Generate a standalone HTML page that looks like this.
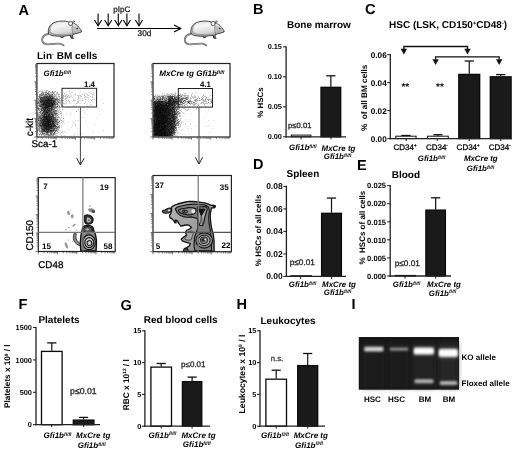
<!DOCTYPE html>
<html><head><meta charset="utf-8"><style>
html,body{margin:0;padding:0;background:#fff;width:520px;height:452px;overflow:hidden}
svg{display:block;filter:grayscale(1) blur(0.35px)}
text{font-family:"Liberation Sans",sans-serif;text-rendering:geometricPrecision}
</style></head><body>
<svg width="520" height="452" viewBox="0 0 520 452">
<text x="18.5" y="15" font-size="14.5" font-weight="bold">A</text>
<text x="253" y="14" font-size="14.5" font-weight="bold">B</text>
<text x="365" y="14" font-size="14.5" font-weight="bold">C</text>
<text x="253" y="169" font-size="14.5" font-weight="bold">D</text>
<text x="357" y="169.5" font-size="14.5" font-weight="bold">E</text>
<text x="18.5" y="309" font-size="14.5" font-weight="bold">F</text>
<text x="120.5" y="310" font-size="14.5" font-weight="bold">G</text>
<text x="236.5" y="309" font-size="14.5" font-weight="bold">H</text>
<text x="351.5" y="309" font-size="14.5" font-weight="bold">I</text>
<defs><linearGradient id="mg" x1="0" y1="0" x2="0.3" y2="1"><stop offset="0" stop-color="#dcdcdc"/><stop offset="0.35" stop-color="#f6f6f6"/><stop offset="0.75" stop-color="#d9d9d9"/><stop offset="1" stop-color="#8c8c8c"/></linearGradient></defs>
<g transform="translate(0,0)" stroke-linejoin="round" stroke-linecap="round"><path d="M48.5 33.8 C45 34.5 42.6 36.5 42.2 39 C42 41.5 43.5 43.6 46 44.2 C50 44.8 55 43.4 59.5 43.6 C61.5 43.8 62.8 44.5 63.6 45.3" fill="none" stroke="#555" stroke-width="1.8"/><path d="M48.5 33.8 C45 34.5 42.6 36.5 42.2 39 C42 41.5 43.5 43.6 46 44.2 C50 44.8 55 43.4 59.5 43.6 C61.5 43.8 62.8 44.5 63.6 45.3" fill="none" stroke="#ddd" stroke-width="0.6"/><path d="M48.4 33.2 C47.8 30 48.6 26.6 51.5 24.1 C54 22.2 57.5 21.3 61.2 21.1 C64.5 21 67 21.3 69.2 22.2 C71.5 21.8 73.5 22.4 74.5 23.6 C76.5 24.6 78.5 26.5 80.3 29.2 C81.2 30.4 81.9 31.2 81.4 31.9 C80.3 32.6 78.8 32.8 77.5 33.2 C76 33.6 74 34 72.6 34.6 L72.6 37.9 L71 37.4 L70.4 35.4 C69 35.6 67.5 35.6 66.3 35.7 L64 36.3 L61.5 37.2 L59.8 36.2 C57 36.2 53.5 36 51.2 35.2 C49.8 34.8 48.8 34.2 48.4 33.2 Z" fill="url(#mg)" stroke="#2a2a2a" stroke-width="0.85"/><path d="M48.8 32.8 C50.5 35 55 36 60 35.8 C64 35.8 67 35.6 70 35.2 C66 34.6 60 34.8 55 33.8 C52 33.2 50.2 31.8 49.5 30 Z" fill="#777" fill-opacity="0.55"/><path d="M48.6 31 C48.5 27.5 50.5 24.5 53.5 23 C51.5 25.5 50.5 28.5 50.5 31.5 Z" fill="#666" fill-opacity="0.5"/><path d="M72.5 25 C75.5 25.6 78.5 27.8 80.5 30.5 C79 31.8 76.5 32.5 74.5 32.8 C73 31 72.2 28 72.5 25 Z" fill="#9a9a9a" fill-opacity="0.5"/><path d="M72.3 25.2 C71.8 28 72 31 73.2 34" fill="none" stroke="#555" stroke-width="0.6"/><circle cx="70.6" cy="23.5" r="2.1" fill="#f7f7f7" stroke="#444" stroke-width="0.8"/><circle cx="73.7" cy="21.6" r="0.9" fill="#bbb" stroke="#555" stroke-width="0.5"/><circle cx="77.2" cy="28.4" r="0.75" fill="#111"/><circle cx="81.3" cy="31.3" r="0.5" fill="#333"/><path d="M70.6 35.3 L71.3 38.2 L73.6 38.4" fill="none" stroke="#333" stroke-width="1"/><path d="M60.3 36.1 L61 37.5 L63 37.5" fill="none" stroke="#444" stroke-width="0.9"/></g>
<g transform="translate(142.6,0)" stroke-linejoin="round" stroke-linecap="round"><path d="M48.5 33.8 C45 34.5 42.6 36.5 42.2 39 C42 41.5 43.5 43.6 46 44.2 C50 44.8 55 43.4 59.5 43.6 C61.5 43.8 62.8 44.5 63.6 45.3" fill="none" stroke="#555" stroke-width="1.8"/><path d="M48.5 33.8 C45 34.5 42.6 36.5 42.2 39 C42 41.5 43.5 43.6 46 44.2 C50 44.8 55 43.4 59.5 43.6 C61.5 43.8 62.8 44.5 63.6 45.3" fill="none" stroke="#ddd" stroke-width="0.6"/><path d="M48.4 33.2 C47.8 30 48.6 26.6 51.5 24.1 C54 22.2 57.5 21.3 61.2 21.1 C64.5 21 67 21.3 69.2 22.2 C71.5 21.8 73.5 22.4 74.5 23.6 C76.5 24.6 78.5 26.5 80.3 29.2 C81.2 30.4 81.9 31.2 81.4 31.9 C80.3 32.6 78.8 32.8 77.5 33.2 C76 33.6 74 34 72.6 34.6 L72.6 37.9 L71 37.4 L70.4 35.4 C69 35.6 67.5 35.6 66.3 35.7 L64 36.3 L61.5 37.2 L59.8 36.2 C57 36.2 53.5 36 51.2 35.2 C49.8 34.8 48.8 34.2 48.4 33.2 Z" fill="url(#mg)" stroke="#2a2a2a" stroke-width="0.85"/><path d="M48.8 32.8 C50.5 35 55 36 60 35.8 C64 35.8 67 35.6 70 35.2 C66 34.6 60 34.8 55 33.8 C52 33.2 50.2 31.8 49.5 30 Z" fill="#777" fill-opacity="0.55"/><path d="M48.6 31 C48.5 27.5 50.5 24.5 53.5 23 C51.5 25.5 50.5 28.5 50.5 31.5 Z" fill="#666" fill-opacity="0.5"/><path d="M72.5 25 C75.5 25.6 78.5 27.8 80.5 30.5 C79 31.8 76.5 32.5 74.5 32.8 C73 31 72.2 28 72.5 25 Z" fill="#9a9a9a" fill-opacity="0.5"/><path d="M72.3 25.2 C71.8 28 72 31 73.2 34" fill="none" stroke="#555" stroke-width="0.6"/><circle cx="70.6" cy="23.5" r="2.1" fill="#f7f7f7" stroke="#444" stroke-width="0.8"/><circle cx="73.7" cy="21.6" r="0.9" fill="#bbb" stroke="#555" stroke-width="0.5"/><circle cx="77.2" cy="28.4" r="0.75" fill="#111"/><circle cx="81.3" cy="31.3" r="0.5" fill="#333"/><path d="M70.6 35.3 L71.3 38.2 L73.6 38.4" fill="none" stroke="#333" stroke-width="1"/><path d="M60.3 36.1 L61 37.5 L63 37.5" fill="none" stroke="#444" stroke-width="0.9"/></g>
<line x1="98.1" y1="13.5" x2="98.1" y2="25.5" stroke="#000" stroke-width="1.1"/>
<path d="M94.5 20 L98.1 25.8 L101.69999999999999 20" fill="none" stroke="#000" stroke-width="1.1"/>
<line x1="108.2" y1="13.5" x2="108.2" y2="25.5" stroke="#000" stroke-width="1.1"/>
<path d="M104.60000000000001 20 L108.2 25.8 L111.8 20" fill="none" stroke="#000" stroke-width="1.1"/>
<line x1="118.3" y1="13.5" x2="118.3" y2="25.5" stroke="#000" stroke-width="1.1"/>
<path d="M114.7 20 L118.3 25.8 L121.89999999999999 20" fill="none" stroke="#000" stroke-width="1.1"/>
<line x1="126.9" y1="13.5" x2="126.9" y2="25.5" stroke="#000" stroke-width="1.1"/>
<path d="M123.30000000000001 20 L126.9 25.8 L130.5 20" fill="none" stroke="#000" stroke-width="1.1"/>
<line x1="139" y1="13.5" x2="139" y2="25.5" stroke="#000" stroke-width="1.1"/>
<path d="M135.4 20 L139 25.8 L142.6 20" fill="none" stroke="#000" stroke-width="1.1"/>
<line x1="97" y1="28.5" x2="180.5" y2="28.5" stroke="#000" stroke-width="1.1"/>
<path d="M174 25 L180.8 28.5 L174 32" fill="none" stroke="#000" stroke-width="1.1"/>
<text x="113.3" y="12.3" font-size="8" fill="#222" stroke="#222" stroke-width="0.28">pIpC</text>
<text x="137.6" y="36" font-size="8.3" fill="#222" stroke="#222" stroke-width="0.28">30d</text>
<text x="37" y="58.8" font-size="10" font-weight="bold">Lin<tspan font-size="5.80" dy="-3.30">-</tspan><tspan dy="3.30"> BM cells</tspan></text>
<defs><clipPath id="ca1"><rect x="38" y="64" width="75.5" height="72.5"/></clipPath><clipPath id="ca2"><rect x="153.5" y="64" width="76" height="72.5"/></clipPath><filter id="fb3" x="-50%" y="-50%" width="200%" height="200%"><feGaussianBlur stdDeviation="3"/></filter></defs>
<g clip-path="url(#ca1)"><g filter="url(#fb3)" fill="#555"><ellipse cx="47.5" cy="102.5" rx="7" ry="6"/><ellipse cx="47.5" cy="113" rx="6" ry="4"/><ellipse cx="47.5" cy="124" rx="7" ry="8.5"/></g></g>
<path d="M49 103h1v1h-1zM48 99h1v1h-1zM48 96h1v1h-1zM41 95h1v1h-1zM44 101h1v1h-1zM43 104h1v1h-1zM49 96h1v1h-1zM46 100h1v1h-1zM49 106h1v1h-1zM49 101h1v1h-1zM47 110h1v1h-1zM46 99h1v1h-1zM62 109h1v1h-1zM47 95h1v1h-1zM50 105h1v1h-1zM45 102h1v1h-1zM51 101h1v1h-1zM52 103h1v1h-1zM41 104h1v1h-1zM54 103h1v1h-1zM41 95h1v1h-1zM45 106h1v1h-1zM41 102h1v1h-1zM52 92h1v1h-1zM51 102h1v1h-1zM48 99h1v1h-1zM47 99h1v1h-1zM51 98h1v1h-1zM46 104h1v1h-1zM46 106h1v1h-1zM53 111h1v1h-1zM55 113h1v1h-1zM53 93h1v1h-1zM41 99h1v1h-1zM47 98h1v1h-1zM51 99h1v1h-1zM59 97h1v1h-1zM48 103h1v1h-1zM51 94h1v1h-1zM40 94h1v1h-1zM41 107h1v1h-1zM46 104h1v1h-1zM48 101h1v1h-1zM55 102h1v1h-1zM45 96h1v1h-1zM51 100h1v1h-1zM39 108h1v1h-1zM47 98h1v1h-1zM45 103h1v1h-1zM43 102h1v1h-1zM52 98h1v1h-1zM48 109h1v1h-1zM58 94h1v1h-1zM42 104h1v1h-1zM49 110h1v1h-1zM57 106h1v1h-1zM47 104h1v1h-1zM48 107h1v1h-1zM51 109h1v1h-1zM40 96h1v1h-1zM52 109h1v1h-1zM57 106h1v1h-1zM51 103h1v1h-1zM44 108h1v1h-1zM43 109h1v1h-1zM49 111h1v1h-1zM55 100h1v1h-1zM43 104h1v1h-1zM59 109h1v1h-1zM50 108h1v1h-1zM53 115h1v1h-1zM38 112h1v1h-1zM45 101h1v1h-1zM49 109h1v1h-1zM38 102h1v1h-1zM56 100h1v1h-1zM46 102h1v1h-1zM47 109h1v1h-1zM49 107h1v1h-1zM45 100h1v1h-1zM55 103h1v1h-1zM52 99h1v1h-1zM45 97h1v1h-1zM50 100h1v1h-1zM48 100h1v1h-1zM57 113h1v1h-1zM49 100h1v1h-1zM47 104h1v1h-1zM40 101h1v1h-1zM47 105h1v1h-1zM48 99h1v1h-1zM51 101h1v1h-1zM58 107h1v1h-1zM43 105h1v1h-1zM49 96h1v1h-1zM43 95h1v1h-1zM49 102h1v1h-1zM43 99h1v1h-1zM47 103h1v1h-1zM43 107h1v1h-1zM47 106h1v1h-1zM48 103h1v1h-1zM55 102h1v1h-1zM51 102h1v1h-1zM44 98h1v1h-1zM47 106h1v1h-1zM55 100h1v1h-1zM50 115h1v1h-1zM48 99h1v1h-1zM55 94h1v1h-1zM49 114h1v1h-1zM51 104h1v1h-1zM54 105h1v1h-1zM46 103h1v1h-1zM45 102h1v1h-1zM53 98h1v1h-1zM44 98h1v1h-1zM49 94h1v1h-1zM61 100h1v1h-1zM42 100h1v1h-1zM40 105h1v1h-1zM56 94h1v1h-1zM48 101h1v1h-1zM42 94h1v1h-1zM57 99h1v1h-1zM50 96h1v1h-1zM52 98h1v1h-1zM47 109h1v1h-1zM42 102h1v1h-1zM39 98h1v1h-1zM50 106h1v1h-1zM49 108h1v1h-1zM42 101h1v1h-1zM54 108h1v1h-1zM46 100h1v1h-1zM47 102h1v1h-1zM50 101h1v1h-1zM49 99h1v1h-1zM46 107h1v1h-1zM55 104h1v1h-1zM53 102h1v1h-1zM48 91h1v1h-1zM39 106h1v1h-1zM42 107h1v1h-1zM59 96h1v1h-1zM51 97h1v1h-1zM46 104h1v1h-1zM44 109h1v1h-1zM43 108h1v1h-1zM51 104h1v1h-1zM40 108h1v1h-1zM55 104h1v1h-1zM51 96h1v1h-1zM42 103h1v1h-1zM46 99h1v1h-1zM42 95h1v1h-1zM51 104h1v1h-1zM54 102h1v1h-1zM55 100h1v1h-1zM54 101h1v1h-1zM37 103h1v1h-1zM49 107h1v1h-1zM45 102h1v1h-1zM41 97h1v1h-1zM40 99h1v1h-1zM52 93h1v1h-1zM46 107h1v1h-1zM44 101h1v1h-1zM45 104h1v1h-1zM47 100h1v1h-1zM48 100h1v1h-1zM47 93h1v1h-1zM42 103h1v1h-1zM53 121h1v1h-1zM47 126h1v1h-1zM55 125h1v1h-1zM43 120h1v1h-1zM42 124h1v1h-1zM52 122h1v1h-1zM45 128h1v1h-1zM42 107h1v1h-1zM48 123h1v1h-1zM47 134h1v1h-1zM48 122h1v1h-1zM43 123h1v1h-1zM56 128h1v1h-1zM47 121h1v1h-1zM51 118h1v1h-1zM42 131h1v1h-1zM50 125h1v1h-1zM39 128h1v1h-1zM47 129h1v1h-1zM45 118h1v1h-1zM47 133h1v1h-1zM54 122h1v1h-1zM53 116h1v1h-1zM48 114h1v1h-1zM52 132h1v1h-1zM39 130h1v1h-1zM57 117h1v1h-1zM53 126h1v1h-1zM48 131h1v1h-1zM47 124h1v1h-1zM49 124h1v1h-1zM47 121h1v1h-1zM46 116h1v1h-1zM52 121h1v1h-1zM59 125h1v1h-1zM45 125h1v1h-1zM57 129h1v1h-1zM55 119h1v1h-1zM55 125h1v1h-1zM51 124h1v1h-1zM53 115h1v1h-1zM51 125h1v1h-1zM44 121h1v1h-1zM46 117h1v1h-1zM48 120h1v1h-1zM41 131h1v1h-1zM61 122h1v1h-1zM51 121h1v1h-1zM46 111h1v1h-1zM47 129h1v1h-1zM42 120h1v1h-1zM50 131h1v1h-1zM44 128h1v1h-1zM50 112h1v1h-1zM40 111h1v1h-1zM43 119h1v1h-1zM47 116h1v1h-1zM43 129h1v1h-1zM42 119h1v1h-1zM54 128h1v1h-1zM50 133h1v1h-1zM37 129h1v1h-1zM45 113h1v1h-1zM51 119h1v1h-1zM44 124h1v1h-1zM47 116h1v1h-1zM47 112h1v1h-1zM40 120h1v1h-1zM44 119h1v1h-1zM53 130h1v1h-1zM46 117h1v1h-1zM43 125h1v1h-1zM55 128h1v1h-1zM54 123h1v1h-1zM55 125h1v1h-1zM52 122h1v1h-1zM40 118h1v1h-1zM49 125h1v1h-1zM38 118h1v1h-1zM43 119h1v1h-1zM50 112h1v1h-1zM50 121h1v1h-1zM54 128h1v1h-1zM49 126h1v1h-1zM48 127h1v1h-1zM48 126h1v1h-1zM48 123h1v1h-1zM43 125h1v1h-1zM57 129h1v1h-1zM52 124h1v1h-1zM44 107h1v1h-1zM49 120h1v1h-1zM52 120h1v1h-1zM44 125h1v1h-1zM53 120h1v1h-1zM38 122h1v1h-1zM50 122h1v1h-1zM48 124h1v1h-1zM43 123h1v1h-1zM43 115h1v1h-1zM48 116h1v1h-1zM46 125h1v1h-1zM47 122h1v1h-1zM56 116h1v1h-1zM45 108h1v1h-1zM46 130h1v1h-1zM56 129h1v1h-1zM45 119h1v1h-1zM44 130h1v1h-1zM54 125h1v1h-1zM48 118h1v1h-1zM48 126h1v1h-1zM43 112h1v1h-1zM52 122h1v1h-1zM48 110h1v1h-1zM56 124h1v1h-1zM48 135h1v1h-1zM43 121h1v1h-1zM45 116h1v1h-1zM45 124h1v1h-1zM54 124h1v1h-1zM61 120h1v1h-1zM48 127h1v1h-1zM44 128h1v1h-1zM46 133h1v1h-1zM44 120h1v1h-1zM46 121h1v1h-1zM42 132h1v1h-1zM43 122h1v1h-1zM39 116h1v1h-1zM44 117h1v1h-1zM51 116h1v1h-1zM44 123h1v1h-1zM44 124h1v1h-1zM45 128h1v1h-1zM44 125h1v1h-1zM42 121h1v1h-1zM42 125h1v1h-1zM41 125h1v1h-1zM41 117h1v1h-1zM52 127h1v1h-1zM50 126h1v1h-1zM40 116h1v1h-1zM49 121h1v1h-1zM50 115h1v1h-1zM44 123h1v1h-1zM40 126h1v1h-1zM48 127h1v1h-1zM42 133h1v1h-1zM45 127h1v1h-1zM41 135h1v1h-1zM53 131h1v1h-1zM43 126h1v1h-1zM54 115h1v1h-1zM56 130h1v1h-1zM42 128h1v1h-1zM51 110h1v1h-1zM47 121h1v1h-1zM52 116h1v1h-1zM41 129h1v1h-1zM53 126h1v1h-1zM46 107h1v1h-1zM43 131h1v1h-1zM49 126h1v1h-1zM52 129h1v1h-1zM47 109h1v1h-1zM51 110h1v1h-1zM47 126h1v1h-1zM44 119h1v1h-1zM44 128h1v1h-1zM37 128h1v1h-1zM48 113h1v1h-1zM48 123h1v1h-1zM50 130h1v1h-1zM48 128h1v1h-1zM47 131h1v1h-1zM51 133h1v1h-1zM43 123h1v1h-1zM38 120h1v1h-1zM41 126h1v1h-1zM42 121h1v1h-1zM43 122h1v1h-1zM50 128h1v1h-1zM40 124h1v1h-1zM48 129h1v1h-1zM45 127h1v1h-1zM50 131h1v1h-1zM38 114h1v1h-1zM50 128h1v1h-1zM49 127h1v1h-1zM46 126h1v1h-1zM52 130h1v1h-1zM50 123h1v1h-1zM44 135h1v1h-1zM50 125h1v1h-1zM52 116h1v1h-1zM54 126h1v1h-1zM48 125h1v1h-1zM41 128h1v1h-1zM54 117h1v1h-1zM44 120h1v1h-1zM56 129h1v1h-1zM37 132h1v1h-1zM46 128h1v1h-1zM54 125h1v1h-1zM46 112h1v1h-1zM41 122h1v1h-1zM46 129h1v1h-1zM52 124h1v1h-1zM45 125h1v1h-1zM43 133h1v1h-1zM40 134h1v1h-1zM48 131h1v1h-1zM43 116h1v1h-1zM50 128h1v1h-1zM43 126h1v1h-1zM48 115h1v1h-1zM54 128h1v1h-1zM47 121h1v1h-1zM44 130h1v1h-1zM46 130h1v1h-1zM44 112h1v1h-1zM46 118h1v1h-1zM50 117h1v1h-1zM38 117h1v1h-1zM50 117h1v1h-1z" fill="#000" fill-opacity="0.21"/>
<path d="M52 102h1v1h-1zM51 107h1v1h-1zM46 110h1v1h-1zM45 100h1v1h-1zM47 102h1v1h-1zM52 98h1v1h-1zM42 107h1v1h-1zM43 98h1v1h-1zM39 105h1v1h-1zM47 98h1v1h-1zM51 107h1v1h-1zM52 105h1v1h-1zM42 100h1v1h-1zM43 105h1v1h-1zM45 99h1v1h-1zM56 107h1v1h-1zM58 101h1v1h-1zM44 102h1v1h-1zM43 100h1v1h-1zM48 104h1v1h-1zM58 96h1v1h-1zM46 119h1v1h-1zM50 103h1v1h-1zM44 110h1v1h-1zM46 108h1v1h-1zM50 97h1v1h-1zM52 102h1v1h-1zM52 104h1v1h-1zM43 103h1v1h-1zM44 108h1v1h-1zM46 108h1v1h-1zM47 107h1v1h-1zM54 94h1v1h-1zM51 103h1v1h-1zM38 107h1v1h-1zM53 104h1v1h-1zM38 98h1v1h-1zM56 103h1v1h-1zM52 103h1v1h-1zM44 106h1v1h-1zM46 92h1v1h-1zM51 98h1v1h-1zM46 100h1v1h-1zM52 100h1v1h-1zM43 99h1v1h-1zM45 100h1v1h-1zM51 103h1v1h-1zM53 108h1v1h-1zM51 109h1v1h-1zM51 102h1v1h-1zM49 100h1v1h-1zM55 107h1v1h-1zM54 100h1v1h-1zM48 99h1v1h-1zM47 93h1v1h-1zM48 105h1v1h-1zM49 98h1v1h-1zM46 104h1v1h-1zM58 102h1v1h-1zM48 104h1v1h-1zM46 101h1v1h-1zM37 107h1v1h-1zM48 97h1v1h-1zM42 90h1v1h-1zM48 106h1v1h-1zM45 98h1v1h-1zM43 93h1v1h-1zM40 106h1v1h-1zM41 102h1v1h-1zM53 101h1v1h-1zM54 106h1v1h-1zM47 100h1v1h-1zM41 109h1v1h-1zM44 107h1v1h-1zM53 105h1v1h-1zM46 106h1v1h-1zM48 105h1v1h-1zM38 108h1v1h-1zM47 93h1v1h-1zM53 107h1v1h-1zM50 98h1v1h-1zM51 110h1v1h-1zM49 93h1v1h-1zM44 111h1v1h-1zM49 103h1v1h-1zM54 98h1v1h-1zM48 98h1v1h-1zM39 112h1v1h-1zM47 98h1v1h-1zM55 99h1v1h-1zM50 104h1v1h-1zM53 102h1v1h-1zM42 103h1v1h-1zM46 105h1v1h-1zM60 107h1v1h-1zM42 107h1v1h-1zM49 104h1v1h-1zM51 102h1v1h-1zM47 107h1v1h-1zM58 111h1v1h-1zM49 96h1v1h-1zM52 91h1v1h-1zM58 99h1v1h-1zM43 105h1v1h-1zM57 106h1v1h-1zM45 100h1v1h-1zM43 111h1v1h-1zM48 110h1v1h-1zM50 100h1v1h-1zM46 102h1v1h-1zM49 102h1v1h-1zM43 105h1v1h-1zM46 111h1v1h-1zM54 108h1v1h-1zM44 109h1v1h-1zM46 105h1v1h-1zM44 103h1v1h-1zM46 96h1v1h-1zM57 105h1v1h-1zM41 105h1v1h-1zM51 96h1v1h-1zM52 104h1v1h-1zM47 109h1v1h-1zM40 98h1v1h-1zM52 109h1v1h-1zM49 105h1v1h-1zM40 101h1v1h-1zM50 100h1v1h-1zM54 104h1v1h-1zM53 103h1v1h-1zM45 95h1v1h-1zM43 105h1v1h-1zM40 102h1v1h-1zM39 97h1v1h-1zM58 110h1v1h-1zM43 104h1v1h-1zM52 116h1v1h-1zM52 103h1v1h-1zM46 107h1v1h-1zM45 99h1v1h-1zM42 101h1v1h-1zM56 97h1v1h-1zM54 103h1v1h-1zM41 104h1v1h-1zM63 115h1v1h-1zM51 101h1v1h-1zM44 108h1v1h-1zM57 106h1v1h-1zM55 106h1v1h-1zM55 101h1v1h-1zM46 120h1v1h-1zM46 108h1v1h-1zM52 92h1v1h-1zM40 102h1v1h-1zM47 102h1v1h-1zM53 102h1v1h-1zM45 110h1v1h-1zM43 96h1v1h-1zM61 97h1v1h-1zM51 103h1v1h-1zM41 100h1v1h-1zM54 110h1v1h-1zM46 99h1v1h-1zM40 97h1v1h-1zM45 100h1v1h-1zM44 101h1v1h-1zM54 92h1v1h-1zM43 97h1v1h-1zM49 100h1v1h-1zM57 100h1v1h-1zM56 99h1v1h-1zM55 100h1v1h-1zM42 104h1v1h-1zM39 117h1v1h-1zM45 120h1v1h-1zM45 123h1v1h-1zM48 124h1v1h-1zM42 131h1v1h-1zM53 129h1v1h-1zM49 116h1v1h-1zM49 113h1v1h-1zM39 109h1v1h-1zM44 118h1v1h-1zM45 130h1v1h-1zM43 118h1v1h-1zM46 130h1v1h-1zM38 125h1v1h-1zM49 118h1v1h-1zM40 131h1v1h-1zM49 122h1v1h-1zM43 134h1v1h-1zM39 125h1v1h-1zM53 102h1v1h-1zM48 130h1v1h-1zM51 119h1v1h-1zM45 129h1v1h-1zM53 123h1v1h-1zM37 115h1v1h-1zM45 117h1v1h-1zM47 124h1v1h-1zM56 126h1v1h-1zM52 122h1v1h-1zM51 128h1v1h-1zM48 133h1v1h-1zM55 125h1v1h-1zM55 125h1v1h-1zM43 125h1v1h-1zM46 127h1v1h-1zM47 123h1v1h-1zM57 127h1v1h-1zM61 120h1v1h-1zM48 126h1v1h-1zM44 121h1v1h-1zM44 129h1v1h-1zM41 118h1v1h-1zM45 121h1v1h-1zM45 121h1v1h-1zM42 115h1v1h-1zM49 113h1v1h-1zM42 118h1v1h-1zM43 117h1v1h-1zM45 112h1v1h-1zM58 122h1v1h-1zM38 129h1v1h-1zM46 128h1v1h-1zM48 125h1v1h-1zM39 122h1v1h-1zM47 127h1v1h-1zM51 128h1v1h-1zM46 117h1v1h-1zM54 133h1v1h-1zM59 121h1v1h-1zM49 125h1v1h-1zM46 120h1v1h-1zM52 131h1v1h-1zM43 125h1v1h-1zM47 120h1v1h-1zM51 126h1v1h-1zM44 131h1v1h-1zM44 127h1v1h-1zM49 129h1v1h-1zM49 124h1v1h-1zM37 119h1v1h-1zM42 125h1v1h-1zM48 119h1v1h-1zM41 122h1v1h-1zM52 115h1v1h-1zM47 126h1v1h-1zM45 122h1v1h-1zM47 132h1v1h-1zM42 133h1v1h-1zM57 133h1v1h-1zM47 126h1v1h-1zM48 123h1v1h-1zM51 135h1v1h-1zM54 112h1v1h-1zM48 122h1v1h-1zM51 132h1v1h-1zM45 126h1v1h-1zM45 120h1v1h-1zM39 114h1v1h-1zM53 112h1v1h-1zM58 132h1v1h-1zM43 119h1v1h-1zM51 115h1v1h-1zM50 126h1v1h-1zM55 121h1v1h-1zM52 127h1v1h-1zM47 122h1v1h-1zM45 128h1v1h-1zM43 128h1v1h-1zM52 113h1v1h-1zM47 127h1v1h-1zM46 132h1v1h-1zM40 121h1v1h-1zM50 123h1v1h-1zM63 118h1v1h-1zM53 121h1v1h-1zM51 127h1v1h-1zM46 112h1v1h-1zM50 117h1v1h-1zM52 130h1v1h-1zM57 126h1v1h-1zM55 131h1v1h-1zM51 121h1v1h-1zM47 112h1v1h-1zM51 118h1v1h-1zM45 117h1v1h-1zM47 134h1v1h-1zM45 125h1v1h-1zM46 116h1v1h-1zM48 127h1v1h-1zM53 135h1v1h-1zM41 125h1v1h-1zM39 110h1v1h-1zM40 119h1v1h-1zM56 121h1v1h-1zM48 119h1v1h-1zM52 116h1v1h-1zM48 125h1v1h-1zM44 124h1v1h-1zM52 131h1v1h-1zM41 128h1v1h-1zM40 117h1v1h-1zM51 128h1v1h-1zM55 126h1v1h-1zM46 133h1v1h-1zM46 115h1v1h-1zM47 127h1v1h-1zM53 124h1v1h-1zM44 120h1v1h-1zM53 125h1v1h-1zM59 122h1v1h-1zM48 120h1v1h-1zM52 114h1v1h-1zM51 114h1v1h-1zM44 111h1v1h-1zM51 115h1v1h-1zM39 125h1v1h-1zM56 120h1v1h-1zM56 130h1v1h-1zM44 124h1v1h-1zM54 117h1v1h-1zM54 134h1v1h-1zM44 124h1v1h-1zM44 125h1v1h-1zM44 116h1v1h-1zM48 116h1v1h-1zM42 130h1v1h-1zM54 114h1v1h-1zM45 110h1v1h-1zM55 116h1v1h-1zM53 117h1v1h-1zM42 129h1v1h-1zM49 122h1v1h-1zM49 124h1v1h-1zM48 114h1v1h-1zM53 117h1v1h-1zM49 108h1v1h-1zM53 118h1v1h-1zM56 123h1v1h-1zM46 125h1v1h-1zM48 116h1v1h-1zM50 117h1v1h-1zM49 117h1v1h-1zM49 122h1v1h-1zM49 118h1v1h-1zM49 125h1v1h-1zM51 131h1v1h-1zM49 112h1v1h-1zM46 116h1v1h-1zM48 120h1v1h-1zM50 125h1v1h-1zM50 123h1v1h-1zM43 128h1v1h-1zM41 134h1v1h-1zM59 127h1v1h-1zM45 118h1v1h-1zM52 118h1v1h-1zM45 122h1v1h-1zM57 128h1v1h-1zM58 119h1v1h-1zM40 117h1v1h-1zM42 117h1v1h-1zM57 117h1v1h-1zM54 128h1v1h-1zM52 123h1v1h-1zM52 117h1v1h-1zM51 130h1v1h-1zM51 120h1v1h-1zM41 122h1v1h-1zM41 115h1v1h-1zM43 130h1v1h-1zM39 135h1v1h-1zM56 121h1v1h-1zM49 118h1v1h-1zM53 115h1v1h-1zM53 133h1v1h-1zM50 111h1v1h-1zM48 121h1v1h-1zM46 126h1v1h-1zM47 120h1v1h-1zM53 114h1v1h-1zM54 125h1v1h-1zM49 113h1v1h-1zM41 114h1v1h-1zM61 117h1v1h-1zM53 114h1v1h-1zM48 122h1v1h-1zM47 132h1v1h-1zM52 121h1v1h-1zM57 124h1v1h-1zM47 124h1v1h-1zM53 129h1v1h-1zM49 117h1v1h-1zM44 123h1v1h-1zM43 134h1v1h-1zM46 112h1v1h-1zM51 133h1v1h-1z" fill="#000" fill-opacity="0.21"/>
<path d="M49 110h1v1h-1zM43 114h1v1h-1zM55 108h1v1h-1zM59 100h1v1h-1zM42 92h1v1h-1zM45 112h1v1h-1zM41 114h1v1h-1zM52 106h1v1h-1zM41 100h1v1h-1zM46 101h1v1h-1zM54 111h1v1h-1zM48 111h1v1h-1zM41 101h1v1h-1zM46 109h1v1h-1zM46 101h1v1h-1zM41 113h1v1h-1zM49 100h1v1h-1zM41 94h1v1h-1zM48 99h1v1h-1zM51 106h1v1h-1zM42 93h1v1h-1zM46 102h1v1h-1zM41 110h1v1h-1zM41 95h1v1h-1zM49 108h1v1h-1zM46 107h1v1h-1zM42 91h1v1h-1zM45 108h1v1h-1zM53 106h1v1h-1zM47 107h1v1h-1zM55 99h1v1h-1zM44 109h1v1h-1zM48 103h1v1h-1zM40 103h1v1h-1zM52 98h1v1h-1zM43 97h1v1h-1zM45 114h1v1h-1zM47 108h1v1h-1zM47 103h1v1h-1zM45 109h1v1h-1zM41 92h1v1h-1zM49 106h1v1h-1zM44 102h1v1h-1zM49 100h1v1h-1zM46 105h1v1h-1zM49 101h1v1h-1zM48 91h1v1h-1zM54 111h1v1h-1zM49 106h1v1h-1zM51 105h1v1h-1zM52 103h1v1h-1zM39 94h1v1h-1zM53 97h1v1h-1zM54 98h1v1h-1zM49 104h1v1h-1zM37 106h1v1h-1zM51 101h1v1h-1zM46 101h1v1h-1zM50 99h1v1h-1zM40 96h1v1h-1zM44 96h1v1h-1zM45 111h1v1h-1zM54 101h1v1h-1zM45 103h1v1h-1zM57 103h1v1h-1zM52 100h1v1h-1zM45 111h1v1h-1zM38 105h1v1h-1zM57 99h1v1h-1zM57 106h1v1h-1zM47 108h1v1h-1zM44 100h1v1h-1zM50 103h1v1h-1zM45 108h1v1h-1zM53 107h1v1h-1zM52 97h1v1h-1zM55 99h1v1h-1zM52 104h1v1h-1zM46 101h1v1h-1zM46 102h1v1h-1zM39 96h1v1h-1zM55 98h1v1h-1zM48 111h1v1h-1zM55 105h1v1h-1zM43 104h1v1h-1zM52 105h1v1h-1zM51 107h1v1h-1zM47 96h1v1h-1zM40 95h1v1h-1zM48 92h1v1h-1zM52 100h1v1h-1zM52 98h1v1h-1zM53 102h1v1h-1zM45 100h1v1h-1zM41 109h1v1h-1zM60 107h1v1h-1zM52 104h1v1h-1zM40 102h1v1h-1zM50 105h1v1h-1zM46 103h1v1h-1zM50 98h1v1h-1zM44 103h1v1h-1zM50 107h1v1h-1zM45 99h1v1h-1zM46 95h1v1h-1zM52 100h1v1h-1zM47 109h1v1h-1zM53 104h1v1h-1zM46 100h1v1h-1zM38 115h1v1h-1zM57 100h1v1h-1zM43 94h1v1h-1zM38 99h1v1h-1zM61 105h1v1h-1zM49 101h1v1h-1zM44 104h1v1h-1zM45 103h1v1h-1zM52 104h1v1h-1zM41 94h1v1h-1zM51 99h1v1h-1zM44 99h1v1h-1zM47 113h1v1h-1zM47 102h1v1h-1zM51 113h1v1h-1zM52 105h1v1h-1zM46 105h1v1h-1zM59 98h1v1h-1zM50 106h1v1h-1zM54 113h1v1h-1zM45 96h1v1h-1zM54 99h1v1h-1zM44 110h1v1h-1zM37 113h1v1h-1zM55 107h1v1h-1zM44 98h1v1h-1zM37 108h1v1h-1zM45 106h1v1h-1zM41 94h1v1h-1zM38 96h1v1h-1zM38 98h1v1h-1zM43 102h1v1h-1zM42 100h1v1h-1zM47 106h1v1h-1zM55 101h1v1h-1zM55 99h1v1h-1zM45 107h1v1h-1zM48 106h1v1h-1zM54 103h1v1h-1zM43 97h1v1h-1zM55 110h1v1h-1zM63 103h1v1h-1zM45 111h1v1h-1zM50 100h1v1h-1zM62 105h1v1h-1zM45 106h1v1h-1zM59 101h1v1h-1zM53 116h1v1h-1zM45 110h1v1h-1zM49 99h1v1h-1zM50 101h1v1h-1zM43 100h1v1h-1zM51 102h1v1h-1zM42 103h1v1h-1zM44 100h1v1h-1zM37 103h1v1h-1zM45 104h1v1h-1zM55 108h1v1h-1zM58 108h1v1h-1zM51 100h1v1h-1zM51 100h1v1h-1zM55 98h1v1h-1zM47 93h1v1h-1zM47 98h1v1h-1zM45 126h1v1h-1zM40 123h1v1h-1zM48 124h1v1h-1zM55 125h1v1h-1zM44 117h1v1h-1zM48 126h1v1h-1zM56 135h1v1h-1zM60 111h1v1h-1zM53 122h1v1h-1zM45 122h1v1h-1zM43 123h1v1h-1zM45 125h1v1h-1zM42 123h1v1h-1zM52 124h1v1h-1zM45 117h1v1h-1zM54 129h1v1h-1zM53 119h1v1h-1zM42 114h1v1h-1zM41 122h1v1h-1zM56 121h1v1h-1zM51 128h1v1h-1zM57 135h1v1h-1zM57 128h1v1h-1zM46 115h1v1h-1zM43 120h1v1h-1zM40 119h1v1h-1zM45 131h1v1h-1zM43 117h1v1h-1zM46 120h1v1h-1zM41 132h1v1h-1zM38 120h1v1h-1zM50 119h1v1h-1zM44 122h1v1h-1zM53 125h1v1h-1zM50 124h1v1h-1zM53 124h1v1h-1zM50 124h1v1h-1zM55 115h1v1h-1zM46 116h1v1h-1zM52 120h1v1h-1zM41 132h1v1h-1zM43 120h1v1h-1zM51 129h1v1h-1zM44 124h1v1h-1zM55 117h1v1h-1zM50 116h1v1h-1zM53 127h1v1h-1zM55 126h1v1h-1zM46 125h1v1h-1zM37 125h1v1h-1zM44 114h1v1h-1zM59 127h1v1h-1zM47 119h1v1h-1zM48 123h1v1h-1zM48 130h1v1h-1zM47 129h1v1h-1zM50 135h1v1h-1zM52 123h1v1h-1zM50 130h1v1h-1zM55 127h1v1h-1zM51 114h1v1h-1zM39 118h1v1h-1zM48 128h1v1h-1zM48 126h1v1h-1zM38 129h1v1h-1zM50 131h1v1h-1zM40 111h1v1h-1zM48 127h1v1h-1zM40 113h1v1h-1zM53 118h1v1h-1zM49 121h1v1h-1zM47 121h1v1h-1zM46 111h1v1h-1zM47 117h1v1h-1zM51 130h1v1h-1zM49 128h1v1h-1zM43 123h1v1h-1zM45 124h1v1h-1zM46 121h1v1h-1zM47 111h1v1h-1zM49 130h1v1h-1zM43 129h1v1h-1zM45 120h1v1h-1zM44 130h1v1h-1zM51 127h1v1h-1zM42 112h1v1h-1zM38 133h1v1h-1zM42 120h1v1h-1zM44 132h1v1h-1zM50 123h1v1h-1zM48 126h1v1h-1zM49 123h1v1h-1zM53 125h1v1h-1zM42 119h1v1h-1zM43 124h1v1h-1zM44 119h1v1h-1zM50 126h1v1h-1zM63 118h1v1h-1zM43 131h1v1h-1zM56 135h1v1h-1zM48 117h1v1h-1zM43 119h1v1h-1zM45 109h1v1h-1zM50 126h1v1h-1zM45 129h1v1h-1zM40 125h1v1h-1zM41 108h1v1h-1zM47 113h1v1h-1zM43 130h1v1h-1zM43 108h1v1h-1zM44 133h1v1h-1zM40 115h1v1h-1zM53 117h1v1h-1zM53 126h1v1h-1zM42 121h1v1h-1zM44 123h1v1h-1zM48 118h1v1h-1zM46 121h1v1h-1zM49 114h1v1h-1zM42 124h1v1h-1zM45 132h1v1h-1zM57 124h1v1h-1zM49 131h1v1h-1zM51 134h1v1h-1zM57 119h1v1h-1zM46 123h1v1h-1zM41 113h1v1h-1zM46 118h1v1h-1zM53 119h1v1h-1zM53 123h1v1h-1zM40 123h1v1h-1zM46 116h1v1h-1zM38 119h1v1h-1zM55 122h1v1h-1zM44 101h1v1h-1zM52 115h1v1h-1zM45 129h1v1h-1zM59 117h1v1h-1zM49 124h1v1h-1zM41 119h1v1h-1zM49 131h1v1h-1zM51 121h1v1h-1zM56 129h1v1h-1zM53 134h1v1h-1zM50 122h1v1h-1zM51 120h1v1h-1zM48 125h1v1h-1zM45 125h1v1h-1zM41 118h1v1h-1zM52 126h1v1h-1zM42 110h1v1h-1zM56 112h1v1h-1zM49 126h1v1h-1zM54 126h1v1h-1zM38 130h1v1h-1zM55 129h1v1h-1zM52 131h1v1h-1zM49 130h1v1h-1zM47 119h1v1h-1zM44 110h1v1h-1zM52 120h1v1h-1zM51 112h1v1h-1zM43 124h1v1h-1zM45 118h1v1h-1zM51 126h1v1h-1zM39 119h1v1h-1zM53 121h1v1h-1zM44 130h1v1h-1zM46 104h1v1h-1zM43 112h1v1h-1zM43 127h1v1h-1zM48 122h1v1h-1zM48 118h1v1h-1zM55 119h1v1h-1zM51 130h1v1h-1zM40 118h1v1h-1zM43 111h1v1h-1zM46 121h1v1h-1zM55 127h1v1h-1zM42 119h1v1h-1zM50 124h1v1h-1zM62 121h1v1h-1zM42 117h1v1h-1zM48 130h1v1h-1zM51 131h1v1h-1zM45 123h1v1h-1zM42 125h1v1h-1zM46 125h1v1h-1zM46 123h1v1h-1zM38 119h1v1h-1zM52 126h1v1h-1zM51 105h1v1h-1zM55 117h1v1h-1zM50 129h1v1h-1zM45 128h1v1h-1zM39 122h1v1h-1zM51 125h1v1h-1zM47 119h1v1h-1zM44 120h1v1h-1zM53 121h1v1h-1zM47 116h1v1h-1zM54 125h1v1h-1zM54 134h1v1h-1zM49 116h1v1h-1zM44 127h1v1h-1zM39 125h1v1h-1zM42 128h1v1h-1zM53 124h1v1h-1zM53 133h1v1h-1zM49 129h1v1h-1zM42 121h1v1h-1zM39 124h1v1h-1zM44 124h1v1h-1zM52 115h1v1h-1zM44 119h1v1h-1zM55 125h1v1h-1zM43 122h1v1h-1zM46 119h1v1h-1zM49 120h1v1h-1zM43 122h1v1h-1zM58 125h1v1h-1zM49 124h1v1h-1zM54 132h1v1h-1zM42 124h1v1h-1zM49 135h1v1h-1z" fill="#000" fill-opacity="0.21"/>
<path d="M40 98h1v1h-1zM47 109h1v1h-1zM53 116h1v1h-1zM51 102h1v1h-1zM47 103h1v1h-1zM52 105h1v1h-1zM49 106h1v1h-1zM49 94h1v1h-1zM52 97h1v1h-1zM53 96h1v1h-1zM50 96h1v1h-1zM44 99h1v1h-1zM51 102h1v1h-1zM42 107h1v1h-1zM50 118h1v1h-1zM48 103h1v1h-1zM44 113h1v1h-1zM51 109h1v1h-1zM39 103h1v1h-1zM42 104h1v1h-1zM46 112h1v1h-1zM48 104h1v1h-1zM43 106h1v1h-1zM48 100h1v1h-1zM46 110h1v1h-1zM43 107h1v1h-1zM44 99h1v1h-1zM46 102h1v1h-1zM48 100h1v1h-1zM45 103h1v1h-1zM44 113h1v1h-1zM43 104h1v1h-1zM50 96h1v1h-1zM45 93h1v1h-1zM50 108h1v1h-1zM47 101h1v1h-1zM55 108h1v1h-1zM53 92h1v1h-1zM46 105h1v1h-1zM58 100h1v1h-1zM53 100h1v1h-1zM46 108h1v1h-1zM51 101h1v1h-1zM45 97h1v1h-1zM49 101h1v1h-1zM48 106h1v1h-1zM49 102h1v1h-1zM47 106h1v1h-1zM48 99h1v1h-1zM49 104h1v1h-1zM42 113h1v1h-1zM40 101h1v1h-1zM48 101h1v1h-1zM41 98h1v1h-1zM43 102h1v1h-1zM50 95h1v1h-1zM46 96h1v1h-1zM40 106h1v1h-1zM49 95h1v1h-1zM48 93h1v1h-1zM43 98h1v1h-1zM53 101h1v1h-1zM43 98h1v1h-1zM45 106h1v1h-1zM48 98h1v1h-1zM43 110h1v1h-1zM52 103h1v1h-1zM44 106h1v1h-1zM56 111h1v1h-1zM45 109h1v1h-1zM49 91h1v1h-1zM45 103h1v1h-1zM54 107h1v1h-1zM48 104h1v1h-1zM43 101h1v1h-1zM44 95h1v1h-1zM57 101h1v1h-1zM49 96h1v1h-1zM42 102h1v1h-1zM46 101h1v1h-1zM49 104h1v1h-1zM54 100h1v1h-1zM54 101h1v1h-1zM48 105h1v1h-1zM50 102h1v1h-1zM43 104h1v1h-1zM42 97h1v1h-1zM52 100h1v1h-1zM54 102h1v1h-1zM44 98h1v1h-1zM37 108h1v1h-1zM47 107h1v1h-1zM45 92h1v1h-1zM41 91h1v1h-1zM43 99h1v1h-1zM53 101h1v1h-1zM47 107h1v1h-1zM40 95h1v1h-1zM46 106h1v1h-1zM50 95h1v1h-1zM51 109h1v1h-1zM52 105h1v1h-1zM44 97h1v1h-1zM56 99h1v1h-1zM52 106h1v1h-1zM44 102h1v1h-1zM50 105h1v1h-1zM44 97h1v1h-1zM48 99h1v1h-1zM50 102h1v1h-1zM44 99h1v1h-1zM43 107h1v1h-1zM56 108h1v1h-1zM37 103h1v1h-1zM47 98h1v1h-1zM48 108h1v1h-1zM51 105h1v1h-1zM50 98h1v1h-1zM49 106h1v1h-1zM49 106h1v1h-1zM50 99h1v1h-1zM43 92h1v1h-1zM61 105h1v1h-1zM40 100h1v1h-1zM52 107h1v1h-1zM57 103h1v1h-1zM50 108h1v1h-1zM47 90h1v1h-1zM48 103h1v1h-1zM52 107h1v1h-1zM48 97h1v1h-1zM51 107h1v1h-1zM54 95h1v1h-1zM43 102h1v1h-1zM50 99h1v1h-1zM55 107h1v1h-1zM43 96h1v1h-1zM42 99h1v1h-1zM48 103h1v1h-1zM49 100h1v1h-1zM50 102h1v1h-1zM42 101h1v1h-1zM46 102h1v1h-1zM42 98h1v1h-1zM41 101h1v1h-1zM52 98h1v1h-1zM45 93h1v1h-1zM44 105h1v1h-1zM49 105h1v1h-1zM40 98h1v1h-1zM49 105h1v1h-1zM54 97h1v1h-1zM43 99h1v1h-1zM53 97h1v1h-1zM48 92h1v1h-1zM44 106h1v1h-1zM52 97h1v1h-1zM40 104h1v1h-1zM57 115h1v1h-1zM45 94h1v1h-1zM57 104h1v1h-1zM52 103h1v1h-1zM52 107h1v1h-1zM57 98h1v1h-1zM49 97h1v1h-1zM54 106h1v1h-1zM44 110h1v1h-1zM43 100h1v1h-1zM50 111h1v1h-1zM41 93h1v1h-1zM45 103h1v1h-1zM55 91h1v1h-1zM42 106h1v1h-1zM46 113h1v1h-1zM47 124h1v1h-1zM49 123h1v1h-1zM47 123h1v1h-1zM54 125h1v1h-1zM53 113h1v1h-1zM47 123h1v1h-1zM45 122h1v1h-1zM51 116h1v1h-1zM45 120h1v1h-1zM48 126h1v1h-1zM41 120h1v1h-1zM44 127h1v1h-1zM44 114h1v1h-1zM48 123h1v1h-1zM44 119h1v1h-1zM57 127h1v1h-1zM52 125h1v1h-1zM44 127h1v1h-1zM45 116h1v1h-1zM52 121h1v1h-1zM46 131h1v1h-1zM50 128h1v1h-1zM48 128h1v1h-1zM43 123h1v1h-1zM47 119h1v1h-1zM53 133h1v1h-1zM45 121h1v1h-1zM41 135h1v1h-1zM42 117h1v1h-1zM38 118h1v1h-1zM56 113h1v1h-1zM41 119h1v1h-1zM55 120h1v1h-1zM44 117h1v1h-1zM50 122h1v1h-1zM44 128h1v1h-1zM53 115h1v1h-1zM49 117h1v1h-1zM59 125h1v1h-1zM47 112h1v1h-1zM39 125h1v1h-1zM46 127h1v1h-1zM49 122h1v1h-1zM47 115h1v1h-1zM47 126h1v1h-1zM45 122h1v1h-1zM57 124h1v1h-1zM44 121h1v1h-1zM47 128h1v1h-1zM43 114h1v1h-1zM46 116h1v1h-1zM51 130h1v1h-1zM40 120h1v1h-1zM50 120h1v1h-1zM50 131h1v1h-1zM49 125h1v1h-1zM49 127h1v1h-1zM53 127h1v1h-1zM49 115h1v1h-1zM47 132h1v1h-1zM53 124h1v1h-1zM50 124h1v1h-1zM48 130h1v1h-1zM52 125h1v1h-1zM45 122h1v1h-1zM53 119h1v1h-1zM51 128h1v1h-1zM53 120h1v1h-1zM47 124h1v1h-1zM53 129h1v1h-1zM49 126h1v1h-1zM57 126h1v1h-1zM45 124h1v1h-1zM50 119h1v1h-1zM54 122h1v1h-1zM49 119h1v1h-1zM57 120h1v1h-1zM48 121h1v1h-1zM53 125h1v1h-1zM51 114h1v1h-1zM56 118h1v1h-1zM50 120h1v1h-1zM55 125h1v1h-1zM46 118h1v1h-1zM43 128h1v1h-1zM49 122h1v1h-1zM37 114h1v1h-1zM46 111h1v1h-1zM45 120h1v1h-1zM41 120h1v1h-1zM55 118h1v1h-1zM43 125h1v1h-1zM40 123h1v1h-1zM38 119h1v1h-1zM51 125h1v1h-1zM49 113h1v1h-1zM54 113h1v1h-1zM47 127h1v1h-1zM42 122h1v1h-1zM41 121h1v1h-1zM49 121h1v1h-1zM45 123h1v1h-1zM39 134h1v1h-1zM50 114h1v1h-1zM45 122h1v1h-1zM50 133h1v1h-1zM47 106h1v1h-1zM44 128h1v1h-1zM49 124h1v1h-1zM41 118h1v1h-1zM40 104h1v1h-1zM42 132h1v1h-1zM53 127h1v1h-1zM43 122h1v1h-1zM51 123h1v1h-1zM43 116h1v1h-1zM37 131h1v1h-1zM39 134h1v1h-1zM58 122h1v1h-1zM47 122h1v1h-1zM47 120h1v1h-1zM45 110h1v1h-1zM49 120h1v1h-1zM43 127h1v1h-1zM42 129h1v1h-1zM47 118h1v1h-1zM49 125h1v1h-1zM41 126h1v1h-1zM45 121h1v1h-1zM39 120h1v1h-1zM50 118h1v1h-1zM46 132h1v1h-1zM53 124h1v1h-1zM48 123h1v1h-1zM56 110h1v1h-1zM39 120h1v1h-1zM53 115h1v1h-1zM46 116h1v1h-1zM44 107h1v1h-1zM51 133h1v1h-1zM57 124h1v1h-1zM39 124h1v1h-1zM52 116h1v1h-1zM46 130h1v1h-1zM43 115h1v1h-1zM46 117h1v1h-1zM52 116h1v1h-1zM45 131h1v1h-1zM59 117h1v1h-1zM49 122h1v1h-1zM50 127h1v1h-1zM52 117h1v1h-1zM52 124h1v1h-1zM42 120h1v1h-1zM42 110h1v1h-1zM43 110h1v1h-1zM51 130h1v1h-1zM48 121h1v1h-1zM52 130h1v1h-1zM42 115h1v1h-1zM52 126h1v1h-1zM53 111h1v1h-1zM47 132h1v1h-1zM51 128h1v1h-1zM47 113h1v1h-1zM53 104h1v1h-1zM44 126h1v1h-1zM53 117h1v1h-1zM58 129h1v1h-1zM55 125h1v1h-1zM47 120h1v1h-1zM51 122h1v1h-1zM48 120h1v1h-1zM60 113h1v1h-1zM42 116h1v1h-1zM51 134h1v1h-1zM45 121h1v1h-1zM55 111h1v1h-1zM44 130h1v1h-1zM57 131h1v1h-1zM54 125h1v1h-1zM49 124h1v1h-1zM47 113h1v1h-1zM52 128h1v1h-1zM53 130h1v1h-1zM43 116h1v1h-1zM44 134h1v1h-1zM48 123h1v1h-1zM45 119h1v1h-1zM55 125h1v1h-1zM48 116h1v1h-1zM48 132h1v1h-1zM46 127h1v1h-1zM56 130h1v1h-1zM44 116h1v1h-1zM50 119h1v1h-1zM44 131h1v1h-1zM48 132h1v1h-1zM48 128h1v1h-1zM53 126h1v1h-1zM53 127h1v1h-1zM44 121h1v1h-1zM55 131h1v1h-1zM56 126h1v1h-1zM55 126h1v1h-1zM39 112h1v1h-1zM49 114h1v1h-1zM50 128h1v1h-1zM44 123h1v1h-1zM57 122h1v1h-1zM39 116h1v1h-1zM44 128h1v1h-1zM42 124h1v1h-1zM48 129h1v1h-1zM54 132h1v1h-1zM50 119h1v1h-1zM50 116h1v1h-1zM49 126h1v1h-1zM45 121h1v1h-1zM53 129h1v1h-1zM47 120h1v1h-1zM43 124h1v1h-1zM53 119h1v1h-1zM43 125h1v1h-1z" fill="#000" fill-opacity="0.21"/>
<path d="M52 100h1v1h-1zM45 92h1v1h-1zM37 94h1v1h-1zM51 103h1v1h-1zM48 97h1v1h-1zM42 98h1v1h-1zM45 102h1v1h-1zM52 102h1v1h-1zM51 103h1v1h-1zM47 113h1v1h-1zM43 98h1v1h-1zM50 94h1v1h-1zM43 94h1v1h-1zM48 97h1v1h-1zM49 101h1v1h-1zM47 97h1v1h-1zM47 97h1v1h-1zM55 105h1v1h-1zM48 102h1v1h-1zM58 101h1v1h-1zM50 94h1v1h-1zM46 100h1v1h-1zM49 99h1v1h-1zM47 100h1v1h-1zM47 112h1v1h-1zM51 96h1v1h-1zM49 100h1v1h-1zM50 98h1v1h-1zM52 95h1v1h-1zM44 103h1v1h-1zM43 93h1v1h-1zM45 101h1v1h-1zM40 104h1v1h-1zM49 101h1v1h-1zM52 109h1v1h-1zM48 103h1v1h-1zM40 101h1v1h-1zM43 103h1v1h-1zM46 97h1v1h-1zM39 91h1v1h-1zM52 111h1v1h-1zM53 117h1v1h-1zM48 107h1v1h-1zM48 107h1v1h-1zM58 96h1v1h-1zM46 112h1v1h-1zM51 109h1v1h-1zM43 104h1v1h-1zM40 107h1v1h-1zM40 97h1v1h-1zM53 98h1v1h-1zM44 105h1v1h-1zM53 100h1v1h-1zM44 111h1v1h-1zM52 101h1v1h-1zM58 99h1v1h-1zM53 109h1v1h-1zM39 97h1v1h-1zM58 102h1v1h-1zM52 105h1v1h-1zM50 98h1v1h-1zM42 100h1v1h-1zM40 98h1v1h-1zM44 98h1v1h-1zM54 109h1v1h-1zM51 103h1v1h-1zM42 108h1v1h-1zM44 109h1v1h-1zM49 108h1v1h-1zM53 102h1v1h-1zM44 100h1v1h-1zM42 104h1v1h-1zM49 98h1v1h-1zM43 108h1v1h-1zM39 108h1v1h-1zM42 105h1v1h-1zM44 95h1v1h-1zM42 108h1v1h-1zM47 106h1v1h-1zM52 105h1v1h-1zM42 99h1v1h-1zM39 115h1v1h-1zM56 107h1v1h-1zM56 98h1v1h-1zM55 102h1v1h-1zM60 103h1v1h-1zM41 104h1v1h-1zM40 98h1v1h-1zM48 105h1v1h-1zM46 106h1v1h-1zM52 104h1v1h-1zM43 110h1v1h-1zM43 93h1v1h-1zM51 110h1v1h-1zM42 106h1v1h-1zM51 96h1v1h-1zM52 98h1v1h-1zM38 103h1v1h-1zM44 90h1v1h-1zM51 102h1v1h-1zM41 103h1v1h-1zM49 101h1v1h-1zM45 105h1v1h-1zM48 106h1v1h-1zM46 111h1v1h-1zM45 101h1v1h-1zM59 99h1v1h-1zM50 105h1v1h-1zM42 113h1v1h-1zM47 105h1v1h-1zM47 96h1v1h-1zM52 92h1v1h-1zM40 101h1v1h-1zM53 101h1v1h-1zM51 93h1v1h-1zM40 101h1v1h-1zM48 94h1v1h-1zM56 113h1v1h-1zM40 105h1v1h-1zM47 100h1v1h-1zM54 114h1v1h-1zM41 105h1v1h-1zM39 106h1v1h-1zM52 95h1v1h-1zM56 99h1v1h-1zM41 93h1v1h-1zM47 107h1v1h-1zM50 108h1v1h-1zM57 103h1v1h-1zM39 106h1v1h-1zM54 103h1v1h-1zM60 98h1v1h-1zM46 102h1v1h-1zM37 107h1v1h-1zM48 111h1v1h-1zM43 101h1v1h-1zM42 101h1v1h-1zM46 99h1v1h-1zM53 106h1v1h-1zM51 107h1v1h-1zM44 109h1v1h-1zM41 103h1v1h-1zM48 122h1v1h-1zM43 108h1v1h-1zM45 108h1v1h-1zM53 105h1v1h-1zM46 94h1v1h-1zM51 97h1v1h-1zM46 102h1v1h-1zM55 113h1v1h-1zM41 95h1v1h-1zM41 97h1v1h-1zM46 106h1v1h-1zM44 102h1v1h-1zM49 95h1v1h-1zM44 107h1v1h-1zM41 99h1v1h-1zM43 102h1v1h-1zM45 104h1v1h-1zM44 96h1v1h-1zM45 107h1v1h-1zM51 99h1v1h-1zM49 103h1v1h-1zM61 112h1v1h-1zM52 98h1v1h-1zM44 96h1v1h-1zM45 105h1v1h-1zM44 101h1v1h-1zM43 107h1v1h-1zM40 91h1v1h-1zM46 103h1v1h-1zM46 97h1v1h-1zM50 102h1v1h-1zM44 131h1v1h-1zM48 115h1v1h-1zM51 109h1v1h-1zM50 124h1v1h-1zM46 118h1v1h-1zM40 125h1v1h-1zM43 120h1v1h-1zM54 132h1v1h-1zM47 118h1v1h-1zM50 119h1v1h-1zM43 119h1v1h-1zM50 118h1v1h-1zM52 128h1v1h-1zM50 124h1v1h-1zM47 125h1v1h-1zM49 130h1v1h-1zM51 118h1v1h-1zM44 125h1v1h-1zM47 125h1v1h-1zM46 127h1v1h-1zM46 128h1v1h-1zM46 126h1v1h-1zM55 122h1v1h-1zM48 122h1v1h-1zM56 117h1v1h-1zM48 112h1v1h-1zM44 129h1v1h-1zM40 125h1v1h-1zM56 115h1v1h-1zM43 124h1v1h-1zM50 130h1v1h-1zM52 116h1v1h-1zM44 120h1v1h-1zM47 124h1v1h-1zM48 131h1v1h-1zM49 116h1v1h-1zM40 123h1v1h-1zM38 118h1v1h-1zM50 113h1v1h-1zM50 127h1v1h-1zM44 127h1v1h-1zM46 121h1v1h-1zM46 132h1v1h-1zM48 129h1v1h-1zM53 122h1v1h-1zM38 115h1v1h-1zM42 122h1v1h-1zM47 122h1v1h-1zM47 119h1v1h-1zM41 128h1v1h-1zM52 118h1v1h-1zM46 125h1v1h-1zM52 111h1v1h-1zM47 120h1v1h-1zM61 125h1v1h-1zM46 123h1v1h-1zM44 131h1v1h-1zM50 117h1v1h-1zM53 125h1v1h-1zM52 134h1v1h-1zM42 120h1v1h-1zM63 133h1v1h-1zM53 123h1v1h-1zM47 118h1v1h-1zM48 130h1v1h-1zM46 132h1v1h-1zM51 128h1v1h-1zM46 123h1v1h-1zM51 128h1v1h-1zM45 123h1v1h-1zM47 122h1v1h-1zM43 117h1v1h-1zM55 125h1v1h-1zM49 106h1v1h-1zM44 118h1v1h-1zM41 125h1v1h-1zM45 119h1v1h-1zM41 125h1v1h-1zM62 131h1v1h-1zM51 118h1v1h-1zM41 126h1v1h-1zM49 122h1v1h-1zM40 115h1v1h-1zM60 119h1v1h-1zM43 113h1v1h-1zM50 124h1v1h-1zM53 123h1v1h-1zM52 121h1v1h-1zM51 113h1v1h-1zM38 120h1v1h-1zM46 131h1v1h-1zM44 123h1v1h-1zM50 128h1v1h-1zM40 122h1v1h-1zM49 117h1v1h-1zM43 119h1v1h-1zM52 121h1v1h-1zM54 126h1v1h-1zM47 122h1v1h-1zM40 117h1v1h-1zM42 123h1v1h-1zM41 120h1v1h-1zM54 112h1v1h-1zM56 120h1v1h-1zM37 112h1v1h-1zM56 128h1v1h-1zM51 125h1v1h-1zM59 120h1v1h-1zM38 117h1v1h-1zM47 116h1v1h-1zM41 112h1v1h-1zM48 123h1v1h-1zM48 119h1v1h-1zM52 128h1v1h-1zM51 126h1v1h-1zM45 117h1v1h-1zM53 119h1v1h-1zM38 126h1v1h-1zM44 125h1v1h-1zM47 117h1v1h-1zM55 117h1v1h-1zM48 128h1v1h-1zM53 127h1v1h-1zM50 121h1v1h-1zM51 127h1v1h-1zM48 125h1v1h-1zM42 124h1v1h-1zM44 129h1v1h-1zM47 131h1v1h-1zM49 118h1v1h-1zM48 115h1v1h-1zM45 120h1v1h-1zM59 128h1v1h-1zM50 106h1v1h-1zM47 125h1v1h-1zM49 116h1v1h-1zM47 116h1v1h-1zM41 130h1v1h-1zM47 119h1v1h-1zM53 128h1v1h-1zM45 128h1v1h-1zM51 114h1v1h-1zM53 110h1v1h-1zM44 114h1v1h-1zM44 125h1v1h-1zM38 109h1v1h-1zM46 124h1v1h-1zM41 129h1v1h-1zM55 127h1v1h-1zM59 112h1v1h-1zM46 116h1v1h-1zM54 118h1v1h-1zM46 119h1v1h-1zM42 115h1v1h-1zM48 125h1v1h-1zM44 115h1v1h-1zM46 114h1v1h-1zM51 125h1v1h-1zM54 132h1v1h-1zM49 113h1v1h-1zM41 129h1v1h-1zM42 131h1v1h-1zM48 134h1v1h-1zM43 130h1v1h-1zM50 130h1v1h-1zM52 119h1v1h-1zM40 118h1v1h-1zM50 121h1v1h-1zM43 122h1v1h-1zM49 135h1v1h-1zM42 133h1v1h-1zM55 118h1v1h-1zM47 126h1v1h-1zM47 119h1v1h-1zM46 119h1v1h-1zM45 120h1v1h-1zM47 118h1v1h-1zM48 131h1v1h-1zM48 130h1v1h-1zM54 120h1v1h-1zM49 117h1v1h-1zM44 113h1v1h-1zM40 117h1v1h-1zM51 117h1v1h-1zM50 126h1v1h-1zM46 115h1v1h-1zM56 127h1v1h-1zM48 114h1v1h-1zM45 128h1v1h-1zM48 125h1v1h-1zM53 115h1v1h-1zM47 128h1v1h-1zM43 120h1v1h-1zM53 131h1v1h-1zM47 120h1v1h-1zM44 103h1v1h-1zM48 128h1v1h-1zM53 123h1v1h-1zM51 129h1v1h-1zM40 116h1v1h-1zM47 131h1v1h-1zM51 120h1v1h-1zM50 113h1v1h-1zM44 127h1v1h-1zM56 128h1v1h-1zM51 120h1v1h-1zM56 119h1v1h-1zM41 128h1v1h-1zM47 117h1v1h-1zM42 123h1v1h-1zM51 116h1v1h-1zM47 121h1v1h-1zM50 115h1v1h-1zM47 123h1v1h-1zM45 119h1v1h-1zM39 123h1v1h-1zM53 120h1v1h-1zM51 131h1v1h-1zM44 131h1v1h-1zM48 114h1v1h-1zM50 128h1v1h-1zM49 125h1v1h-1zM43 119h1v1h-1zM48 121h1v1h-1zM54 127h1v1h-1z" fill="#000" fill-opacity="0.21"/>
<path d="M50 101h1v1h-1zM51 107h1v1h-1zM47 108h1v1h-1zM45 99h1v1h-1zM48 103h1v1h-1zM53 104h1v1h-1zM49 103h1v1h-1zM46 95h1v1h-1zM44 99h1v1h-1zM48 96h1v1h-1zM39 104h1v1h-1zM42 105h1v1h-1zM45 105h1v1h-1zM41 95h1v1h-1zM41 106h1v1h-1zM52 103h1v1h-1zM47 100h1v1h-1zM50 104h1v1h-1zM45 111h1v1h-1zM59 105h1v1h-1zM44 101h1v1h-1zM52 102h1v1h-1zM50 105h1v1h-1zM49 100h1v1h-1zM49 105h1v1h-1zM38 105h1v1h-1zM44 104h1v1h-1zM43 98h1v1h-1zM48 111h1v1h-1zM48 98h1v1h-1zM45 95h1v1h-1zM46 98h1v1h-1zM51 100h1v1h-1zM51 104h1v1h-1zM46 96h1v1h-1zM54 103h1v1h-1zM41 94h1v1h-1zM46 104h1v1h-1zM38 96h1v1h-1zM51 106h1v1h-1zM44 111h1v1h-1zM44 107h1v1h-1zM41 110h1v1h-1zM52 107h1v1h-1zM48 102h1v1h-1zM46 111h1v1h-1zM44 97h1v1h-1zM41 109h1v1h-1zM59 96h1v1h-1zM44 102h1v1h-1zM51 105h1v1h-1zM44 103h1v1h-1zM42 101h1v1h-1zM43 103h1v1h-1zM53 93h1v1h-1zM51 106h1v1h-1zM46 93h1v1h-1zM45 105h1v1h-1zM47 99h1v1h-1zM46 99h1v1h-1zM46 96h1v1h-1zM45 104h1v1h-1zM38 101h1v1h-1zM40 101h1v1h-1zM47 105h1v1h-1zM42 106h1v1h-1zM53 102h1v1h-1zM44 104h1v1h-1zM44 103h1v1h-1zM43 100h1v1h-1zM41 109h1v1h-1zM53 93h1v1h-1zM44 101h1v1h-1zM43 111h1v1h-1zM47 99h1v1h-1zM39 96h1v1h-1zM41 101h1v1h-1zM50 104h1v1h-1zM44 104h1v1h-1zM49 105h1v1h-1zM46 95h1v1h-1zM48 104h1v1h-1zM45 106h1v1h-1zM55 104h1v1h-1zM40 94h1v1h-1zM49 105h1v1h-1zM51 104h1v1h-1zM57 113h1v1h-1zM45 100h1v1h-1zM48 104h1v1h-1zM47 105h1v1h-1zM49 99h1v1h-1zM51 105h1v1h-1zM41 99h1v1h-1zM52 96h1v1h-1zM46 102h1v1h-1zM41 103h1v1h-1zM47 101h1v1h-1zM48 105h1v1h-1zM55 106h1v1h-1zM53 100h1v1h-1zM50 97h1v1h-1zM54 98h1v1h-1zM46 103h1v1h-1zM43 103h1v1h-1zM48 98h1v1h-1zM52 104h1v1h-1zM51 108h1v1h-1zM48 93h1v1h-1zM42 98h1v1h-1zM50 106h1v1h-1zM40 102h1v1h-1zM45 99h1v1h-1zM48 106h1v1h-1zM56 106h1v1h-1zM41 97h1v1h-1zM41 98h1v1h-1zM50 94h1v1h-1zM38 109h1v1h-1zM47 98h1v1h-1zM46 98h1v1h-1zM50 106h1v1h-1zM48 105h1v1h-1zM52 100h1v1h-1zM54 100h1v1h-1zM47 97h1v1h-1zM48 117h1v1h-1zM53 103h1v1h-1zM49 102h1v1h-1zM45 103h1v1h-1zM60 111h1v1h-1zM51 103h1v1h-1zM45 95h1v1h-1zM41 105h1v1h-1zM62 102h1v1h-1zM46 107h1v1h-1zM51 110h1v1h-1zM41 100h1v1h-1zM51 100h1v1h-1zM48 103h1v1h-1zM49 97h1v1h-1zM45 101h1v1h-1zM47 106h1v1h-1zM49 102h1v1h-1zM49 99h1v1h-1zM47 99h1v1h-1zM43 105h1v1h-1zM44 107h1v1h-1zM47 102h1v1h-1zM55 114h1v1h-1zM46 90h1v1h-1zM41 98h1v1h-1zM54 98h1v1h-1zM47 103h1v1h-1zM42 106h1v1h-1zM47 100h1v1h-1zM59 105h1v1h-1zM47 96h1v1h-1zM39 95h1v1h-1zM48 102h1v1h-1zM51 96h1v1h-1zM59 99h1v1h-1zM45 98h1v1h-1zM45 94h1v1h-1zM37 102h1v1h-1zM56 107h1v1h-1zM47 105h1v1h-1zM43 92h1v1h-1zM50 97h1v1h-1zM54 102h1v1h-1zM56 104h1v1h-1zM55 98h1v1h-1zM51 102h1v1h-1zM51 117h1v1h-1zM43 121h1v1h-1zM37 124h1v1h-1zM46 119h1v1h-1zM43 125h1v1h-1zM43 123h1v1h-1zM42 125h1v1h-1zM44 121h1v1h-1zM48 120h1v1h-1zM48 127h1v1h-1zM44 126h1v1h-1zM53 129h1v1h-1zM53 123h1v1h-1zM43 108h1v1h-1zM46 134h1v1h-1zM40 133h1v1h-1zM47 122h1v1h-1zM37 122h1v1h-1zM49 120h1v1h-1zM39 130h1v1h-1zM47 105h1v1h-1zM47 126h1v1h-1zM51 119h1v1h-1zM48 112h1v1h-1zM43 119h1v1h-1zM50 123h1v1h-1zM53 121h1v1h-1zM38 127h1v1h-1zM46 116h1v1h-1zM48 117h1v1h-1zM38 116h1v1h-1zM42 129h1v1h-1zM45 130h1v1h-1zM43 116h1v1h-1zM40 125h1v1h-1zM55 117h1v1h-1zM44 118h1v1h-1zM46 125h1v1h-1zM52 128h1v1h-1zM49 119h1v1h-1zM54 122h1v1h-1zM42 113h1v1h-1zM47 126h1v1h-1zM46 125h1v1h-1zM44 125h1v1h-1zM49 130h1v1h-1zM53 126h1v1h-1zM48 118h1v1h-1zM50 118h1v1h-1zM46 127h1v1h-1zM39 127h1v1h-1zM50 123h1v1h-1zM50 128h1v1h-1zM52 125h1v1h-1zM57 119h1v1h-1zM50 127h1v1h-1zM50 134h1v1h-1zM44 130h1v1h-1zM46 126h1v1h-1zM49 119h1v1h-1zM42 120h1v1h-1zM41 127h1v1h-1zM47 121h1v1h-1zM45 124h1v1h-1zM44 126h1v1h-1zM54 120h1v1h-1zM49 134h1v1h-1zM58 127h1v1h-1zM47 118h1v1h-1zM48 129h1v1h-1zM38 108h1v1h-1zM39 105h1v1h-1zM50 117h1v1h-1zM51 106h1v1h-1zM49 122h1v1h-1zM56 113h1v1h-1zM46 117h1v1h-1zM41 111h1v1h-1zM44 130h1v1h-1zM50 121h1v1h-1zM46 121h1v1h-1zM53 111h1v1h-1zM43 131h1v1h-1zM51 125h1v1h-1zM47 121h1v1h-1zM51 118h1v1h-1zM47 116h1v1h-1zM47 128h1v1h-1zM54 124h1v1h-1zM52 124h1v1h-1zM55 121h1v1h-1zM46 115h1v1h-1zM51 126h1v1h-1zM40 126h1v1h-1zM57 127h1v1h-1zM48 120h1v1h-1zM44 116h1v1h-1zM54 125h1v1h-1zM47 123h1v1h-1zM53 112h1v1h-1zM51 112h1v1h-1zM41 117h1v1h-1zM53 130h1v1h-1zM51 133h1v1h-1zM42 134h1v1h-1zM45 117h1v1h-1zM52 126h1v1h-1zM48 120h1v1h-1zM47 119h1v1h-1zM44 130h1v1h-1zM50 130h1v1h-1zM49 128h1v1h-1zM51 132h1v1h-1zM44 130h1v1h-1zM46 127h1v1h-1zM44 118h1v1h-1zM51 125h1v1h-1zM43 128h1v1h-1zM43 114h1v1h-1zM48 115h1v1h-1zM50 112h1v1h-1zM48 116h1v1h-1zM43 125h1v1h-1zM48 122h1v1h-1zM37 116h1v1h-1zM52 124h1v1h-1zM50 120h1v1h-1zM44 118h1v1h-1zM50 124h1v1h-1zM40 120h1v1h-1zM41 109h1v1h-1zM42 117h1v1h-1zM45 127h1v1h-1zM56 127h1v1h-1zM46 125h1v1h-1zM47 128h1v1h-1zM41 131h1v1h-1zM42 123h1v1h-1zM51 126h1v1h-1zM55 117h1v1h-1zM45 121h1v1h-1zM45 113h1v1h-1zM49 111h1v1h-1zM44 129h1v1h-1zM43 124h1v1h-1zM42 125h1v1h-1zM51 123h1v1h-1zM46 129h1v1h-1zM46 124h1v1h-1zM39 127h1v1h-1zM50 124h1v1h-1zM52 123h1v1h-1zM51 124h1v1h-1zM41 134h1v1h-1zM47 114h1v1h-1zM56 122h1v1h-1zM48 125h1v1h-1zM46 122h1v1h-1zM57 122h1v1h-1zM56 114h1v1h-1zM52 121h1v1h-1zM57 130h1v1h-1zM46 118h1v1h-1zM47 112h1v1h-1zM39 117h1v1h-1zM49 120h1v1h-1zM49 122h1v1h-1zM57 120h1v1h-1zM43 126h1v1h-1zM54 132h1v1h-1zM48 121h1v1h-1zM51 126h1v1h-1zM43 118h1v1h-1zM43 131h1v1h-1zM55 123h1v1h-1zM47 125h1v1h-1zM45 122h1v1h-1zM48 119h1v1h-1zM43 132h1v1h-1zM47 130h1v1h-1zM46 121h1v1h-1zM52 114h1v1h-1zM51 111h1v1h-1zM46 114h1v1h-1zM48 122h1v1h-1zM56 123h1v1h-1zM53 126h1v1h-1zM42 130h1v1h-1zM54 118h1v1h-1zM42 124h1v1h-1zM56 131h1v1h-1zM51 117h1v1h-1zM49 126h1v1h-1zM51 121h1v1h-1zM47 126h1v1h-1zM51 123h1v1h-1zM49 121h1v1h-1zM40 117h1v1h-1zM52 125h1v1h-1zM50 133h1v1h-1zM41 125h1v1h-1zM51 127h1v1h-1zM49 128h1v1h-1zM53 122h1v1h-1zM57 130h1v1h-1zM47 117h1v1h-1zM48 125h1v1h-1zM55 125h1v1h-1zM47 120h1v1h-1zM44 118h1v1h-1zM47 132h1v1h-1zM40 133h1v1h-1zM51 123h1v1h-1zM49 128h1v1h-1zM42 124h1v1h-1zM46 124h1v1h-1zM50 118h1v1h-1zM48 119h1v1h-1zM39 124h1v1h-1zM54 120h1v1h-1zM56 123h1v1h-1zM40 121h1v1h-1zM46 119h1v1h-1zM51 121h1v1h-1zM44 115h1v1h-1z" fill="#000" fill-opacity="0.21"/>
<path d="M45 102h1v1h-1zM48 105h1v1h-1zM45 107h1v1h-1zM38 101h1v1h-1zM45 94h1v1h-1zM47 102h1v1h-1zM52 97h1v1h-1zM39 112h1v1h-1zM47 100h1v1h-1zM40 106h1v1h-1zM57 104h1v1h-1zM51 95h1v1h-1zM46 103h1v1h-1zM41 102h1v1h-1zM52 104h1v1h-1zM46 111h1v1h-1zM48 99h1v1h-1zM48 101h1v1h-1zM54 106h1v1h-1zM42 97h1v1h-1zM46 112h1v1h-1zM46 104h1v1h-1zM45 108h1v1h-1zM39 101h1v1h-1zM43 94h1v1h-1zM42 101h1v1h-1zM43 99h1v1h-1zM50 100h1v1h-1zM49 102h1v1h-1zM46 91h1v1h-1zM47 98h1v1h-1zM42 94h1v1h-1zM47 98h1v1h-1zM48 108h1v1h-1zM52 104h1v1h-1zM51 104h1v1h-1zM50 95h1v1h-1zM47 107h1v1h-1zM49 110h1v1h-1zM53 101h1v1h-1zM52 99h1v1h-1zM50 95h1v1h-1zM41 106h1v1h-1zM59 107h1v1h-1zM55 104h1v1h-1zM48 105h1v1h-1zM50 109h1v1h-1zM48 108h1v1h-1zM40 101h1v1h-1zM57 102h1v1h-1zM39 94h1v1h-1zM51 106h1v1h-1zM52 99h1v1h-1zM39 104h1v1h-1zM53 95h1v1h-1zM52 95h1v1h-1zM44 104h1v1h-1zM44 104h1v1h-1zM46 96h1v1h-1zM52 108h1v1h-1zM63 95h1v1h-1zM46 103h1v1h-1zM39 100h1v1h-1zM45 98h1v1h-1zM50 95h1v1h-1zM50 95h1v1h-1zM50 106h1v1h-1zM45 104h1v1h-1zM48 108h1v1h-1zM43 113h1v1h-1zM50 100h1v1h-1zM51 109h1v1h-1zM45 105h1v1h-1zM52 104h1v1h-1zM38 102h1v1h-1zM53 105h1v1h-1zM38 92h1v1h-1zM57 92h1v1h-1zM46 103h1v1h-1zM48 110h1v1h-1zM48 102h1v1h-1zM45 91h1v1h-1zM47 103h1v1h-1zM40 94h1v1h-1zM46 92h1v1h-1zM44 94h1v1h-1zM43 101h1v1h-1zM46 94h1v1h-1zM53 103h1v1h-1zM45 96h1v1h-1zM40 100h1v1h-1zM45 107h1v1h-1zM44 110h1v1h-1zM42 109h1v1h-1zM49 99h1v1h-1zM46 98h1v1h-1zM57 100h1v1h-1zM46 100h1v1h-1zM52 104h1v1h-1zM40 105h1v1h-1zM43 107h1v1h-1zM39 103h1v1h-1zM48 110h1v1h-1zM41 98h1v1h-1zM47 105h1v1h-1zM52 101h1v1h-1zM45 105h1v1h-1zM49 106h1v1h-1zM52 104h1v1h-1zM51 105h1v1h-1zM38 110h1v1h-1zM51 100h1v1h-1zM52 102h1v1h-1zM41 108h1v1h-1zM51 103h1v1h-1zM50 97h1v1h-1zM46 112h1v1h-1zM45 91h1v1h-1zM52 103h1v1h-1zM49 98h1v1h-1zM49 98h1v1h-1zM50 103h1v1h-1zM54 113h1v1h-1zM52 95h1v1h-1zM52 91h1v1h-1zM44 102h1v1h-1zM46 102h1v1h-1zM45 101h1v1h-1zM45 100h1v1h-1zM48 98h1v1h-1zM52 102h1v1h-1zM46 96h1v1h-1zM46 97h1v1h-1zM42 100h1v1h-1zM37 102h1v1h-1zM47 112h1v1h-1zM47 96h1v1h-1zM51 100h1v1h-1zM44 104h1v1h-1zM59 107h1v1h-1zM37 98h1v1h-1zM42 108h1v1h-1zM52 98h1v1h-1zM43 97h1v1h-1zM59 102h1v1h-1zM53 100h1v1h-1zM39 96h1v1h-1zM56 97h1v1h-1zM48 105h1v1h-1zM45 114h1v1h-1zM42 104h1v1h-1zM40 99h1v1h-1zM42 101h1v1h-1zM51 108h1v1h-1zM49 103h1v1h-1zM51 98h1v1h-1zM46 104h1v1h-1zM47 101h1v1h-1zM41 107h1v1h-1zM48 93h1v1h-1zM56 93h1v1h-1zM44 104h1v1h-1zM39 121h1v1h-1zM53 105h1v1h-1zM47 97h1v1h-1zM48 106h1v1h-1zM41 106h1v1h-1zM46 104h1v1h-1zM47 110h1v1h-1zM43 105h1v1h-1zM48 100h1v1h-1zM51 106h1v1h-1zM50 96h1v1h-1zM41 126h1v1h-1zM54 121h1v1h-1zM54 119h1v1h-1zM52 122h1v1h-1zM50 126h1v1h-1zM48 123h1v1h-1zM49 113h1v1h-1zM48 130h1v1h-1zM48 120h1v1h-1zM58 128h1v1h-1zM47 132h1v1h-1zM45 128h1v1h-1zM46 130h1v1h-1zM48 122h1v1h-1zM52 114h1v1h-1zM44 114h1v1h-1zM42 126h1v1h-1zM49 126h1v1h-1zM37 130h1v1h-1zM45 124h1v1h-1zM44 115h1v1h-1zM61 135h1v1h-1zM52 126h1v1h-1zM51 106h1v1h-1zM51 119h1v1h-1zM56 113h1v1h-1zM46 132h1v1h-1zM45 127h1v1h-1zM54 117h1v1h-1zM40 118h1v1h-1zM55 110h1v1h-1zM46 115h1v1h-1zM44 125h1v1h-1zM50 121h1v1h-1zM53 121h1v1h-1zM55 133h1v1h-1zM55 111h1v1h-1zM46 119h1v1h-1zM43 104h1v1h-1zM45 134h1v1h-1zM41 124h1v1h-1zM59 114h1v1h-1zM54 120h1v1h-1zM49 127h1v1h-1zM53 125h1v1h-1zM46 119h1v1h-1zM51 121h1v1h-1zM48 119h1v1h-1zM59 121h1v1h-1zM50 131h1v1h-1zM49 119h1v1h-1zM45 131h1v1h-1zM49 118h1v1h-1zM43 133h1v1h-1zM52 114h1v1h-1zM57 118h1v1h-1zM48 122h1v1h-1zM52 114h1v1h-1zM48 126h1v1h-1zM47 116h1v1h-1zM57 110h1v1h-1zM47 129h1v1h-1zM42 131h1v1h-1zM47 129h1v1h-1zM43 130h1v1h-1zM46 121h1v1h-1zM45 135h1v1h-1zM54 122h1v1h-1zM52 116h1v1h-1zM48 120h1v1h-1zM51 118h1v1h-1zM44 112h1v1h-1zM54 130h1v1h-1zM40 118h1v1h-1zM55 120h1v1h-1zM48 124h1v1h-1zM53 125h1v1h-1zM46 127h1v1h-1zM41 119h1v1h-1zM50 132h1v1h-1zM43 134h1v1h-1zM57 124h1v1h-1zM50 128h1v1h-1zM38 110h1v1h-1zM49 118h1v1h-1zM46 123h1v1h-1zM54 131h1v1h-1zM47 120h1v1h-1zM43 134h1v1h-1zM41 126h1v1h-1zM55 127h1v1h-1zM39 134h1v1h-1zM54 131h1v1h-1zM51 116h1v1h-1zM46 128h1v1h-1zM45 128h1v1h-1zM48 125h1v1h-1zM42 110h1v1h-1zM43 125h1v1h-1zM47 130h1v1h-1zM49 120h1v1h-1zM50 121h1v1h-1zM47 127h1v1h-1zM47 124h1v1h-1zM47 127h1v1h-1zM56 124h1v1h-1zM39 120h1v1h-1zM42 119h1v1h-1zM54 120h1v1h-1zM41 122h1v1h-1zM45 113h1v1h-1zM46 125h1v1h-1zM46 122h1v1h-1zM49 116h1v1h-1zM48 114h1v1h-1zM39 131h1v1h-1zM42 109h1v1h-1zM54 128h1v1h-1zM55 119h1v1h-1zM46 126h1v1h-1zM47 116h1v1h-1zM46 124h1v1h-1zM40 112h1v1h-1zM41 122h1v1h-1zM60 120h1v1h-1zM50 111h1v1h-1zM48 123h1v1h-1zM39 129h1v1h-1zM39 120h1v1h-1zM53 109h1v1h-1zM46 117h1v1h-1zM40 128h1v1h-1zM41 118h1v1h-1zM44 127h1v1h-1zM39 117h1v1h-1zM43 121h1v1h-1zM50 134h1v1h-1zM49 127h1v1h-1zM49 125h1v1h-1zM48 117h1v1h-1zM54 128h1v1h-1zM45 123h1v1h-1zM42 123h1v1h-1zM50 121h1v1h-1zM44 130h1v1h-1zM46 114h1v1h-1zM42 126h1v1h-1zM53 115h1v1h-1zM49 129h1v1h-1zM52 114h1v1h-1zM45 109h1v1h-1zM39 131h1v1h-1zM49 122h1v1h-1zM46 127h1v1h-1zM61 132h1v1h-1zM45 124h1v1h-1zM53 130h1v1h-1zM41 110h1v1h-1zM41 130h1v1h-1zM42 133h1v1h-1zM60 118h1v1h-1zM46 125h1v1h-1zM53 128h1v1h-1zM41 126h1v1h-1zM41 128h1v1h-1zM56 130h1v1h-1zM50 128h1v1h-1zM49 127h1v1h-1zM48 121h1v1h-1zM49 118h1v1h-1zM48 125h1v1h-1zM40 132h1v1h-1zM44 116h1v1h-1zM49 128h1v1h-1zM47 128h1v1h-1zM52 106h1v1h-1zM42 113h1v1h-1zM53 126h1v1h-1zM54 124h1v1h-1zM51 116h1v1h-1zM50 110h1v1h-1zM55 131h1v1h-1zM47 116h1v1h-1zM39 130h1v1h-1zM44 116h1v1h-1zM55 114h1v1h-1zM46 111h1v1h-1zM42 104h1v1h-1zM50 130h1v1h-1zM42 108h1v1h-1zM53 127h1v1h-1zM47 133h1v1h-1zM51 121h1v1h-1zM48 126h1v1h-1zM55 133h1v1h-1zM53 118h1v1h-1zM52 121h1v1h-1zM54 117h1v1h-1zM54 129h1v1h-1zM43 119h1v1h-1zM39 120h1v1h-1zM51 127h1v1h-1zM54 124h1v1h-1zM47 133h1v1h-1zM55 130h1v1h-1zM44 124h1v1h-1zM50 124h1v1h-1zM48 116h1v1h-1zM46 127h1v1h-1zM47 127h1v1h-1zM54 127h1v1h-1zM47 131h1v1h-1zM48 123h1v1h-1zM47 125h1v1h-1zM44 117h1v1h-1zM50 134h1v1h-1zM41 128h1v1h-1zM49 127h1v1h-1zM41 115h1v1h-1zM49 114h1v1h-1zM45 127h1v1h-1zM52 122h1v1h-1zM41 127h1v1h-1zM54 126h1v1h-1zM53 131h1v1h-1z" fill="#000" fill-opacity="0.21"/>
<path d="M51 98h1v1h-1zM46 105h1v1h-1zM49 100h1v1h-1zM48 106h1v1h-1zM51 107h1v1h-1zM41 109h1v1h-1zM38 103h1v1h-1zM47 113h1v1h-1zM50 106h1v1h-1zM49 106h1v1h-1zM47 102h1v1h-1zM56 104h1v1h-1zM50 95h1v1h-1zM56 99h1v1h-1zM44 103h1v1h-1zM44 102h1v1h-1zM47 109h1v1h-1zM42 100h1v1h-1zM53 99h1v1h-1zM50 102h1v1h-1zM44 108h1v1h-1zM47 110h1v1h-1zM50 100h1v1h-1zM57 94h1v1h-1zM51 103h1v1h-1zM48 100h1v1h-1zM52 101h1v1h-1zM49 96h1v1h-1zM43 103h1v1h-1zM55 101h1v1h-1zM40 97h1v1h-1zM42 97h1v1h-1zM50 95h1v1h-1zM43 106h1v1h-1zM42 101h1v1h-1zM41 97h1v1h-1zM53 104h1v1h-1zM54 104h1v1h-1zM49 103h1v1h-1zM50 104h1v1h-1zM48 107h1v1h-1zM56 104h1v1h-1zM44 96h1v1h-1zM53 102h1v1h-1zM57 103h1v1h-1zM50 100h1v1h-1zM53 110h1v1h-1zM54 98h1v1h-1zM42 93h1v1h-1zM40 99h1v1h-1zM56 111h1v1h-1zM49 104h1v1h-1zM47 99h1v1h-1zM53 100h1v1h-1zM45 107h1v1h-1zM48 111h1v1h-1zM52 103h1v1h-1zM54 94h1v1h-1zM40 101h1v1h-1zM51 104h1v1h-1zM58 104h1v1h-1zM51 104h1v1h-1zM44 104h1v1h-1zM53 107h1v1h-1zM45 99h1v1h-1zM41 100h1v1h-1zM53 101h1v1h-1zM49 102h1v1h-1zM41 101h1v1h-1zM44 101h1v1h-1zM49 110h1v1h-1zM54 104h1v1h-1zM49 98h1v1h-1zM49 105h1v1h-1zM45 112h1v1h-1zM47 103h1v1h-1zM55 102h1v1h-1zM40 106h1v1h-1zM47 105h1v1h-1zM48 108h1v1h-1zM41 103h1v1h-1zM51 104h1v1h-1zM45 100h1v1h-1zM42 105h1v1h-1zM49 109h1v1h-1zM46 102h1v1h-1zM52 104h1v1h-1zM41 102h1v1h-1zM40 106h1v1h-1zM43 111h1v1h-1zM48 94h1v1h-1zM51 109h1v1h-1zM52 98h1v1h-1zM52 91h1v1h-1zM54 101h1v1h-1zM46 103h1v1h-1zM41 97h1v1h-1zM49 107h1v1h-1zM51 106h1v1h-1zM45 112h1v1h-1zM41 106h1v1h-1zM53 92h1v1h-1zM47 104h1v1h-1zM44 97h1v1h-1zM50 104h1v1h-1zM46 97h1v1h-1zM55 110h1v1h-1zM47 107h1v1h-1zM48 97h1v1h-1zM49 94h1v1h-1zM39 100h1v1h-1zM49 97h1v1h-1zM54 119h1v1h-1zM58 114h1v1h-1zM41 108h1v1h-1zM46 106h1v1h-1zM51 100h1v1h-1zM45 100h1v1h-1zM51 105h1v1h-1zM47 110h1v1h-1zM59 100h1v1h-1zM47 101h1v1h-1zM51 104h1v1h-1zM45 99h1v1h-1zM47 106h1v1h-1zM53 97h1v1h-1zM50 97h1v1h-1zM56 99h1v1h-1zM49 99h1v1h-1zM52 106h1v1h-1zM45 108h1v1h-1zM52 94h1v1h-1zM40 102h1v1h-1zM47 105h1v1h-1zM54 96h1v1h-1zM48 104h1v1h-1zM51 99h1v1h-1zM40 102h1v1h-1zM44 101h1v1h-1zM52 100h1v1h-1zM52 112h1v1h-1zM48 95h1v1h-1zM51 102h1v1h-1zM50 100h1v1h-1zM51 103h1v1h-1zM57 109h1v1h-1zM42 99h1v1h-1zM44 111h1v1h-1zM47 105h1v1h-1zM53 101h1v1h-1zM45 104h1v1h-1zM47 93h1v1h-1zM46 97h1v1h-1zM46 92h1v1h-1zM49 109h1v1h-1zM41 102h1v1h-1zM50 100h1v1h-1zM55 100h1v1h-1zM39 105h1v1h-1zM49 101h1v1h-1zM49 98h1v1h-1zM48 107h1v1h-1zM40 98h1v1h-1zM55 102h1v1h-1zM49 102h1v1h-1zM40 110h1v1h-1zM50 100h1v1h-1zM42 98h1v1h-1zM47 98h1v1h-1zM51 102h1v1h-1zM43 97h1v1h-1zM47 100h1v1h-1zM45 97h1v1h-1zM50 125h1v1h-1zM46 135h1v1h-1zM47 121h1v1h-1zM45 128h1v1h-1zM50 123h1v1h-1zM39 110h1v1h-1zM44 116h1v1h-1zM45 119h1v1h-1zM45 122h1v1h-1zM47 122h1v1h-1zM49 124h1v1h-1zM44 112h1v1h-1zM53 111h1v1h-1zM51 120h1v1h-1zM57 127h1v1h-1zM50 119h1v1h-1zM45 126h1v1h-1zM38 121h1v1h-1zM49 125h1v1h-1zM51 130h1v1h-1zM44 129h1v1h-1zM45 116h1v1h-1zM43 109h1v1h-1zM45 125h1v1h-1zM44 119h1v1h-1zM55 115h1v1h-1zM55 121h1v1h-1zM48 111h1v1h-1zM45 119h1v1h-1zM46 127h1v1h-1zM52 116h1v1h-1zM43 115h1v1h-1zM46 118h1v1h-1zM47 131h1v1h-1zM40 127h1v1h-1zM58 127h1v1h-1zM43 127h1v1h-1zM48 122h1v1h-1zM56 133h1v1h-1zM56 113h1v1h-1zM40 111h1v1h-1zM58 112h1v1h-1zM46 127h1v1h-1zM60 133h1v1h-1zM46 128h1v1h-1zM54 118h1v1h-1zM53 123h1v1h-1zM46 116h1v1h-1zM39 105h1v1h-1zM40 131h1v1h-1zM52 121h1v1h-1zM46 128h1v1h-1zM57 113h1v1h-1zM57 104h1v1h-1zM46 119h1v1h-1zM50 116h1v1h-1zM39 129h1v1h-1zM40 121h1v1h-1zM51 116h1v1h-1zM43 123h1v1h-1zM39 117h1v1h-1zM50 132h1v1h-1zM45 111h1v1h-1zM47 112h1v1h-1zM50 127h1v1h-1zM45 114h1v1h-1zM46 123h1v1h-1zM47 120h1v1h-1zM49 120h1v1h-1zM54 119h1v1h-1zM43 130h1v1h-1zM46 126h1v1h-1zM52 120h1v1h-1zM51 120h1v1h-1zM41 120h1v1h-1zM47 124h1v1h-1zM38 124h1v1h-1zM49 119h1v1h-1zM42 125h1v1h-1zM43 126h1v1h-1zM37 129h1v1h-1zM45 116h1v1h-1zM38 128h1v1h-1zM48 124h1v1h-1zM50 125h1v1h-1zM47 122h1v1h-1zM44 123h1v1h-1zM44 123h1v1h-1zM45 117h1v1h-1zM51 116h1v1h-1zM58 126h1v1h-1zM45 126h1v1h-1zM55 119h1v1h-1zM43 119h1v1h-1zM46 127h1v1h-1zM44 118h1v1h-1zM57 119h1v1h-1zM43 122h1v1h-1zM52 123h1v1h-1zM48 118h1v1h-1zM42 129h1v1h-1zM42 122h1v1h-1zM54 119h1v1h-1zM47 132h1v1h-1zM43 118h1v1h-1zM49 132h1v1h-1zM50 123h1v1h-1zM43 115h1v1h-1zM54 128h1v1h-1zM43 129h1v1h-1zM38 123h1v1h-1zM46 114h1v1h-1zM54 124h1v1h-1zM49 117h1v1h-1zM45 119h1v1h-1zM38 128h1v1h-1zM46 118h1v1h-1zM51 118h1v1h-1zM44 116h1v1h-1zM47 129h1v1h-1zM43 126h1v1h-1zM40 113h1v1h-1zM40 126h1v1h-1zM49 130h1v1h-1zM55 128h1v1h-1zM44 122h1v1h-1zM45 134h1v1h-1zM52 122h1v1h-1zM45 118h1v1h-1zM49 127h1v1h-1zM43 118h1v1h-1zM46 134h1v1h-1zM59 123h1v1h-1zM54 113h1v1h-1zM47 122h1v1h-1zM49 128h1v1h-1zM54 117h1v1h-1zM48 110h1v1h-1zM44 131h1v1h-1zM47 115h1v1h-1zM50 128h1v1h-1zM42 126h1v1h-1zM44 116h1v1h-1zM39 121h1v1h-1zM45 107h1v1h-1zM46 122h1v1h-1zM39 124h1v1h-1zM46 122h1v1h-1zM56 121h1v1h-1zM59 106h1v1h-1zM45 127h1v1h-1zM53 121h1v1h-1zM44 116h1v1h-1zM38 116h1v1h-1zM58 124h1v1h-1zM55 114h1v1h-1zM55 113h1v1h-1zM46 128h1v1h-1zM45 123h1v1h-1zM51 120h1v1h-1zM50 127h1v1h-1zM39 126h1v1h-1zM42 112h1v1h-1zM41 116h1v1h-1zM49 128h1v1h-1zM45 129h1v1h-1zM54 125h1v1h-1zM47 117h1v1h-1zM48 123h1v1h-1zM49 120h1v1h-1zM44 110h1v1h-1zM43 129h1v1h-1zM51 126h1v1h-1zM45 117h1v1h-1zM48 132h1v1h-1zM40 133h1v1h-1zM46 119h1v1h-1zM40 116h1v1h-1zM39 123h1v1h-1zM46 125h1v1h-1zM55 134h1v1h-1zM51 123h1v1h-1zM54 122h1v1h-1zM51 114h1v1h-1zM52 119h1v1h-1zM44 122h1v1h-1zM49 122h1v1h-1zM49 114h1v1h-1zM50 122h1v1h-1zM52 108h1v1h-1zM47 110h1v1h-1zM41 121h1v1h-1zM43 121h1v1h-1zM48 126h1v1h-1zM53 125h1v1h-1zM50 121h1v1h-1zM44 125h1v1h-1zM52 121h1v1h-1zM53 121h1v1h-1zM49 117h1v1h-1zM49 120h1v1h-1zM57 123h1v1h-1zM52 120h1v1h-1zM50 119h1v1h-1zM46 119h1v1h-1zM52 135h1v1h-1zM47 112h1v1h-1zM51 130h1v1h-1zM49 119h1v1h-1zM56 121h1v1h-1zM48 114h1v1h-1zM61 113h1v1h-1zM45 126h1v1h-1zM44 118h1v1h-1zM48 131h1v1h-1zM45 122h1v1h-1zM49 119h1v1h-1zM42 109h1v1h-1zM46 130h1v1h-1zM56 126h1v1h-1zM53 133h1v1h-1zM46 123h1v1h-1zM42 128h1v1h-1zM55 111h1v1h-1zM51 112h1v1h-1z" fill="#000" fill-opacity="0.21"/>
<path d="M50 99h1v1h-1zM43 93h1v1h-1zM49 110h1v1h-1zM48 102h1v1h-1zM52 104h1v1h-1zM46 104h1v1h-1zM49 96h1v1h-1zM45 107h1v1h-1zM50 102h1v1h-1zM44 96h1v1h-1zM44 100h1v1h-1zM39 100h1v1h-1zM45 109h1v1h-1zM47 102h1v1h-1zM42 97h1v1h-1zM49 99h1v1h-1zM48 101h1v1h-1zM63 95h1v1h-1zM48 101h1v1h-1zM44 107h1v1h-1zM47 109h1v1h-1zM44 97h1v1h-1zM49 106h1v1h-1zM44 105h1v1h-1zM45 102h1v1h-1zM40 106h1v1h-1zM47 106h1v1h-1zM44 113h1v1h-1zM51 103h1v1h-1zM48 96h1v1h-1zM47 103h1v1h-1zM46 100h1v1h-1zM56 101h1v1h-1zM44 103h1v1h-1zM51 113h1v1h-1zM50 92h1v1h-1zM44 108h1v1h-1zM51 96h1v1h-1zM43 112h1v1h-1zM42 105h1v1h-1zM47 105h1v1h-1zM45 102h1v1h-1zM44 97h1v1h-1zM46 104h1v1h-1zM48 98h1v1h-1zM43 100h1v1h-1zM50 105h1v1h-1zM49 109h1v1h-1zM41 93h1v1h-1zM43 101h1v1h-1zM60 100h1v1h-1zM41 101h1v1h-1zM54 93h1v1h-1zM55 99h1v1h-1zM48 98h1v1h-1zM38 102h1v1h-1zM42 104h1v1h-1zM39 101h1v1h-1zM45 108h1v1h-1zM50 98h1v1h-1zM46 108h1v1h-1zM48 109h1v1h-1zM53 106h1v1h-1zM46 97h1v1h-1zM39 108h1v1h-1zM56 102h1v1h-1zM46 98h1v1h-1zM44 100h1v1h-1zM49 104h1v1h-1zM42 95h1v1h-1zM41 105h1v1h-1zM48 102h1v1h-1zM39 99h1v1h-1zM57 106h1v1h-1zM46 102h1v1h-1zM56 99h1v1h-1zM47 100h1v1h-1zM47 107h1v1h-1zM51 99h1v1h-1zM40 99h1v1h-1zM55 103h1v1h-1zM52 94h1v1h-1zM51 107h1v1h-1zM42 97h1v1h-1zM47 105h1v1h-1zM45 101h1v1h-1zM54 105h1v1h-1zM47 107h1v1h-1zM45 109h1v1h-1zM43 104h1v1h-1zM52 105h1v1h-1zM52 97h1v1h-1zM41 97h1v1h-1zM53 104h1v1h-1zM53 100h1v1h-1zM47 102h1v1h-1zM46 110h1v1h-1zM42 95h1v1h-1zM53 98h1v1h-1zM45 101h1v1h-1zM42 97h1v1h-1zM39 105h1v1h-1zM40 98h1v1h-1zM46 106h1v1h-1zM38 108h1v1h-1zM56 110h1v1h-1zM46 101h1v1h-1zM44 103h1v1h-1zM52 96h1v1h-1zM50 103h1v1h-1zM59 106h1v1h-1zM59 102h1v1h-1zM43 111h1v1h-1zM48 99h1v1h-1zM39 99h1v1h-1zM45 103h1v1h-1zM58 102h1v1h-1zM50 95h1v1h-1zM42 103h1v1h-1zM47 93h1v1h-1zM51 103h1v1h-1zM44 109h1v1h-1zM46 108h1v1h-1zM49 105h1v1h-1zM46 101h1v1h-1zM55 104h1v1h-1zM49 104h1v1h-1zM41 99h1v1h-1zM47 112h1v1h-1zM41 105h1v1h-1zM45 102h1v1h-1zM52 94h1v1h-1zM49 104h1v1h-1zM42 95h1v1h-1zM40 102h1v1h-1zM47 95h1v1h-1zM50 102h1v1h-1zM48 100h1v1h-1zM41 104h1v1h-1zM51 95h1v1h-1zM52 106h1v1h-1zM44 100h1v1h-1zM44 100h1v1h-1zM50 111h1v1h-1zM54 110h1v1h-1zM48 101h1v1h-1zM49 100h1v1h-1zM48 98h1v1h-1zM42 108h1v1h-1zM56 114h1v1h-1zM48 106h1v1h-1zM50 98h1v1h-1zM45 97h1v1h-1zM51 100h1v1h-1zM38 102h1v1h-1zM54 99h1v1h-1zM45 92h1v1h-1zM49 117h1v1h-1zM42 105h1v1h-1zM50 100h1v1h-1zM46 98h1v1h-1zM51 104h1v1h-1zM42 104h1v1h-1zM55 91h1v1h-1zM54 109h1v1h-1zM46 97h1v1h-1zM47 94h1v1h-1zM47 110h1v1h-1zM38 106h1v1h-1zM46 100h1v1h-1zM54 101h1v1h-1zM49 105h1v1h-1zM44 117h1v1h-1zM38 120h1v1h-1zM48 124h1v1h-1zM43 117h1v1h-1zM50 122h1v1h-1zM45 130h1v1h-1zM57 124h1v1h-1zM61 127h1v1h-1zM51 119h1v1h-1zM48 130h1v1h-1zM48 124h1v1h-1zM55 132h1v1h-1zM55 120h1v1h-1zM41 131h1v1h-1zM47 134h1v1h-1zM45 113h1v1h-1zM50 124h1v1h-1zM46 129h1v1h-1zM41 120h1v1h-1zM47 131h1v1h-1zM47 119h1v1h-1zM56 128h1v1h-1zM48 115h1v1h-1zM55 113h1v1h-1zM59 126h1v1h-1zM48 134h1v1h-1zM41 123h1v1h-1zM47 121h1v1h-1zM45 129h1v1h-1zM47 120h1v1h-1zM53 123h1v1h-1zM41 114h1v1h-1zM46 126h1v1h-1zM45 120h1v1h-1zM49 122h1v1h-1zM39 131h1v1h-1zM43 119h1v1h-1zM38 113h1v1h-1zM43 119h1v1h-1zM48 120h1v1h-1zM54 129h1v1h-1zM42 127h1v1h-1zM42 123h1v1h-1zM50 135h1v1h-1zM52 115h1v1h-1zM53 122h1v1h-1zM42 124h1v1h-1zM39 126h1v1h-1zM47 135h1v1h-1zM47 120h1v1h-1zM53 124h1v1h-1zM46 132h1v1h-1zM49 117h1v1h-1zM43 121h1v1h-1zM44 125h1v1h-1zM46 118h1v1h-1zM53 134h1v1h-1zM48 115h1v1h-1zM42 122h1v1h-1zM48 121h1v1h-1zM44 125h1v1h-1zM46 119h1v1h-1zM45 127h1v1h-1zM45 116h1v1h-1zM42 129h1v1h-1zM49 117h1v1h-1zM40 124h1v1h-1zM44 114h1v1h-1zM45 120h1v1h-1zM46 123h1v1h-1zM52 125h1v1h-1zM45 123h1v1h-1zM46 128h1v1h-1zM44 116h1v1h-1zM49 129h1v1h-1zM42 120h1v1h-1zM56 119h1v1h-1zM49 118h1v1h-1zM44 130h1v1h-1zM57 119h1v1h-1zM41 121h1v1h-1zM50 127h1v1h-1zM44 113h1v1h-1zM52 126h1v1h-1zM46 118h1v1h-1zM49 135h1v1h-1zM51 127h1v1h-1zM47 127h1v1h-1zM53 124h1v1h-1zM61 115h1v1h-1zM45 128h1v1h-1zM50 120h1v1h-1zM54 132h1v1h-1zM45 130h1v1h-1zM44 125h1v1h-1zM57 121h1v1h-1zM50 120h1v1h-1zM48 130h1v1h-1zM47 119h1v1h-1zM50 119h1v1h-1zM51 124h1v1h-1zM48 116h1v1h-1zM46 107h1v1h-1zM51 131h1v1h-1zM46 117h1v1h-1zM48 122h1v1h-1zM46 122h1v1h-1zM48 129h1v1h-1zM53 118h1v1h-1zM50 121h1v1h-1zM48 128h1v1h-1zM53 109h1v1h-1zM44 129h1v1h-1zM47 129h1v1h-1zM49 129h1v1h-1zM39 134h1v1h-1zM50 125h1v1h-1zM43 129h1v1h-1zM50 124h1v1h-1zM43 130h1v1h-1zM48 123h1v1h-1zM58 116h1v1h-1zM46 112h1v1h-1zM49 121h1v1h-1zM42 119h1v1h-1zM45 117h1v1h-1zM42 119h1v1h-1zM38 114h1v1h-1zM44 133h1v1h-1zM51 118h1v1h-1zM55 120h1v1h-1zM48 128h1v1h-1zM48 116h1v1h-1zM54 128h1v1h-1zM50 125h1v1h-1zM53 116h1v1h-1zM45 127h1v1h-1zM50 127h1v1h-1zM48 130h1v1h-1zM41 119h1v1h-1zM45 105h1v1h-1zM54 124h1v1h-1zM49 116h1v1h-1zM46 117h1v1h-1zM47 130h1v1h-1zM45 129h1v1h-1zM49 111h1v1h-1zM40 130h1v1h-1zM50 112h1v1h-1zM47 131h1v1h-1zM49 121h1v1h-1zM53 124h1v1h-1zM45 116h1v1h-1zM40 120h1v1h-1zM40 125h1v1h-1zM46 117h1v1h-1zM51 130h1v1h-1zM40 109h1v1h-1zM56 126h1v1h-1zM48 129h1v1h-1zM46 123h1v1h-1zM42 127h1v1h-1zM43 109h1v1h-1zM47 107h1v1h-1zM47 124h1v1h-1zM41 130h1v1h-1zM54 119h1v1h-1zM47 110h1v1h-1zM44 120h1v1h-1zM39 116h1v1h-1zM51 119h1v1h-1zM45 119h1v1h-1zM45 112h1v1h-1zM45 133h1v1h-1zM42 126h1v1h-1zM52 118h1v1h-1zM55 121h1v1h-1zM51 125h1v1h-1zM54 132h1v1h-1zM39 118h1v1h-1zM45 127h1v1h-1zM40 124h1v1h-1zM54 112h1v1h-1zM52 119h1v1h-1zM47 118h1v1h-1zM48 121h1v1h-1zM49 117h1v1h-1zM53 121h1v1h-1zM44 121h1v1h-1zM58 126h1v1h-1zM44 128h1v1h-1zM55 118h1v1h-1zM51 134h1v1h-1zM46 132h1v1h-1zM50 113h1v1h-1zM38 123h1v1h-1zM48 123h1v1h-1zM52 123h1v1h-1zM49 131h1v1h-1zM44 126h1v1h-1zM52 114h1v1h-1zM50 128h1v1h-1zM42 122h1v1h-1zM50 122h1v1h-1zM52 118h1v1h-1zM56 119h1v1h-1zM52 120h1v1h-1zM53 135h1v1h-1zM56 119h1v1h-1zM45 118h1v1h-1zM45 124h1v1h-1zM46 115h1v1h-1zM48 126h1v1h-1zM43 119h1v1h-1zM49 120h1v1h-1zM44 121h1v1h-1zM46 122h1v1h-1zM52 109h1v1h-1zM49 121h1v1h-1zM46 118h1v1h-1zM40 120h1v1h-1zM49 121h1v1h-1zM49 119h1v1h-1zM49 118h1v1h-1zM53 130h1v1h-1zM54 111h1v1h-1z" fill="#000" fill-opacity="0.21"/>
<path d="M49 108h1v1h-1zM46 107h1v1h-1zM59 106h1v1h-1zM41 101h1v1h-1zM49 95h1v1h-1zM48 105h1v1h-1zM54 103h1v1h-1zM52 113h1v1h-1zM52 94h1v1h-1zM52 103h1v1h-1zM48 100h1v1h-1zM51 107h1v1h-1zM49 110h1v1h-1zM47 102h1v1h-1zM43 105h1v1h-1zM51 103h1v1h-1zM38 109h1v1h-1zM52 107h1v1h-1zM39 97h1v1h-1zM47 104h1v1h-1zM41 99h1v1h-1zM45 94h1v1h-1zM40 100h1v1h-1zM39 102h1v1h-1zM43 103h1v1h-1zM48 102h1v1h-1zM38 108h1v1h-1zM40 99h1v1h-1zM57 109h1v1h-1zM49 116h1v1h-1zM38 103h1v1h-1zM45 106h1v1h-1zM49 99h1v1h-1zM52 96h1v1h-1zM45 107h1v1h-1zM52 100h1v1h-1zM50 100h1v1h-1zM43 99h1v1h-1zM52 104h1v1h-1zM52 97h1v1h-1zM48 103h1v1h-1zM57 92h1v1h-1zM53 98h1v1h-1zM48 97h1v1h-1zM56 102h1v1h-1zM47 101h1v1h-1zM62 109h1v1h-1zM48 106h1v1h-1zM54 104h1v1h-1zM47 100h1v1h-1zM43 103h1v1h-1zM51 108h1v1h-1zM50 102h1v1h-1zM52 97h1v1h-1zM47 107h1v1h-1zM41 96h1v1h-1zM42 108h1v1h-1zM43 101h1v1h-1zM59 103h1v1h-1zM57 103h1v1h-1zM46 100h1v1h-1zM50 100h1v1h-1zM48 94h1v1h-1zM49 103h1v1h-1zM52 109h1v1h-1zM49 100h1v1h-1zM51 98h1v1h-1zM43 96h1v1h-1zM48 112h1v1h-1zM53 103h1v1h-1zM51 105h1v1h-1zM40 106h1v1h-1zM48 102h1v1h-1zM42 92h1v1h-1zM46 102h1v1h-1zM41 101h1v1h-1zM44 114h1v1h-1zM45 98h1v1h-1zM44 110h1v1h-1zM50 105h1v1h-1zM47 96h1v1h-1zM54 102h1v1h-1zM51 104h1v1h-1zM49 103h1v1h-1zM46 94h1v1h-1zM59 102h1v1h-1zM38 99h1v1h-1zM52 97h1v1h-1zM58 95h1v1h-1zM39 102h1v1h-1zM50 96h1v1h-1zM48 98h1v1h-1zM48 103h1v1h-1zM51 99h1v1h-1zM46 105h1v1h-1zM45 102h1v1h-1zM51 103h1v1h-1zM61 97h1v1h-1zM44 105h1v1h-1zM46 97h1v1h-1zM43 107h1v1h-1zM49 101h1v1h-1zM48 108h1v1h-1zM55 112h1v1h-1zM46 96h1v1h-1zM43 106h1v1h-1zM43 99h1v1h-1zM52 108h1v1h-1zM49 103h1v1h-1zM46 102h1v1h-1zM38 100h1v1h-1zM45 104h1v1h-1zM47 100h1v1h-1zM43 106h1v1h-1zM43 116h1v1h-1zM49 104h1v1h-1zM41 100h1v1h-1zM50 110h1v1h-1zM57 107h1v1h-1zM37 94h1v1h-1zM58 105h1v1h-1zM54 100h1v1h-1zM57 106h1v1h-1zM42 97h1v1h-1zM51 102h1v1h-1zM54 108h1v1h-1zM46 101h1v1h-1zM43 109h1v1h-1zM52 110h1v1h-1zM57 101h1v1h-1zM51 100h1v1h-1zM48 99h1v1h-1zM55 95h1v1h-1zM39 95h1v1h-1zM44 105h1v1h-1zM49 103h1v1h-1zM57 101h1v1h-1zM41 104h1v1h-1zM51 94h1v1h-1zM50 92h1v1h-1zM48 100h1v1h-1zM40 98h1v1h-1zM43 106h1v1h-1zM54 96h1v1h-1zM47 93h1v1h-1zM48 118h1v1h-1zM41 97h1v1h-1zM55 99h1v1h-1zM52 105h1v1h-1zM45 108h1v1h-1zM49 91h1v1h-1zM47 111h1v1h-1zM47 104h1v1h-1zM44 104h1v1h-1zM50 108h1v1h-1zM53 107h1v1h-1zM50 116h1v1h-1zM45 104h1v1h-1zM46 101h1v1h-1zM47 106h1v1h-1zM42 107h1v1h-1zM54 91h1v1h-1zM50 109h1v1h-1zM47 112h1v1h-1zM55 96h1v1h-1zM51 105h1v1h-1zM52 97h1v1h-1zM44 92h1v1h-1zM51 92h1v1h-1zM59 94h1v1h-1zM62 100h1v1h-1zM45 110h1v1h-1zM48 135h1v1h-1zM58 121h1v1h-1zM49 126h1v1h-1zM47 117h1v1h-1zM46 128h1v1h-1zM58 126h1v1h-1zM44 119h1v1h-1zM54 121h1v1h-1zM41 122h1v1h-1zM50 130h1v1h-1zM44 131h1v1h-1zM47 133h1v1h-1zM46 116h1v1h-1zM49 114h1v1h-1zM45 121h1v1h-1zM47 121h1v1h-1zM49 125h1v1h-1zM55 130h1v1h-1zM45 131h1v1h-1zM46 115h1v1h-1zM49 115h1v1h-1zM49 126h1v1h-1zM55 123h1v1h-1zM44 116h1v1h-1zM44 116h1v1h-1zM41 123h1v1h-1zM43 125h1v1h-1zM52 130h1v1h-1zM58 117h1v1h-1zM46 116h1v1h-1zM48 120h1v1h-1zM49 117h1v1h-1zM45 116h1v1h-1zM53 134h1v1h-1zM42 134h1v1h-1zM54 130h1v1h-1zM44 123h1v1h-1zM49 131h1v1h-1zM52 126h1v1h-1zM47 118h1v1h-1zM39 124h1v1h-1zM47 131h1v1h-1zM50 132h1v1h-1zM49 125h1v1h-1zM37 121h1v1h-1zM52 128h1v1h-1zM48 115h1v1h-1zM41 122h1v1h-1zM46 127h1v1h-1zM48 121h1v1h-1zM43 127h1v1h-1zM52 135h1v1h-1zM52 122h1v1h-1zM57 131h1v1h-1zM48 129h1v1h-1zM46 130h1v1h-1zM43 131h1v1h-1zM54 123h1v1h-1zM51 117h1v1h-1zM57 121h1v1h-1zM48 122h1v1h-1zM52 126h1v1h-1zM51 124h1v1h-1zM46 114h1v1h-1zM44 124h1v1h-1zM43 117h1v1h-1zM39 128h1v1h-1zM52 126h1v1h-1zM44 122h1v1h-1zM44 127h1v1h-1zM49 118h1v1h-1zM38 119h1v1h-1zM51 131h1v1h-1zM51 124h1v1h-1zM43 112h1v1h-1zM42 128h1v1h-1zM50 120h1v1h-1zM46 118h1v1h-1zM48 129h1v1h-1zM46 117h1v1h-1zM50 135h1v1h-1zM46 113h1v1h-1zM48 116h1v1h-1zM45 129h1v1h-1zM53 113h1v1h-1zM46 129h1v1h-1zM47 120h1v1h-1zM46 121h1v1h-1zM43 135h1v1h-1zM53 121h1v1h-1zM41 126h1v1h-1zM45 119h1v1h-1zM48 118h1v1h-1zM40 98h1v1h-1zM54 119h1v1h-1zM46 117h1v1h-1zM56 120h1v1h-1zM47 121h1v1h-1zM38 118h1v1h-1zM39 127h1v1h-1zM53 128h1v1h-1zM40 123h1v1h-1zM46 124h1v1h-1zM42 127h1v1h-1zM46 122h1v1h-1zM49 115h1v1h-1zM48 124h1v1h-1zM46 122h1v1h-1zM58 121h1v1h-1zM46 131h1v1h-1zM49 120h1v1h-1zM55 131h1v1h-1zM55 126h1v1h-1zM44 126h1v1h-1zM49 125h1v1h-1zM45 117h1v1h-1zM48 120h1v1h-1zM51 129h1v1h-1zM44 117h1v1h-1zM52 127h1v1h-1zM46 125h1v1h-1zM52 131h1v1h-1zM40 122h1v1h-1zM40 112h1v1h-1zM51 118h1v1h-1zM37 118h1v1h-1zM47 129h1v1h-1zM53 114h1v1h-1zM44 107h1v1h-1zM53 129h1v1h-1zM42 132h1v1h-1zM51 128h1v1h-1zM55 126h1v1h-1zM44 130h1v1h-1zM51 126h1v1h-1zM42 116h1v1h-1zM48 131h1v1h-1zM46 126h1v1h-1zM51 130h1v1h-1zM52 126h1v1h-1zM52 123h1v1h-1zM50 131h1v1h-1zM44 126h1v1h-1zM60 113h1v1h-1zM47 125h1v1h-1zM48 123h1v1h-1zM58 122h1v1h-1zM48 134h1v1h-1zM40 125h1v1h-1zM47 108h1v1h-1zM48 132h1v1h-1zM47 132h1v1h-1zM45 124h1v1h-1zM40 124h1v1h-1zM50 126h1v1h-1zM59 126h1v1h-1zM45 126h1v1h-1zM44 133h1v1h-1zM52 112h1v1h-1zM53 121h1v1h-1zM44 124h1v1h-1zM50 124h1v1h-1zM48 103h1v1h-1zM51 124h1v1h-1zM42 121h1v1h-1zM44 106h1v1h-1zM59 121h1v1h-1zM52 115h1v1h-1zM53 130h1v1h-1zM42 122h1v1h-1zM45 126h1v1h-1zM46 127h1v1h-1zM57 131h1v1h-1zM37 131h1v1h-1zM47 132h1v1h-1zM43 123h1v1h-1zM51 130h1v1h-1zM38 126h1v1h-1zM52 132h1v1h-1zM52 117h1v1h-1zM44 130h1v1h-1zM57 121h1v1h-1zM49 124h1v1h-1zM45 121h1v1h-1zM43 125h1v1h-1zM57 122h1v1h-1zM53 113h1v1h-1zM47 129h1v1h-1zM50 115h1v1h-1zM49 127h1v1h-1zM44 115h1v1h-1zM44 126h1v1h-1zM57 115h1v1h-1zM54 124h1v1h-1zM51 129h1v1h-1zM48 122h1v1h-1zM43 121h1v1h-1zM48 119h1v1h-1zM45 131h1v1h-1zM45 126h1v1h-1zM50 121h1v1h-1zM44 125h1v1h-1zM38 120h1v1h-1zM44 121h1v1h-1zM43 125h1v1h-1zM41 125h1v1h-1zM43 126h1v1h-1zM47 119h1v1h-1zM51 131h1v1h-1zM51 126h1v1h-1zM43 130h1v1h-1zM41 118h1v1h-1zM57 123h1v1h-1zM42 127h1v1h-1zM48 127h1v1h-1zM42 120h1v1h-1zM42 130h1v1h-1zM53 119h1v1h-1zM45 117h1v1h-1zM38 123h1v1h-1zM54 123h1v1h-1zM49 125h1v1h-1zM44 128h1v1h-1zM49 119h1v1h-1zM58 126h1v1h-1zM52 114h1v1h-1z" fill="#000" fill-opacity="0.21"/>
<path d="M52 128h1v1h-1zM67 96h1v1h-1zM56 128h1v1h-1zM92 94h1v1h-1zM54 107h1v1h-1zM97 108h1v1h-1zM90 96h1v1h-1zM52 112h1v1h-1zM72 92h1v1h-1zM73 135h1v1h-1zM64 123h1v1h-1zM62 132h1v1h-1zM58 94h1v1h-1zM52 133h1v1h-1zM84 112h1v1h-1zM54 130h1v1h-1zM54 104h1v1h-1zM70 114h1v1h-1zM72 122h1v1h-1zM59 108h1v1h-1zM75 124h1v1h-1zM75 133h1v1h-1zM65 132h1v1h-1zM58 130h1v1h-1zM58 99h1v1h-1zM73 123h1v1h-1zM60 101h1v1h-1zM56 122h1v1h-1zM96 98h1v1h-1zM56 98h1v1h-1zM64 131h1v1h-1zM53 123h1v1h-1zM77 99h1v1h-1zM96 118h1v1h-1zM55 135h1v1h-1zM63 98h1v1h-1zM63 97h1v1h-1zM70 113h1v1h-1zM57 115h1v1h-1zM78 98h1v1h-1zM64 135h1v1h-1zM76 111h1v1h-1zM94 124h1v1h-1zM72 125h1v1h-1zM53 126h1v1h-1zM54 133h1v1h-1zM59 107h1v1h-1z" fill="#000" fill-opacity="0.16"/>
<path d="M68 129h1v1h-1zM74 101h1v1h-1zM55 124h1v1h-1zM58 93h1v1h-1zM65 103h1v1h-1zM53 101h1v1h-1zM56 96h1v1h-1zM52 105h1v1h-1zM57 132h1v1h-1zM53 98h1v1h-1zM65 95h1v1h-1zM71 127h1v1h-1zM65 98h1v1h-1zM62 123h1v1h-1zM65 101h1v1h-1zM63 122h1v1h-1zM55 130h1v1h-1zM82 117h1v1h-1zM57 98h1v1h-1zM57 104h1v1h-1zM61 115h1v1h-1zM70 103h1v1h-1zM57 125h1v1h-1zM100 114h1v1h-1zM60 102h1v1h-1zM56 95h1v1h-1zM64 103h1v1h-1zM78 96h1v1h-1zM63 120h1v1h-1zM55 130h1v1h-1zM76 111h1v1h-1zM54 133h1v1h-1zM74 106h1v1h-1zM78 120h1v1h-1zM57 97h1v1h-1zM67 107h1v1h-1zM74 100h1v1h-1zM88 95h1v1h-1zM74 116h1v1h-1zM75 120h1v1h-1zM55 112h1v1h-1zM87 106h1v1h-1zM63 109h1v1h-1zM103 103h1v1h-1zM67 122h1v1h-1zM78 120h1v1h-1z" fill="#000" fill-opacity="0.16"/>
<path d="M78 101h1v1h-1zM81 133h1v1h-1zM64 93h1v1h-1zM60 130h1v1h-1zM80 95h1v1h-1zM69 101h1v1h-1zM73 105h1v1h-1zM57 93h1v1h-1zM63 121h1v1h-1zM60 104h1v1h-1zM53 99h1v1h-1zM74 134h1v1h-1zM66 113h1v1h-1zM80 128h1v1h-1zM68 95h1v1h-1zM55 125h1v1h-1zM57 111h1v1h-1zM57 129h1v1h-1zM103 130h1v1h-1zM74 123h1v1h-1zM81 96h1v1h-1zM83 110h1v1h-1zM57 106h1v1h-1zM75 125h1v1h-1zM58 114h1v1h-1zM98 131h1v1h-1zM77 134h1v1h-1zM52 94h1v1h-1zM84 103h1v1h-1zM80 118h1v1h-1zM85 114h1v1h-1zM85 121h1v1h-1zM56 106h1v1h-1zM77 102h1v1h-1zM58 130h1v1h-1zM78 109h1v1h-1zM85 102h1v1h-1zM56 110h1v1h-1zM56 92h1v1h-1zM54 129h1v1h-1zM62 102h1v1h-1zM77 128h1v1h-1zM93 132h1v1h-1zM68 100h1v1h-1zM87 109h1v1h-1zM58 123h1v1h-1z" fill="#000" fill-opacity="0.16"/>
<path d="M79 98h1v1h-1zM69 102h1v1h-1zM63 97h1v1h-1zM79 93h1v1h-1zM88 92h1v1h-1zM74 103h1v1h-1zM77 97h1v1h-1zM74 94h1v1h-1zM66 94h1v1h-1zM82 98h1v1h-1zM63 96h1v1h-1zM72 97h1v1h-1zM86 93h1v1h-1zM66 100h1v1h-1zM66 98h1v1h-1zM75 95h1v1h-1zM69 101h1v1h-1zM75 100h1v1h-1zM78 96h1v1h-1zM82 100h1v1h-1zM80 100h1v1h-1zM87 94h1v1h-1zM66 98h1v1h-1zM67 96h1v1h-1zM84 95h1v1h-1zM68 97h1v1h-1zM69 103h1v1h-1zM85 99h1v1h-1zM78 98h1v1h-1zM87 95h1v1h-1zM92 96h1v1h-1zM91 104h1v1h-1zM66 98h1v1h-1zM82 99h1v1h-1zM88 101h1v1h-1zM83 100h1v1h-1zM79 100h1v1h-1zM92 101h1v1h-1zM92 97h1v1h-1zM81 100h1v1h-1zM92 100h1v1h-1zM84 98h1v1h-1zM71 92h1v1h-1zM90 104h1v1h-1zM81 96h1v1h-1zM86 97h1v1h-1zM88 97h1v1h-1zM67 97h1v1h-1zM75 100h1v1h-1zM91 100h1v1h-1zM92 105h1v1h-1zM69 96h1v1h-1zM80 100h1v1h-1zM93 102h1v1h-1zM80 96h1v1h-1zM94 99h1v1h-1zM78 96h1v1h-1zM80 103h1v1h-1zM77 95h1v1h-1zM93 94h1v1h-1zM82 100h1v1h-1zM76 103h1v1h-1zM63 100h1v1h-1zM78 100h1v1h-1z" fill="#000" fill-opacity="0.13"/>
<path d="M90 93h1v1h-1zM84 103h1v1h-1zM65 99h1v1h-1zM81 95h1v1h-1zM64 99h1v1h-1zM68 99h1v1h-1zM65 96h1v1h-1zM85 96h1v1h-1zM82 100h1v1h-1zM78 101h1v1h-1zM66 102h1v1h-1zM94 99h1v1h-1zM66 97h1v1h-1zM75 93h1v1h-1zM89 94h1v1h-1zM67 98h1v1h-1zM86 104h1v1h-1zM81 95h1v1h-1zM84 103h1v1h-1zM66 98h1v1h-1zM69 90h1v1h-1zM77 101h1v1h-1zM73 100h1v1h-1zM89 105h1v1h-1zM73 96h1v1h-1zM63 100h1v1h-1zM88 98h1v1h-1zM84 96h1v1h-1zM68 95h1v1h-1zM69 97h1v1h-1zM64 93h1v1h-1zM93 99h1v1h-1zM77 95h1v1h-1zM73 100h1v1h-1zM92 95h1v1h-1zM80 98h1v1h-1zM77 103h1v1h-1zM63 96h1v1h-1zM92 99h1v1h-1zM75 94h1v1h-1zM79 95h1v1h-1zM65 104h1v1h-1zM85 99h1v1h-1zM87 97h1v1h-1zM89 97h1v1h-1zM91 93h1v1h-1zM92 99h1v1h-1zM71 95h1v1h-1zM92 97h1v1h-1zM65 98h1v1h-1zM78 97h1v1h-1zM71 101h1v1h-1zM90 99h1v1h-1zM84 95h1v1h-1zM86 98h1v1h-1zM69 93h1v1h-1zM90 91h1v1h-1zM85 93h1v1h-1zM66 97h1v1h-1zM93 92h1v1h-1zM66 95h1v1h-1zM67 94h1v1h-1zM70 96h1v1h-1z" fill="#000" fill-opacity="0.13"/>
<path d="M72 90h1v1h-1zM70 94h1v1h-1zM66 100h1v1h-1zM88 95h1v1h-1zM73 95h1v1h-1zM87 96h1v1h-1zM85 97h1v1h-1zM65 95h1v1h-1zM65 99h1v1h-1zM90 102h1v1h-1zM69 99h1v1h-1zM63 98h1v1h-1zM69 91h1v1h-1zM73 98h1v1h-1zM90 102h1v1h-1zM64 94h1v1h-1zM92 99h1v1h-1zM85 99h1v1h-1zM78 95h1v1h-1zM87 103h1v1h-1zM76 103h1v1h-1zM83 91h1v1h-1zM81 91h1v1h-1zM73 98h1v1h-1zM65 96h1v1h-1zM75 98h1v1h-1zM64 94h1v1h-1zM78 102h1v1h-1zM73 99h1v1h-1zM82 93h1v1h-1zM66 103h1v1h-1zM64 94h1v1h-1zM87 94h1v1h-1zM82 94h1v1h-1zM89 92h1v1h-1zM77 101h1v1h-1zM84 93h1v1h-1zM63 92h1v1h-1zM91 100h1v1h-1zM73 95h1v1h-1zM71 96h1v1h-1zM84 95h1v1h-1zM78 99h1v1h-1zM94 97h1v1h-1zM84 94h1v1h-1zM73 100h1v1h-1zM94 95h1v1h-1zM76 105h1v1h-1zM63 100h1v1h-1zM93 93h1v1h-1zM68 96h1v1h-1zM90 96h1v1h-1zM87 100h1v1h-1zM68 91h1v1h-1zM74 99h1v1h-1zM92 96h1v1h-1zM80 91h1v1h-1zM79 97h1v1h-1zM84 97h1v1h-1zM64 96h1v1h-1zM85 101h1v1h-1zM69 97h1v1h-1zM85 96h1v1h-1z" fill="#000" fill-opacity="0.13"/>
<rect x="36.9" y="63.5" width="77.1" height="73.5" fill="none" stroke="#222" stroke-width="1.2"/>
<path d="M36.9 137.5v2.2M42.7 137.5v1.3M46.1 137.5v1.3M48.5 137.5v1.3M50.4 137.5v1.3M51.9 137.5v1.3M53.2 137.5v1.3M54.3 137.5v1.3M55.3 137.5v1.3M56.2 137.5v2.2M62.0 137.5v1.3M65.4 137.5v1.3M67.8 137.5v1.3M69.6 137.5v1.3M71.2 137.5v1.3M72.5 137.5v1.3M73.6 137.5v1.3M74.6 137.5v1.3M75.4 137.5v2.2M81.3 137.5v1.3M84.6 137.5v1.3M87.1 137.5v1.3M88.9 137.5v1.3M90.4 137.5v1.3M91.7 137.5v1.3M92.9 137.5v1.3M93.8 137.5v1.3M94.7 137.5v2.2M100.5 137.5v1.3M103.9 137.5v1.3M106.3 137.5v1.3M108.2 137.5v1.3M109.7 137.5v1.3M111.0 137.5v1.3M112.1 137.5v1.3M113.1 137.5v1.3M36.4 137.0h-2.2M36.4 131.5h-1.3M36.4 128.2h-1.3M36.4 125.9h-1.3M36.4 124.2h-1.3M36.4 122.7h-1.3M36.4 121.5h-1.3M36.4 120.4h-1.3M36.4 119.5h-1.3M36.4 118.6h-2.2M36.4 113.1h-1.3M36.4 109.9h-1.3M36.4 107.6h-1.3M36.4 105.8h-1.3M36.4 104.3h-1.3M36.4 103.1h-1.3M36.4 102.0h-1.3M36.4 101.1h-1.3M36.4 100.2h-2.2M36.4 94.7h-1.3M36.4 91.5h-1.3M36.4 89.2h-1.3M36.4 87.4h-1.3M36.4 86.0h-1.3M36.4 84.7h-1.3M36.4 83.7h-1.3M36.4 82.7h-1.3M36.4 81.9h-2.2M36.4 76.3h-1.3M36.4 73.1h-1.3M36.4 70.8h-1.3M36.4 69.0h-1.3M36.4 67.6h-1.3M36.4 66.3h-1.3M36.4 65.3h-1.3M36.4 64.3h-1.3" stroke="#444" stroke-width="0.7" fill="none"/>
<rect x="62" y="88.3" width="34.6" height="18.7" fill="none" stroke="#222" stroke-width="1"/>
<text x="95" y="86.8" font-size="7.9" font-weight="bold" text-anchor="end">1.4</text>
<text x="43.5" y="76.2" font-size="7.9" font-weight="bold" font-style="italic">Gfi1b<tspan font-size="0.62em" dy="-0.45em">fl/fl</tspan></text>
<g clip-path="url(#ca2)"><g filter="url(#fb3)" fill="#2a2a2a"><rect x="150" y="101" width="23" height="42" rx="8"/><ellipse cx="178" cy="101" rx="7" ry="2.5" fill-opacity="0.6"/></g></g>
<path d="M156 127h1v1h-1zM171 120h1v1h-1zM160 108h1v1h-1zM164 135h1v1h-1zM172 131h1v1h-1zM170 127h1v1h-1zM162 97h1v1h-1zM165 104h1v1h-1zM161 113h1v1h-1zM163 114h1v1h-1zM154 97h1v1h-1zM162 116h1v1h-1zM162 121h1v1h-1zM155 117h1v1h-1zM162 98h1v1h-1zM173 115h1v1h-1zM160 112h1v1h-1zM172 102h1v1h-1zM174 113h1v1h-1zM165 119h1v1h-1zM169 120h1v1h-1zM161 130h1v1h-1zM159 110h1v1h-1zM162 120h1v1h-1zM160 103h1v1h-1zM173 120h1v1h-1zM170 114h1v1h-1zM160 123h1v1h-1zM160 100h1v1h-1zM161 119h1v1h-1zM163 118h1v1h-1zM159 122h1v1h-1zM158 121h1v1h-1zM154 133h1v1h-1zM170 134h1v1h-1zM156 112h1v1h-1zM162 111h1v1h-1zM168 102h1v1h-1zM169 123h1v1h-1zM171 113h1v1h-1zM174 114h1v1h-1zM165 135h1v1h-1zM166 110h1v1h-1zM172 97h1v1h-1zM169 119h1v1h-1zM168 121h1v1h-1zM153 104h1v1h-1zM157 101h1v1h-1zM165 126h1v1h-1zM160 126h1v1h-1zM161 110h1v1h-1zM173 118h1v1h-1zM174 105h1v1h-1zM162 115h1v1h-1zM161 111h1v1h-1zM172 118h1v1h-1zM154 97h1v1h-1zM155 125h1v1h-1zM172 96h1v1h-1zM163 109h1v1h-1zM158 110h1v1h-1zM174 127h1v1h-1zM172 112h1v1h-1zM154 103h1v1h-1zM155 122h1v1h-1zM158 120h1v1h-1zM160 113h1v1h-1zM163 102h1v1h-1zM168 132h1v1h-1zM172 113h1v1h-1zM170 112h1v1h-1zM164 105h1v1h-1zM160 117h1v1h-1zM164 99h1v1h-1zM169 97h1v1h-1zM165 122h1v1h-1zM158 111h1v1h-1zM174 126h1v1h-1zM171 113h1v1h-1zM174 96h1v1h-1zM157 130h1v1h-1zM159 101h1v1h-1zM163 101h1v1h-1zM163 134h1v1h-1zM171 99h1v1h-1zM168 130h1v1h-1zM165 119h1v1h-1zM174 122h1v1h-1zM155 130h1v1h-1zM165 109h1v1h-1zM165 104h1v1h-1zM166 103h1v1h-1zM166 105h1v1h-1zM165 135h1v1h-1zM170 123h1v1h-1zM157 130h1v1h-1zM165 117h1v1h-1zM156 111h1v1h-1zM174 120h1v1h-1zM155 104h1v1h-1zM167 120h1v1h-1zM161 135h1v1h-1zM156 131h1v1h-1zM168 114h1v1h-1zM162 126h1v1h-1zM154 98h1v1h-1zM166 95h1v1h-1zM174 121h1v1h-1zM162 121h1v1h-1zM170 128h1v1h-1zM160 129h1v1h-1zM171 101h1v1h-1zM157 125h1v1h-1zM167 119h1v1h-1zM156 108h1v1h-1zM159 116h1v1h-1zM165 125h1v1h-1zM161 130h1v1h-1zM159 134h1v1h-1zM158 108h1v1h-1zM153 116h1v1h-1zM163 106h1v1h-1zM157 101h1v1h-1zM166 101h1v1h-1zM163 105h1v1h-1zM169 103h1v1h-1zM156 110h1v1h-1zM157 99h1v1h-1zM170 99h1v1h-1zM165 122h1v1h-1zM167 111h1v1h-1zM155 102h1v1h-1zM174 97h1v1h-1zM167 112h1v1h-1zM170 102h1v1h-1zM166 117h1v1h-1zM169 133h1v1h-1zM159 102h1v1h-1zM154 125h1v1h-1zM171 115h1v1h-1zM158 125h1v1h-1zM158 128h1v1h-1zM170 132h1v1h-1zM158 96h1v1h-1zM163 131h1v1h-1zM166 120h1v1h-1zM168 111h1v1h-1zM164 104h1v1h-1zM159 104h1v1h-1zM167 125h1v1h-1zM155 115h1v1h-1zM171 105h1v1h-1zM164 97h1v1h-1zM158 107h1v1h-1zM159 102h1v1h-1zM166 111h1v1h-1zM159 121h1v1h-1zM157 128h1v1h-1zM160 135h1v1h-1zM156 119h1v1h-1zM154 110h1v1h-1zM160 111h1v1h-1zM164 120h1v1h-1zM157 133h1v1h-1zM168 111h1v1h-1zM155 116h1v1h-1zM167 126h1v1h-1zM160 100h1v1h-1zM173 101h1v1h-1zM166 125h1v1h-1zM165 121h1v1h-1zM164 116h1v1h-1zM171 121h1v1h-1zM167 106h1v1h-1zM174 103h1v1h-1zM156 129h1v1h-1zM159 125h1v1h-1zM173 104h1v1h-1zM169 98h1v1h-1zM162 122h1v1h-1zM170 112h1v1h-1zM169 119h1v1h-1zM169 118h1v1h-1zM169 101h1v1h-1zM154 119h1v1h-1zM156 111h1v1h-1zM169 121h1v1h-1zM157 125h1v1h-1zM164 99h1v1h-1zM153 119h1v1h-1zM161 118h1v1h-1zM156 134h1v1h-1zM161 132h1v1h-1zM159 127h1v1h-1zM165 116h1v1h-1zM156 115h1v1h-1zM157 105h1v1h-1zM166 119h1v1h-1zM155 95h1v1h-1zM153 97h1v1h-1zM158 103h1v1h-1zM160 115h1v1h-1zM154 101h1v1h-1zM174 124h1v1h-1zM166 119h1v1h-1zM165 129h1v1h-1zM156 106h1v1h-1zM164 106h1v1h-1zM157 129h1v1h-1zM171 110h1v1h-1zM174 97h1v1h-1zM171 94h1v1h-1zM167 120h1v1h-1zM165 119h1v1h-1zM160 126h1v1h-1zM173 101h1v1h-1zM166 101h1v1h-1zM173 116h1v1h-1zM158 131h1v1h-1zM174 101h1v1h-1zM165 104h1v1h-1zM157 111h1v1h-1zM169 113h1v1h-1zM172 125h1v1h-1zM169 102h1v1h-1zM166 108h1v1h-1zM159 127h1v1h-1zM169 107h1v1h-1zM161 127h1v1h-1zM163 101h1v1h-1zM172 103h1v1h-1zM170 122h1v1h-1zM170 127h1v1h-1zM173 107h1v1h-1zM172 127h1v1h-1zM154 127h1v1h-1zM160 130h1v1h-1zM163 96h1v1h-1zM158 122h1v1h-1zM163 119h1v1h-1zM158 102h1v1h-1zM159 134h1v1h-1zM173 133h1v1h-1zM161 110h1v1h-1zM171 113h1v1h-1zM165 102h1v1h-1zM156 124h1v1h-1zM171 117h1v1h-1zM169 103h1v1h-1zM161 108h1v1h-1zM164 114h1v1h-1zM162 116h1v1h-1zM167 110h1v1h-1zM154 107h1v1h-1zM174 125h1v1h-1zM161 99h1v1h-1zM156 134h1v1h-1zM161 102h1v1h-1zM162 110h1v1h-1zM167 102h1v1h-1zM173 127h1v1h-1zM160 105h1v1h-1zM159 120h1v1h-1zM169 122h1v1h-1zM164 95h1v1h-1zM155 127h1v1h-1zM159 135h1v1h-1zM173 122h1v1h-1zM162 133h1v1h-1zM155 104h1v1h-1zM172 135h1v1h-1zM168 116h1v1h-1zM164 133h1v1h-1zM154 127h1v1h-1zM170 95h1v1h-1zM172 122h1v1h-1zM168 118h1v1h-1zM175 116h1v1h-1zM172 109h1v1h-1zM174 105h1v1h-1zM172 128h1v1h-1zM172 120h1v1h-1zM173 117h1v1h-1zM176 125h1v1h-1zM176 127h1v1h-1zM169 111h1v1h-1zM170 106h1v1h-1zM174 127h1v1h-1zM174 133h1v1h-1zM173 125h1v1h-1zM171 122h1v1h-1zM174 110h1v1h-1zM172 101h1v1h-1zM176 108h1v1h-1zM177 112h1v1h-1zM177 117h1v1h-1zM174 119h1v1h-1zM173 106h1v1h-1zM172 108h1v1h-1zM171 122h1v1h-1zM172 127h1v1h-1zM176 120h1v1h-1zM179 109h1v1h-1zM172 117h1v1h-1zM178 113h1v1h-1zM172 105h1v1h-1zM177 123h1v1h-1zM173 124h1v1h-1zM175 122h1v1h-1zM173 129h1v1h-1zM173 123h1v1h-1zM170 109h1v1h-1zM179 121h1v1h-1zM173 104h1v1h-1zM172 125h1v1h-1zM177 122h1v1h-1zM175 116h1v1h-1zM177 114h1v1h-1zM171 127h1v1h-1zM172 122h1v1h-1zM178 103h1v1h-1zM172 111h1v1h-1zM172 116h1v1h-1zM173 118h1v1h-1zM171 124h1v1h-1zM174 116h1v1h-1zM172 123h1v1h-1zM176 102h1v1h-1zM176 115h1v1h-1zM178 125h1v1h-1zM174 125h1v1h-1zM173 109h1v1h-1zM172 117h1v1h-1zM171 128h1v1h-1zM176 103h1v1h-1zM175 125h1v1h-1zM177 114h1v1h-1zM180 125h1v1h-1zM173 122h1v1h-1zM172 108h1v1h-1zM176 116h1v1h-1zM172 121h1v1h-1zM176 115h1v1h-1zM178 102h1v1h-1zM173 128h1v1h-1zM175 104h1v1h-1zM172 120h1v1h-1zM169 113h1v1h-1zM172 114h1v1h-1zM175 104h1v1h-1zM174 126h1v1h-1zM181 96h1v1h-1zM171 101h1v1h-1zM172 103h1v1h-1zM176 106h1v1h-1zM171 118h1v1h-1zM176 104h1v1h-1zM165 108h1v1h-1zM163 104h1v1h-1zM165 128h1v1h-1zM162 135h1v1h-1zM157 118h1v1h-1zM168 101h1v1h-1zM161 107h1v1h-1zM169 134h1v1h-1zM156 120h1v1h-1zM154 134h1v1h-1zM165 127h1v1h-1zM158 105h1v1h-1zM160 109h1v1h-1zM158 127h1v1h-1zM165 116h1v1h-1zM157 118h1v1h-1zM156 113h1v1h-1zM162 123h1v1h-1zM157 133h1v1h-1zM154 127h1v1h-1zM162 109h1v1h-1zM167 128h1v1h-1zM165 127h1v1h-1zM160 122h1v1h-1zM166 118h1v1h-1zM166 119h1v1h-1zM160 110h1v1h-1zM155 134h1v1h-1zM154 119h1v1h-1zM161 122h1v1h-1zM159 131h1v1h-1zM160 118h1v1h-1zM168 103h1v1h-1zM162 129h1v1h-1zM162 121h1v1h-1zM159 130h1v1h-1zM156 108h1v1h-1zM165 135h1v1h-1zM165 131h1v1h-1zM171 109h1v1h-1zM164 111h1v1h-1zM161 104h1v1h-1zM160 104h1v1h-1zM154 132h1v1h-1zM164 118h1v1h-1zM157 108h1v1h-1zM158 127h1v1h-1zM154 130h1v1h-1zM158 130h1v1h-1zM164 132h1v1h-1zM161 115h1v1h-1zM169 115h1v1h-1zM161 117h1v1h-1zM160 115h1v1h-1zM158 125h1v1h-1zM157 123h1v1h-1zM165 129h1v1h-1zM163 131h1v1h-1zM165 109h1v1h-1zM174 111h1v1h-1zM159 110h1v1h-1zM161 115h1v1h-1zM171 135h1v1h-1zM157 112h1v1h-1zM168 127h1v1h-1zM172 117h1v1h-1zM156 113h1v1h-1zM159 119h1v1h-1zM166 109h1v1h-1zM163 128h1v1h-1zM165 110h1v1h-1zM164 127h1v1h-1zM153 102h1v1h-1zM174 116h1v1h-1zM167 106h1v1h-1zM156 102h1v1h-1zM166 99h1v1h-1zM158 111h1v1h-1zM164 118h1v1h-1zM162 126h1v1h-1zM156 130h1v1h-1zM160 123h1v1h-1zM156 103h1v1h-1zM169 108h1v1h-1zM158 127h1v1h-1zM160 129h1v1h-1zM159 103h1v1h-1zM154 131h1v1h-1zM167 118h1v1h-1zM157 127h1v1h-1zM171 125h1v1h-1zM158 104h1v1h-1zM157 115h1v1h-1z" fill="#000" fill-opacity="0.22"/>
<path d="M156 126h1v1h-1zM162 99h1v1h-1zM165 104h1v1h-1zM163 111h1v1h-1zM168 109h1v1h-1zM168 109h1v1h-1zM170 118h1v1h-1zM160 103h1v1h-1zM164 121h1v1h-1zM167 128h1v1h-1zM171 120h1v1h-1zM168 122h1v1h-1zM172 117h1v1h-1zM164 123h1v1h-1zM159 112h1v1h-1zM160 104h1v1h-1zM174 102h1v1h-1zM171 110h1v1h-1zM171 120h1v1h-1zM160 127h1v1h-1zM170 124h1v1h-1zM166 119h1v1h-1zM153 116h1v1h-1zM170 124h1v1h-1zM171 103h1v1h-1zM156 125h1v1h-1zM163 127h1v1h-1zM166 129h1v1h-1zM164 131h1v1h-1zM156 102h1v1h-1zM170 133h1v1h-1zM156 101h1v1h-1zM174 107h1v1h-1zM167 108h1v1h-1zM164 122h1v1h-1zM165 133h1v1h-1zM161 112h1v1h-1zM163 109h1v1h-1zM162 108h1v1h-1zM159 111h1v1h-1zM158 125h1v1h-1zM159 102h1v1h-1zM161 115h1v1h-1zM168 108h1v1h-1zM154 104h1v1h-1zM165 116h1v1h-1zM156 119h1v1h-1zM160 122h1v1h-1zM166 109h1v1h-1zM164 127h1v1h-1zM171 122h1v1h-1zM155 113h1v1h-1zM164 110h1v1h-1zM155 101h1v1h-1zM155 130h1v1h-1zM161 121h1v1h-1zM157 95h1v1h-1zM165 134h1v1h-1zM161 123h1v1h-1zM173 119h1v1h-1zM159 110h1v1h-1zM156 109h1v1h-1zM166 94h1v1h-1zM154 96h1v1h-1zM173 126h1v1h-1zM159 102h1v1h-1zM159 104h1v1h-1zM154 113h1v1h-1zM156 119h1v1h-1zM160 112h1v1h-1zM163 103h1v1h-1zM160 109h1v1h-1zM158 135h1v1h-1zM171 132h1v1h-1zM160 115h1v1h-1zM157 95h1v1h-1zM155 133h1v1h-1zM168 106h1v1h-1zM168 105h1v1h-1zM163 134h1v1h-1zM166 115h1v1h-1zM170 128h1v1h-1zM160 112h1v1h-1zM155 114h1v1h-1zM155 130h1v1h-1zM159 122h1v1h-1zM171 126h1v1h-1zM172 98h1v1h-1zM161 129h1v1h-1zM160 131h1v1h-1zM154 112h1v1h-1zM170 103h1v1h-1zM166 103h1v1h-1zM169 106h1v1h-1zM170 104h1v1h-1zM170 119h1v1h-1zM167 118h1v1h-1zM155 127h1v1h-1zM161 116h1v1h-1zM169 110h1v1h-1zM153 123h1v1h-1zM154 102h1v1h-1zM158 118h1v1h-1zM157 129h1v1h-1zM172 115h1v1h-1zM157 101h1v1h-1zM160 105h1v1h-1zM173 130h1v1h-1zM159 114h1v1h-1zM157 135h1v1h-1zM172 121h1v1h-1zM160 124h1v1h-1zM170 123h1v1h-1zM161 117h1v1h-1zM157 117h1v1h-1zM174 102h1v1h-1zM159 134h1v1h-1zM153 131h1v1h-1zM159 110h1v1h-1zM168 129h1v1h-1zM161 133h1v1h-1zM168 122h1v1h-1zM173 116h1v1h-1zM157 117h1v1h-1zM156 103h1v1h-1zM155 108h1v1h-1zM157 123h1v1h-1zM166 107h1v1h-1zM169 129h1v1h-1zM161 117h1v1h-1zM170 101h1v1h-1zM167 134h1v1h-1zM159 110h1v1h-1zM155 130h1v1h-1zM174 111h1v1h-1zM172 102h1v1h-1zM162 119h1v1h-1zM168 101h1v1h-1zM157 123h1v1h-1zM167 133h1v1h-1zM168 104h1v1h-1zM166 131h1v1h-1zM165 131h1v1h-1zM157 118h1v1h-1zM157 134h1v1h-1zM170 122h1v1h-1zM157 126h1v1h-1zM162 116h1v1h-1zM164 113h1v1h-1zM161 123h1v1h-1zM156 123h1v1h-1zM172 101h1v1h-1zM163 102h1v1h-1zM163 130h1v1h-1zM171 106h1v1h-1zM174 118h1v1h-1zM153 131h1v1h-1zM155 114h1v1h-1zM170 120h1v1h-1zM159 126h1v1h-1zM155 110h1v1h-1zM167 112h1v1h-1zM166 120h1v1h-1zM167 103h1v1h-1zM155 127h1v1h-1zM155 125h1v1h-1zM168 131h1v1h-1zM172 113h1v1h-1zM162 130h1v1h-1zM168 123h1v1h-1zM164 116h1v1h-1zM166 110h1v1h-1zM155 106h1v1h-1zM172 135h1v1h-1zM154 127h1v1h-1zM170 102h1v1h-1zM168 115h1v1h-1zM157 132h1v1h-1zM163 127h1v1h-1zM156 118h1v1h-1zM172 126h1v1h-1zM158 128h1v1h-1zM173 114h1v1h-1zM155 121h1v1h-1zM172 129h1v1h-1zM159 116h1v1h-1zM169 135h1v1h-1zM156 110h1v1h-1zM161 135h1v1h-1zM156 131h1v1h-1zM159 123h1v1h-1zM164 121h1v1h-1zM154 104h1v1h-1zM158 119h1v1h-1zM153 126h1v1h-1zM169 129h1v1h-1zM164 133h1v1h-1zM169 121h1v1h-1zM155 123h1v1h-1zM155 103h1v1h-1zM153 133h1v1h-1zM165 96h1v1h-1zM172 128h1v1h-1zM160 114h1v1h-1zM153 121h1v1h-1zM158 133h1v1h-1zM159 99h1v1h-1zM166 98h1v1h-1zM170 129h1v1h-1zM155 104h1v1h-1zM161 96h1v1h-1zM155 112h1v1h-1zM166 94h1v1h-1zM160 118h1v1h-1zM163 115h1v1h-1zM159 127h1v1h-1zM163 133h1v1h-1zM156 130h1v1h-1zM171 133h1v1h-1zM161 106h1v1h-1zM160 97h1v1h-1zM168 96h1v1h-1zM165 126h1v1h-1zM168 102h1v1h-1zM174 97h1v1h-1zM159 127h1v1h-1zM156 107h1v1h-1zM173 125h1v1h-1zM169 131h1v1h-1zM154 99h1v1h-1zM168 103h1v1h-1zM160 115h1v1h-1zM171 119h1v1h-1zM174 109h1v1h-1zM162 104h1v1h-1zM170 125h1v1h-1zM161 127h1v1h-1zM170 101h1v1h-1zM159 111h1v1h-1zM170 99h1v1h-1zM164 129h1v1h-1zM164 95h1v1h-1zM171 127h1v1h-1zM161 134h1v1h-1zM167 103h1v1h-1zM164 112h1v1h-1zM173 115h1v1h-1zM173 102h1v1h-1zM155 107h1v1h-1zM170 126h1v1h-1zM156 116h1v1h-1zM174 112h1v1h-1zM160 127h1v1h-1zM157 114h1v1h-1zM166 134h1v1h-1zM170 119h1v1h-1zM159 124h1v1h-1zM158 126h1v1h-1zM171 110h1v1h-1zM171 100h1v1h-1zM155 101h1v1h-1zM158 101h1v1h-1zM168 104h1v1h-1zM155 126h1v1h-1zM155 116h1v1h-1zM160 132h1v1h-1zM161 126h1v1h-1zM167 95h1v1h-1zM159 135h1v1h-1zM158 122h1v1h-1zM162 95h1v1h-1zM160 129h1v1h-1zM170 128h1v1h-1zM166 127h1v1h-1zM170 103h1v1h-1zM164 125h1v1h-1zM177 120h1v1h-1zM173 117h1v1h-1zM174 102h1v1h-1zM181 109h1v1h-1zM174 104h1v1h-1zM170 125h1v1h-1zM177 118h1v1h-1zM174 129h1v1h-1zM175 120h1v1h-1zM174 105h1v1h-1zM172 126h1v1h-1zM175 120h1v1h-1zM169 105h1v1h-1zM175 125h1v1h-1zM172 117h1v1h-1zM172 128h1v1h-1zM171 115h1v1h-1zM171 132h1v1h-1zM172 124h1v1h-1zM177 97h1v1h-1zM174 102h1v1h-1zM171 103h1v1h-1zM174 119h1v1h-1zM170 105h1v1h-1zM176 116h1v1h-1zM176 102h1v1h-1zM168 112h1v1h-1zM182 104h1v1h-1zM172 132h1v1h-1zM176 124h1v1h-1zM176 113h1v1h-1zM177 117h1v1h-1zM177 118h1v1h-1zM174 124h1v1h-1zM174 121h1v1h-1zM177 101h1v1h-1zM174 105h1v1h-1zM175 125h1v1h-1zM172 101h1v1h-1zM170 117h1v1h-1zM175 113h1v1h-1zM174 124h1v1h-1zM170 111h1v1h-1zM180 105h1v1h-1zM173 126h1v1h-1zM175 124h1v1h-1zM181 109h1v1h-1zM172 101h1v1h-1zM175 125h1v1h-1zM174 111h1v1h-1zM168 114h1v1h-1zM170 130h1v1h-1zM175 105h1v1h-1zM174 120h1v1h-1zM171 132h1v1h-1zM174 113h1v1h-1zM175 121h1v1h-1zM177 117h1v1h-1zM174 126h1v1h-1zM171 122h1v1h-1zM173 128h1v1h-1zM172 106h1v1h-1zM173 107h1v1h-1zM169 111h1v1h-1zM175 118h1v1h-1zM175 124h1v1h-1zM172 126h1v1h-1zM176 107h1v1h-1zM171 126h1v1h-1zM171 126h1v1h-1zM175 111h1v1h-1zM176 110h1v1h-1zM176 109h1v1h-1zM175 121h1v1h-1zM176 103h1v1h-1zM173 118h1v1h-1zM172 101h1v1h-1zM171 123h1v1h-1zM173 121h1v1h-1zM175 117h1v1h-1zM173 125h1v1h-1zM163 131h1v1h-1zM165 123h1v1h-1zM161 104h1v1h-1zM162 106h1v1h-1zM164 110h1v1h-1zM155 126h1v1h-1zM156 116h1v1h-1zM157 127h1v1h-1zM165 105h1v1h-1zM154 135h1v1h-1zM169 106h1v1h-1zM157 115h1v1h-1zM155 123h1v1h-1zM156 121h1v1h-1zM162 124h1v1h-1zM162 101h1v1h-1zM159 105h1v1h-1zM158 124h1v1h-1zM158 100h1v1h-1zM158 135h1v1h-1zM157 106h1v1h-1zM158 110h1v1h-1zM161 129h1v1h-1zM163 112h1v1h-1zM165 108h1v1h-1zM160 109h1v1h-1zM169 114h1v1h-1zM153 106h1v1h-1zM164 118h1v1h-1zM167 115h1v1h-1zM159 103h1v1h-1zM165 111h1v1h-1zM161 133h1v1h-1zM159 118h1v1h-1zM161 134h1v1h-1zM158 127h1v1h-1zM156 103h1v1h-1zM163 111h1v1h-1zM161 131h1v1h-1zM164 113h1v1h-1zM172 128h1v1h-1zM163 119h1v1h-1zM154 107h1v1h-1zM157 114h1v1h-1zM161 134h1v1h-1zM154 134h1v1h-1zM159 102h1v1h-1zM158 134h1v1h-1zM160 116h1v1h-1zM154 110h1v1h-1zM158 133h1v1h-1zM164 117h1v1h-1zM164 112h1v1h-1zM164 98h1v1h-1zM159 117h1v1h-1zM159 134h1v1h-1zM162 129h1v1h-1zM159 117h1v1h-1zM155 107h1v1h-1zM162 118h1v1h-1zM155 121h1v1h-1zM172 105h1v1h-1zM156 107h1v1h-1zM162 104h1v1h-1zM162 115h1v1h-1zM162 134h1v1h-1zM159 101h1v1h-1zM159 111h1v1h-1zM166 122h1v1h-1zM171 127h1v1h-1zM168 105h1v1h-1zM158 134h1v1h-1zM163 132h1v1h-1zM165 131h1v1h-1zM159 116h1v1h-1zM156 115h1v1h-1zM162 102h1v1h-1zM166 107h1v1h-1zM156 107h1v1h-1zM169 126h1v1h-1zM162 134h1v1h-1zM166 121h1v1h-1zM162 109h1v1h-1zM158 119h1v1h-1zM154 123h1v1h-1zM153 120h1v1h-1zM155 117h1v1h-1zM165 107h1v1h-1zM154 131h1v1h-1zM165 101h1v1h-1zM163 111h1v1h-1zM159 103h1v1h-1zM161 132h1v1h-1z" fill="#000" fill-opacity="0.22"/>
<path d="M169 126h1v1h-1zM155 107h1v1h-1zM171 109h1v1h-1zM154 129h1v1h-1zM170 104h1v1h-1zM169 124h1v1h-1zM170 98h1v1h-1zM162 128h1v1h-1zM171 113h1v1h-1zM169 105h1v1h-1zM157 123h1v1h-1zM155 131h1v1h-1zM158 103h1v1h-1zM159 135h1v1h-1zM169 103h1v1h-1zM159 123h1v1h-1zM161 115h1v1h-1zM157 101h1v1h-1zM171 97h1v1h-1zM159 116h1v1h-1zM159 107h1v1h-1zM153 102h1v1h-1zM163 118h1v1h-1zM166 122h1v1h-1zM159 116h1v1h-1zM163 115h1v1h-1zM174 121h1v1h-1zM160 108h1v1h-1zM169 125h1v1h-1zM160 103h1v1h-1zM161 127h1v1h-1zM166 102h1v1h-1zM171 101h1v1h-1zM169 113h1v1h-1zM174 132h1v1h-1zM167 129h1v1h-1zM154 110h1v1h-1zM171 110h1v1h-1zM157 134h1v1h-1zM157 125h1v1h-1zM158 104h1v1h-1zM166 99h1v1h-1zM168 130h1v1h-1zM168 105h1v1h-1zM166 120h1v1h-1zM174 123h1v1h-1zM167 120h1v1h-1zM174 122h1v1h-1zM172 131h1v1h-1zM160 109h1v1h-1zM167 103h1v1h-1zM162 133h1v1h-1zM153 135h1v1h-1zM169 133h1v1h-1zM174 102h1v1h-1zM162 116h1v1h-1zM166 109h1v1h-1zM174 96h1v1h-1zM168 134h1v1h-1zM173 96h1v1h-1zM170 135h1v1h-1zM173 118h1v1h-1zM164 122h1v1h-1zM172 102h1v1h-1zM157 108h1v1h-1zM158 123h1v1h-1zM167 103h1v1h-1zM163 115h1v1h-1zM173 101h1v1h-1zM172 133h1v1h-1zM172 129h1v1h-1zM163 110h1v1h-1zM170 103h1v1h-1zM169 132h1v1h-1zM161 132h1v1h-1zM161 102h1v1h-1zM165 117h1v1h-1zM161 126h1v1h-1zM164 135h1v1h-1zM162 107h1v1h-1zM154 102h1v1h-1zM174 103h1v1h-1zM168 103h1v1h-1zM161 101h1v1h-1zM172 121h1v1h-1zM160 111h1v1h-1zM167 108h1v1h-1zM173 110h1v1h-1zM156 100h1v1h-1zM158 120h1v1h-1zM160 112h1v1h-1zM172 114h1v1h-1zM168 115h1v1h-1zM165 118h1v1h-1zM156 117h1v1h-1zM157 128h1v1h-1zM167 126h1v1h-1zM165 112h1v1h-1zM157 118h1v1h-1zM167 127h1v1h-1zM167 123h1v1h-1zM153 106h1v1h-1zM162 110h1v1h-1zM168 104h1v1h-1zM166 112h1v1h-1zM171 104h1v1h-1zM174 112h1v1h-1zM165 125h1v1h-1zM155 106h1v1h-1zM170 113h1v1h-1zM158 106h1v1h-1zM154 126h1v1h-1zM154 120h1v1h-1zM167 98h1v1h-1zM163 116h1v1h-1zM158 104h1v1h-1zM166 110h1v1h-1zM173 110h1v1h-1zM156 132h1v1h-1zM155 108h1v1h-1zM163 125h1v1h-1zM166 114h1v1h-1zM167 134h1v1h-1zM157 119h1v1h-1zM168 110h1v1h-1zM169 115h1v1h-1zM154 117h1v1h-1zM157 116h1v1h-1zM161 127h1v1h-1zM169 104h1v1h-1zM172 107h1v1h-1zM160 107h1v1h-1zM167 120h1v1h-1zM161 104h1v1h-1zM166 104h1v1h-1zM155 103h1v1h-1zM159 112h1v1h-1zM156 109h1v1h-1zM162 115h1v1h-1zM159 126h1v1h-1zM167 108h1v1h-1zM169 123h1v1h-1zM172 123h1v1h-1zM171 127h1v1h-1zM165 111h1v1h-1zM163 96h1v1h-1zM168 118h1v1h-1zM156 124h1v1h-1zM172 107h1v1h-1zM160 101h1v1h-1zM171 111h1v1h-1zM154 128h1v1h-1zM153 97h1v1h-1zM158 120h1v1h-1zM155 134h1v1h-1zM170 110h1v1h-1zM166 111h1v1h-1zM171 132h1v1h-1zM154 105h1v1h-1zM158 97h1v1h-1zM169 110h1v1h-1zM174 131h1v1h-1zM154 117h1v1h-1zM162 135h1v1h-1zM156 121h1v1h-1zM173 101h1v1h-1zM156 123h1v1h-1zM154 124h1v1h-1zM157 110h1v1h-1zM156 123h1v1h-1zM161 120h1v1h-1zM165 129h1v1h-1zM166 135h1v1h-1zM161 104h1v1h-1zM155 124h1v1h-1zM169 128h1v1h-1zM159 117h1v1h-1zM159 117h1v1h-1zM163 133h1v1h-1zM165 135h1v1h-1zM169 130h1v1h-1zM154 102h1v1h-1zM171 107h1v1h-1zM161 132h1v1h-1zM160 100h1v1h-1zM164 113h1v1h-1zM167 132h1v1h-1zM164 131h1v1h-1zM156 112h1v1h-1zM165 100h1v1h-1zM166 103h1v1h-1zM169 135h1v1h-1zM171 113h1v1h-1zM161 126h1v1h-1zM167 97h1v1h-1zM158 107h1v1h-1zM171 131h1v1h-1zM171 130h1v1h-1zM157 104h1v1h-1zM161 114h1v1h-1zM165 135h1v1h-1zM161 125h1v1h-1zM164 114h1v1h-1zM174 97h1v1h-1zM158 117h1v1h-1zM159 126h1v1h-1zM165 101h1v1h-1zM157 129h1v1h-1zM173 112h1v1h-1zM153 122h1v1h-1zM158 125h1v1h-1zM164 114h1v1h-1zM153 93h1v1h-1zM168 98h1v1h-1zM168 106h1v1h-1zM160 108h1v1h-1zM165 115h1v1h-1zM161 129h1v1h-1zM160 120h1v1h-1zM167 127h1v1h-1zM156 121h1v1h-1zM156 108h1v1h-1zM162 124h1v1h-1zM166 99h1v1h-1zM160 133h1v1h-1zM156 117h1v1h-1zM173 109h1v1h-1zM169 115h1v1h-1zM160 97h1v1h-1zM161 129h1v1h-1zM167 128h1v1h-1zM163 129h1v1h-1zM173 128h1v1h-1zM170 134h1v1h-1zM160 122h1v1h-1zM168 124h1v1h-1zM165 123h1v1h-1zM173 111h1v1h-1zM163 133h1v1h-1zM153 115h1v1h-1zM157 105h1v1h-1zM157 119h1v1h-1zM156 102h1v1h-1zM161 102h1v1h-1zM171 122h1v1h-1zM165 96h1v1h-1zM154 127h1v1h-1zM166 105h1v1h-1zM156 113h1v1h-1zM162 103h1v1h-1zM173 105h1v1h-1zM167 118h1v1h-1zM157 102h1v1h-1zM162 102h1v1h-1zM163 114h1v1h-1zM162 135h1v1h-1zM154 127h1v1h-1zM159 104h1v1h-1zM155 134h1v1h-1zM156 131h1v1h-1zM170 106h1v1h-1zM157 101h1v1h-1zM160 116h1v1h-1zM167 131h1v1h-1zM165 134h1v1h-1zM169 115h1v1h-1zM172 125h1v1h-1zM170 99h1v1h-1zM165 105h1v1h-1zM170 111h1v1h-1zM170 109h1v1h-1zM164 100h1v1h-1zM166 119h1v1h-1zM154 110h1v1h-1zM169 109h1v1h-1zM170 104h1v1h-1zM173 107h1v1h-1zM175 102h1v1h-1zM175 112h1v1h-1zM172 109h1v1h-1zM177 107h1v1h-1zM174 123h1v1h-1zM175 121h1v1h-1zM180 115h1v1h-1zM172 129h1v1h-1zM175 105h1v1h-1zM173 107h1v1h-1zM174 115h1v1h-1zM173 127h1v1h-1zM172 132h1v1h-1zM175 124h1v1h-1zM174 111h1v1h-1zM175 118h1v1h-1zM172 113h1v1h-1zM171 116h1v1h-1zM175 101h1v1h-1zM176 114h1v1h-1zM172 129h1v1h-1zM170 111h1v1h-1zM175 124h1v1h-1zM174 110h1v1h-1zM174 124h1v1h-1zM172 106h1v1h-1zM175 128h1v1h-1zM171 108h1v1h-1zM176 111h1v1h-1zM176 123h1v1h-1zM178 106h1v1h-1zM168 112h1v1h-1zM173 115h1v1h-1zM174 117h1v1h-1zM171 105h1v1h-1zM176 107h1v1h-1zM171 108h1v1h-1zM176 111h1v1h-1zM172 111h1v1h-1zM173 96h1v1h-1zM174 109h1v1h-1zM173 99h1v1h-1zM171 130h1v1h-1zM171 122h1v1h-1zM175 116h1v1h-1zM175 124h1v1h-1zM182 107h1v1h-1zM180 110h1v1h-1zM174 123h1v1h-1zM173 103h1v1h-1zM174 118h1v1h-1zM172 123h1v1h-1zM172 126h1v1h-1zM172 122h1v1h-1zM174 121h1v1h-1zM174 118h1v1h-1zM173 125h1v1h-1zM173 121h1v1h-1zM175 102h1v1h-1zM170 102h1v1h-1zM171 97h1v1h-1zM170 122h1v1h-1zM172 107h1v1h-1zM175 101h1v1h-1zM174 116h1v1h-1zM167 117h1v1h-1zM175 130h1v1h-1zM179 101h1v1h-1zM178 122h1v1h-1zM172 108h1v1h-1zM175 106h1v1h-1zM171 98h1v1h-1zM181 101h1v1h-1zM169 118h1v1h-1zM175 103h1v1h-1zM177 99h1v1h-1zM176 101h1v1h-1zM174 106h1v1h-1zM168 129h1v1h-1zM170 129h1v1h-1zM164 107h1v1h-1zM166 130h1v1h-1zM164 122h1v1h-1zM156 123h1v1h-1zM162 120h1v1h-1zM158 121h1v1h-1zM164 99h1v1h-1zM157 107h1v1h-1zM167 115h1v1h-1zM158 116h1v1h-1zM162 98h1v1h-1zM160 102h1v1h-1zM157 105h1v1h-1zM155 125h1v1h-1zM163 114h1v1h-1zM161 120h1v1h-1zM161 134h1v1h-1zM164 112h1v1h-1zM169 112h1v1h-1zM156 124h1v1h-1zM160 113h1v1h-1zM164 132h1v1h-1zM157 128h1v1h-1zM162 123h1v1h-1zM163 132h1v1h-1zM157 118h1v1h-1zM157 128h1v1h-1zM166 135h1v1h-1zM162 103h1v1h-1zM166 116h1v1h-1zM154 98h1v1h-1zM155 100h1v1h-1zM161 105h1v1h-1zM159 122h1v1h-1zM163 129h1v1h-1zM155 100h1v1h-1zM160 130h1v1h-1zM162 98h1v1h-1zM170 125h1v1h-1zM155 130h1v1h-1zM161 105h1v1h-1zM161 114h1v1h-1zM159 113h1v1h-1zM161 132h1v1h-1zM163 122h1v1h-1zM156 114h1v1h-1zM162 130h1v1h-1zM159 123h1v1h-1zM163 123h1v1h-1zM162 114h1v1h-1zM167 105h1v1h-1zM164 113h1v1h-1zM167 114h1v1h-1zM170 113h1v1h-1zM164 119h1v1h-1zM160 123h1v1h-1zM163 118h1v1h-1zM169 105h1v1h-1zM154 113h1v1h-1zM161 117h1v1h-1zM163 122h1v1h-1zM156 122h1v1h-1zM157 122h1v1h-1zM162 113h1v1h-1zM161 105h1v1h-1zM163 123h1v1h-1zM162 122h1v1h-1zM165 135h1v1h-1zM167 101h1v1h-1zM155 107h1v1h-1zM166 103h1v1h-1zM154 128h1v1h-1zM158 128h1v1h-1zM155 113h1v1h-1zM161 112h1v1h-1zM163 111h1v1h-1zM154 124h1v1h-1zM163 108h1v1h-1zM167 103h1v1h-1zM153 118h1v1h-1zM159 120h1v1h-1zM161 113h1v1h-1zM156 122h1v1h-1zM164 123h1v1h-1zM162 99h1v1h-1zM165 123h1v1h-1zM162 103h1v1h-1zM162 114h1v1h-1zM163 120h1v1h-1zM159 130h1v1h-1zM165 133h1v1h-1zM163 128h1v1h-1zM162 118h1v1h-1z" fill="#000" fill-opacity="0.22"/>
<path d="M160 125h1v1h-1zM172 127h1v1h-1zM154 132h1v1h-1zM168 102h1v1h-1zM154 109h1v1h-1zM173 107h1v1h-1zM157 98h1v1h-1zM167 102h1v1h-1zM157 127h1v1h-1zM158 121h1v1h-1zM156 115h1v1h-1zM172 103h1v1h-1zM156 122h1v1h-1zM155 104h1v1h-1zM163 111h1v1h-1zM160 105h1v1h-1zM167 113h1v1h-1zM166 113h1v1h-1zM171 100h1v1h-1zM172 111h1v1h-1zM156 116h1v1h-1zM172 94h1v1h-1zM158 121h1v1h-1zM164 115h1v1h-1zM168 109h1v1h-1zM174 117h1v1h-1zM169 133h1v1h-1zM173 120h1v1h-1zM158 126h1v1h-1zM166 126h1v1h-1zM161 112h1v1h-1zM169 103h1v1h-1zM157 124h1v1h-1zM163 118h1v1h-1zM163 118h1v1h-1zM156 124h1v1h-1zM174 131h1v1h-1zM162 133h1v1h-1zM170 106h1v1h-1zM172 123h1v1h-1zM164 132h1v1h-1zM174 132h1v1h-1zM155 134h1v1h-1zM156 135h1v1h-1zM159 100h1v1h-1zM157 115h1v1h-1zM157 107h1v1h-1zM154 99h1v1h-1zM162 116h1v1h-1zM171 96h1v1h-1zM169 119h1v1h-1zM170 129h1v1h-1zM173 101h1v1h-1zM156 111h1v1h-1zM171 121h1v1h-1zM168 119h1v1h-1zM166 116h1v1h-1zM161 109h1v1h-1zM171 107h1v1h-1zM155 103h1v1h-1zM156 107h1v1h-1zM157 106h1v1h-1zM154 113h1v1h-1zM168 111h1v1h-1zM161 104h1v1h-1zM158 130h1v1h-1zM168 124h1v1h-1zM154 133h1v1h-1zM169 104h1v1h-1zM169 122h1v1h-1zM167 107h1v1h-1zM154 129h1v1h-1zM164 134h1v1h-1zM165 102h1v1h-1zM155 130h1v1h-1zM168 120h1v1h-1zM170 107h1v1h-1zM159 125h1v1h-1zM164 125h1v1h-1zM157 110h1v1h-1zM167 135h1v1h-1zM164 128h1v1h-1zM154 124h1v1h-1zM156 116h1v1h-1zM167 105h1v1h-1zM164 102h1v1h-1zM158 134h1v1h-1zM170 124h1v1h-1zM155 132h1v1h-1zM159 134h1v1h-1zM156 118h1v1h-1zM157 120h1v1h-1zM158 121h1v1h-1zM164 101h1v1h-1zM166 112h1v1h-1zM160 104h1v1h-1zM166 112h1v1h-1zM172 107h1v1h-1zM166 121h1v1h-1zM161 119h1v1h-1zM154 102h1v1h-1zM154 98h1v1h-1zM159 110h1v1h-1zM171 126h1v1h-1zM164 103h1v1h-1zM170 118h1v1h-1zM154 132h1v1h-1zM162 102h1v1h-1zM155 125h1v1h-1zM167 113h1v1h-1zM174 111h1v1h-1zM164 107h1v1h-1zM154 115h1v1h-1zM164 123h1v1h-1zM167 116h1v1h-1zM167 135h1v1h-1zM172 127h1v1h-1zM173 109h1v1h-1zM153 104h1v1h-1zM153 117h1v1h-1zM167 94h1v1h-1zM169 135h1v1h-1zM159 133h1v1h-1zM161 134h1v1h-1zM174 123h1v1h-1zM165 134h1v1h-1zM153 103h1v1h-1zM166 104h1v1h-1zM166 130h1v1h-1zM173 117h1v1h-1zM157 121h1v1h-1zM169 119h1v1h-1zM165 111h1v1h-1zM154 131h1v1h-1zM157 128h1v1h-1zM153 129h1v1h-1zM157 112h1v1h-1zM169 132h1v1h-1zM160 121h1v1h-1zM163 122h1v1h-1zM171 105h1v1h-1zM154 126h1v1h-1zM172 111h1v1h-1zM161 124h1v1h-1zM166 125h1v1h-1zM172 124h1v1h-1zM164 123h1v1h-1zM159 114h1v1h-1zM168 98h1v1h-1zM169 114h1v1h-1zM158 100h1v1h-1zM163 110h1v1h-1zM155 131h1v1h-1zM154 101h1v1h-1zM158 128h1v1h-1zM154 107h1v1h-1zM155 129h1v1h-1zM173 127h1v1h-1zM162 130h1v1h-1zM157 108h1v1h-1zM168 96h1v1h-1zM162 122h1v1h-1zM174 100h1v1h-1zM159 123h1v1h-1zM163 106h1v1h-1zM171 124h1v1h-1zM159 96h1v1h-1zM170 119h1v1h-1zM164 118h1v1h-1zM161 130h1v1h-1zM163 122h1v1h-1zM171 111h1v1h-1zM163 106h1v1h-1zM174 114h1v1h-1zM154 128h1v1h-1zM163 111h1v1h-1zM162 101h1v1h-1zM169 109h1v1h-1zM153 108h1v1h-1zM172 127h1v1h-1zM157 115h1v1h-1zM155 101h1v1h-1zM157 130h1v1h-1zM170 111h1v1h-1zM155 109h1v1h-1zM168 121h1v1h-1zM171 125h1v1h-1zM156 124h1v1h-1zM163 125h1v1h-1zM173 125h1v1h-1zM165 115h1v1h-1zM159 106h1v1h-1zM174 115h1v1h-1zM156 134h1v1h-1zM157 133h1v1h-1zM157 110h1v1h-1zM153 121h1v1h-1zM162 126h1v1h-1zM166 110h1v1h-1zM169 132h1v1h-1zM154 120h1v1h-1zM163 126h1v1h-1zM156 106h1v1h-1zM169 102h1v1h-1zM163 129h1v1h-1zM169 109h1v1h-1zM160 104h1v1h-1zM158 112h1v1h-1zM167 118h1v1h-1zM168 127h1v1h-1zM163 128h1v1h-1zM154 122h1v1h-1zM173 134h1v1h-1zM165 120h1v1h-1zM163 121h1v1h-1zM154 101h1v1h-1zM161 121h1v1h-1zM160 113h1v1h-1zM161 120h1v1h-1zM163 110h1v1h-1zM157 106h1v1h-1zM171 97h1v1h-1zM173 115h1v1h-1zM174 124h1v1h-1zM153 127h1v1h-1zM156 130h1v1h-1zM165 127h1v1h-1zM164 132h1v1h-1zM173 125h1v1h-1zM158 110h1v1h-1zM154 103h1v1h-1zM165 116h1v1h-1zM167 135h1v1h-1zM159 107h1v1h-1zM163 109h1v1h-1zM166 130h1v1h-1zM170 113h1v1h-1zM173 121h1v1h-1zM173 108h1v1h-1zM170 126h1v1h-1zM163 110h1v1h-1zM156 123h1v1h-1zM171 120h1v1h-1zM163 111h1v1h-1zM165 97h1v1h-1zM155 114h1v1h-1zM159 114h1v1h-1zM165 100h1v1h-1zM171 131h1v1h-1zM174 118h1v1h-1zM162 121h1v1h-1zM163 110h1v1h-1zM171 124h1v1h-1zM173 123h1v1h-1zM158 126h1v1h-1zM163 134h1v1h-1zM170 104h1v1h-1zM155 122h1v1h-1zM157 118h1v1h-1zM158 109h1v1h-1zM173 131h1v1h-1zM161 112h1v1h-1zM161 132h1v1h-1zM173 107h1v1h-1zM171 126h1v1h-1zM171 105h1v1h-1zM169 96h1v1h-1zM170 125h1v1h-1zM158 106h1v1h-1zM174 107h1v1h-1zM154 96h1v1h-1zM160 99h1v1h-1zM158 133h1v1h-1zM154 113h1v1h-1zM154 124h1v1h-1zM156 127h1v1h-1zM172 126h1v1h-1zM174 120h1v1h-1zM173 120h1v1h-1zM178 113h1v1h-1zM176 109h1v1h-1zM178 119h1v1h-1zM173 128h1v1h-1zM172 128h1v1h-1zM177 120h1v1h-1zM173 132h1v1h-1zM172 126h1v1h-1zM172 124h1v1h-1zM175 132h1v1h-1zM176 110h1v1h-1zM173 106h1v1h-1zM175 109h1v1h-1zM174 106h1v1h-1zM171 132h1v1h-1zM173 122h1v1h-1zM175 101h1v1h-1zM176 96h1v1h-1zM172 120h1v1h-1zM169 99h1v1h-1zM177 107h1v1h-1zM171 125h1v1h-1zM172 107h1v1h-1zM168 110h1v1h-1zM170 112h1v1h-1zM171 111h1v1h-1zM174 123h1v1h-1zM174 129h1v1h-1zM179 110h1v1h-1zM177 105h1v1h-1zM174 127h1v1h-1zM172 130h1v1h-1zM172 108h1v1h-1zM175 114h1v1h-1zM177 101h1v1h-1zM169 132h1v1h-1zM172 104h1v1h-1zM175 119h1v1h-1zM176 110h1v1h-1zM177 104h1v1h-1zM172 115h1v1h-1zM174 119h1v1h-1zM174 103h1v1h-1zM178 106h1v1h-1zM177 108h1v1h-1zM177 122h1v1h-1zM174 109h1v1h-1zM174 122h1v1h-1zM168 100h1v1h-1zM172 103h1v1h-1zM174 108h1v1h-1zM176 106h1v1h-1zM175 101h1v1h-1zM172 118h1v1h-1zM172 133h1v1h-1zM171 103h1v1h-1zM173 129h1v1h-1zM179 121h1v1h-1zM172 98h1v1h-1zM177 108h1v1h-1zM174 129h1v1h-1zM180 104h1v1h-1zM169 133h1v1h-1zM177 106h1v1h-1zM178 122h1v1h-1zM171 130h1v1h-1zM175 104h1v1h-1zM174 111h1v1h-1zM168 123h1v1h-1zM171 100h1v1h-1zM173 116h1v1h-1zM170 121h1v1h-1zM174 106h1v1h-1zM179 104h1v1h-1zM174 114h1v1h-1zM173 132h1v1h-1zM172 105h1v1h-1zM171 105h1v1h-1zM153 123h1v1h-1zM157 104h1v1h-1zM160 120h1v1h-1zM160 112h1v1h-1zM157 113h1v1h-1zM164 123h1v1h-1zM162 114h1v1h-1zM154 123h1v1h-1zM155 128h1v1h-1zM153 104h1v1h-1zM169 134h1v1h-1zM165 133h1v1h-1zM177 103h1v1h-1zM158 102h1v1h-1zM155 104h1v1h-1zM157 114h1v1h-1zM154 133h1v1h-1zM155 125h1v1h-1zM171 134h1v1h-1zM159 118h1v1h-1zM163 124h1v1h-1zM160 133h1v1h-1zM160 129h1v1h-1zM173 128h1v1h-1zM165 117h1v1h-1zM161 116h1v1h-1zM155 105h1v1h-1zM156 115h1v1h-1zM158 129h1v1h-1zM160 125h1v1h-1zM155 129h1v1h-1zM158 105h1v1h-1zM158 126h1v1h-1zM164 122h1v1h-1zM165 122h1v1h-1zM168 123h1v1h-1zM164 122h1v1h-1zM168 123h1v1h-1zM156 118h1v1h-1zM157 108h1v1h-1zM165 120h1v1h-1zM164 118h1v1h-1zM155 109h1v1h-1zM164 125h1v1h-1zM165 109h1v1h-1zM157 115h1v1h-1zM167 135h1v1h-1zM174 105h1v1h-1zM155 124h1v1h-1zM158 131h1v1h-1zM158 102h1v1h-1zM164 103h1v1h-1zM165 116h1v1h-1zM170 122h1v1h-1zM171 104h1v1h-1zM165 128h1v1h-1zM171 101h1v1h-1zM162 132h1v1h-1zM162 128h1v1h-1zM158 126h1v1h-1zM157 123h1v1h-1zM162 103h1v1h-1zM166 120h1v1h-1zM174 126h1v1h-1zM161 112h1v1h-1zM163 121h1v1h-1zM156 130h1v1h-1zM159 128h1v1h-1zM158 126h1v1h-1zM156 115h1v1h-1zM156 133h1v1h-1zM166 119h1v1h-1zM167 102h1v1h-1zM164 129h1v1h-1zM166 102h1v1h-1zM175 102h1v1h-1zM158 129h1v1h-1zM161 115h1v1h-1zM156 134h1v1h-1zM157 108h1v1h-1zM161 127h1v1h-1zM161 117h1v1h-1zM153 110h1v1h-1zM159 117h1v1h-1zM167 132h1v1h-1zM162 127h1v1h-1zM154 103h1v1h-1zM162 133h1v1h-1zM153 127h1v1h-1zM161 116h1v1h-1zM171 133h1v1h-1zM166 126h1v1h-1zM164 115h1v1h-1z" fill="#000" fill-opacity="0.22"/>
<path d="M157 113h1v1h-1zM172 125h1v1h-1zM153 99h1v1h-1zM157 126h1v1h-1zM170 100h1v1h-1zM174 123h1v1h-1zM153 108h1v1h-1zM156 133h1v1h-1zM157 104h1v1h-1zM173 127h1v1h-1zM155 111h1v1h-1zM154 131h1v1h-1zM167 103h1v1h-1zM164 127h1v1h-1zM172 98h1v1h-1zM159 132h1v1h-1zM170 98h1v1h-1zM169 128h1v1h-1zM163 132h1v1h-1zM163 129h1v1h-1zM174 123h1v1h-1zM170 121h1v1h-1zM172 114h1v1h-1zM168 126h1v1h-1zM167 117h1v1h-1zM165 123h1v1h-1zM172 123h1v1h-1zM170 123h1v1h-1zM169 97h1v1h-1zM168 123h1v1h-1zM173 112h1v1h-1zM171 113h1v1h-1zM156 128h1v1h-1zM170 103h1v1h-1zM163 110h1v1h-1zM166 106h1v1h-1zM156 110h1v1h-1zM164 107h1v1h-1zM157 106h1v1h-1zM173 116h1v1h-1zM168 102h1v1h-1zM163 101h1v1h-1zM154 128h1v1h-1zM157 102h1v1h-1zM163 105h1v1h-1zM168 106h1v1h-1zM161 134h1v1h-1zM164 108h1v1h-1zM155 97h1v1h-1zM170 132h1v1h-1zM169 102h1v1h-1zM162 123h1v1h-1zM165 132h1v1h-1zM162 105h1v1h-1zM157 120h1v1h-1zM163 96h1v1h-1zM154 115h1v1h-1zM160 110h1v1h-1zM158 116h1v1h-1zM173 125h1v1h-1zM159 131h1v1h-1zM156 126h1v1h-1zM157 118h1v1h-1zM170 98h1v1h-1zM164 128h1v1h-1zM166 129h1v1h-1zM156 121h1v1h-1zM167 99h1v1h-1zM158 105h1v1h-1zM173 123h1v1h-1zM167 125h1v1h-1zM164 108h1v1h-1zM165 102h1v1h-1zM164 101h1v1h-1zM163 122h1v1h-1zM174 116h1v1h-1zM173 130h1v1h-1zM169 130h1v1h-1zM160 111h1v1h-1zM167 96h1v1h-1zM163 123h1v1h-1zM161 102h1v1h-1zM159 105h1v1h-1zM168 131h1v1h-1zM172 111h1v1h-1zM171 121h1v1h-1zM169 123h1v1h-1zM156 101h1v1h-1zM159 123h1v1h-1zM159 120h1v1h-1zM173 119h1v1h-1zM169 129h1v1h-1zM159 113h1v1h-1zM172 117h1v1h-1zM160 99h1v1h-1zM172 99h1v1h-1zM160 101h1v1h-1zM154 102h1v1h-1zM157 99h1v1h-1zM158 124h1v1h-1zM156 129h1v1h-1zM167 109h1v1h-1zM170 127h1v1h-1zM156 106h1v1h-1zM158 118h1v1h-1zM171 100h1v1h-1zM168 113h1v1h-1zM164 110h1v1h-1zM172 104h1v1h-1zM155 124h1v1h-1zM172 117h1v1h-1zM165 123h1v1h-1zM171 135h1v1h-1zM173 114h1v1h-1zM162 129h1v1h-1zM159 117h1v1h-1zM165 119h1v1h-1zM162 96h1v1h-1zM159 112h1v1h-1zM156 125h1v1h-1zM162 133h1v1h-1zM164 110h1v1h-1zM163 123h1v1h-1zM157 110h1v1h-1zM165 121h1v1h-1zM158 112h1v1h-1zM163 98h1v1h-1zM170 107h1v1h-1zM153 107h1v1h-1zM171 130h1v1h-1zM168 104h1v1h-1zM165 103h1v1h-1zM162 133h1v1h-1zM170 111h1v1h-1zM167 113h1v1h-1zM158 106h1v1h-1zM160 130h1v1h-1zM162 111h1v1h-1zM164 101h1v1h-1zM173 101h1v1h-1zM155 94h1v1h-1zM153 110h1v1h-1zM162 115h1v1h-1zM172 110h1v1h-1zM169 101h1v1h-1zM163 115h1v1h-1zM162 109h1v1h-1zM160 112h1v1h-1zM160 129h1v1h-1zM160 98h1v1h-1zM166 122h1v1h-1zM160 113h1v1h-1zM168 95h1v1h-1zM158 120h1v1h-1zM167 105h1v1h-1zM164 99h1v1h-1zM165 129h1v1h-1zM174 101h1v1h-1zM165 127h1v1h-1zM162 126h1v1h-1zM169 108h1v1h-1zM165 116h1v1h-1zM173 130h1v1h-1zM170 97h1v1h-1zM160 113h1v1h-1zM157 133h1v1h-1zM163 109h1v1h-1zM154 133h1v1h-1zM155 111h1v1h-1zM174 124h1v1h-1zM161 134h1v1h-1zM160 135h1v1h-1zM155 107h1v1h-1zM174 129h1v1h-1zM159 131h1v1h-1zM170 134h1v1h-1zM165 123h1v1h-1zM171 100h1v1h-1zM170 101h1v1h-1zM169 106h1v1h-1zM169 98h1v1h-1zM169 131h1v1h-1zM170 127h1v1h-1zM166 103h1v1h-1zM166 108h1v1h-1zM164 110h1v1h-1zM156 102h1v1h-1zM153 124h1v1h-1zM167 124h1v1h-1zM156 121h1v1h-1zM159 122h1v1h-1zM169 117h1v1h-1zM164 105h1v1h-1zM166 115h1v1h-1zM174 98h1v1h-1zM157 105h1v1h-1zM156 106h1v1h-1zM167 119h1v1h-1zM159 106h1v1h-1zM165 117h1v1h-1zM159 130h1v1h-1zM165 110h1v1h-1zM163 115h1v1h-1zM157 97h1v1h-1zM167 106h1v1h-1zM155 113h1v1h-1zM153 107h1v1h-1zM155 111h1v1h-1zM154 116h1v1h-1zM168 132h1v1h-1zM172 116h1v1h-1zM164 125h1v1h-1zM165 110h1v1h-1zM161 104h1v1h-1zM171 107h1v1h-1zM167 129h1v1h-1zM153 108h1v1h-1zM164 99h1v1h-1zM167 129h1v1h-1zM154 130h1v1h-1zM167 115h1v1h-1zM160 131h1v1h-1zM154 116h1v1h-1zM160 98h1v1h-1zM170 102h1v1h-1zM155 127h1v1h-1zM154 121h1v1h-1zM153 131h1v1h-1zM174 127h1v1h-1zM174 116h1v1h-1zM174 126h1v1h-1zM166 100h1v1h-1zM168 124h1v1h-1zM169 102h1v1h-1zM161 108h1v1h-1zM168 108h1v1h-1zM160 114h1v1h-1zM163 110h1v1h-1zM172 108h1v1h-1zM156 120h1v1h-1zM168 135h1v1h-1zM171 111h1v1h-1zM161 124h1v1h-1zM170 106h1v1h-1zM160 118h1v1h-1zM172 115h1v1h-1zM158 119h1v1h-1zM165 128h1v1h-1zM158 112h1v1h-1zM171 107h1v1h-1zM162 128h1v1h-1zM172 123h1v1h-1zM171 129h1v1h-1zM165 120h1v1h-1zM164 110h1v1h-1zM165 126h1v1h-1zM171 105h1v1h-1zM160 112h1v1h-1zM155 102h1v1h-1zM157 131h1v1h-1zM173 112h1v1h-1zM171 98h1v1h-1zM159 112h1v1h-1zM171 127h1v1h-1zM157 130h1v1h-1zM154 101h1v1h-1zM158 99h1v1h-1zM160 103h1v1h-1zM166 111h1v1h-1zM161 111h1v1h-1zM165 125h1v1h-1zM165 115h1v1h-1zM161 115h1v1h-1zM156 111h1v1h-1zM157 115h1v1h-1zM170 113h1v1h-1zM172 104h1v1h-1zM174 123h1v1h-1zM176 102h1v1h-1zM176 123h1v1h-1zM173 100h1v1h-1zM175 112h1v1h-1zM172 126h1v1h-1zM169 105h1v1h-1zM176 113h1v1h-1zM169 122h1v1h-1zM170 114h1v1h-1zM174 116h1v1h-1zM175 125h1v1h-1zM174 111h1v1h-1zM175 107h1v1h-1zM174 114h1v1h-1zM174 108h1v1h-1zM175 114h1v1h-1zM172 119h1v1h-1zM176 104h1v1h-1zM176 125h1v1h-1zM170 109h1v1h-1zM173 105h1v1h-1zM173 121h1v1h-1zM169 129h1v1h-1zM170 120h1v1h-1zM177 101h1v1h-1zM174 95h1v1h-1zM177 115h1v1h-1zM173 122h1v1h-1zM178 125h1v1h-1zM173 132h1v1h-1zM178 102h1v1h-1zM172 115h1v1h-1zM173 122h1v1h-1zM174 112h1v1h-1zM174 103h1v1h-1zM171 116h1v1h-1zM178 127h1v1h-1zM168 121h1v1h-1zM169 117h1v1h-1zM172 119h1v1h-1zM173 123h1v1h-1zM179 107h1v1h-1zM177 108h1v1h-1zM173 109h1v1h-1zM173 109h1v1h-1zM173 115h1v1h-1zM177 105h1v1h-1zM176 120h1v1h-1zM170 102h1v1h-1zM175 117h1v1h-1zM175 105h1v1h-1zM168 123h1v1h-1zM175 127h1v1h-1zM172 105h1v1h-1zM175 108h1v1h-1zM172 113h1v1h-1zM176 129h1v1h-1zM174 113h1v1h-1zM173 118h1v1h-1zM176 111h1v1h-1zM177 122h1v1h-1zM174 106h1v1h-1zM171 123h1v1h-1zM176 123h1v1h-1zM175 118h1v1h-1zM175 101h1v1h-1zM172 115h1v1h-1zM176 117h1v1h-1zM174 110h1v1h-1zM172 117h1v1h-1zM178 111h1v1h-1zM180 112h1v1h-1zM177 102h1v1h-1zM175 132h1v1h-1zM179 113h1v1h-1zM170 108h1v1h-1zM176 110h1v1h-1zM176 99h1v1h-1zM175 118h1v1h-1zM160 129h1v1h-1zM163 128h1v1h-1zM163 117h1v1h-1zM158 128h1v1h-1zM161 126h1v1h-1zM162 134h1v1h-1zM159 117h1v1h-1zM156 126h1v1h-1zM154 111h1v1h-1zM166 104h1v1h-1zM162 120h1v1h-1zM156 127h1v1h-1zM156 125h1v1h-1zM164 121h1v1h-1zM165 121h1v1h-1zM166 97h1v1h-1zM158 101h1v1h-1zM163 119h1v1h-1zM161 120h1v1h-1zM161 121h1v1h-1zM162 111h1v1h-1zM172 114h1v1h-1zM161 113h1v1h-1zM162 124h1v1h-1zM157 109h1v1h-1zM159 120h1v1h-1zM160 129h1v1h-1zM154 123h1v1h-1zM169 132h1v1h-1zM170 133h1v1h-1zM160 108h1v1h-1zM154 125h1v1h-1zM161 129h1v1h-1zM160 104h1v1h-1zM156 103h1v1h-1zM155 124h1v1h-1zM171 130h1v1h-1zM161 129h1v1h-1zM166 132h1v1h-1zM163 125h1v1h-1zM160 132h1v1h-1zM163 134h1v1h-1zM162 121h1v1h-1zM158 106h1v1h-1zM159 100h1v1h-1zM158 109h1v1h-1zM158 114h1v1h-1zM160 101h1v1h-1zM163 129h1v1h-1zM155 113h1v1h-1zM162 99h1v1h-1zM160 103h1v1h-1zM159 103h1v1h-1zM156 134h1v1h-1zM157 103h1v1h-1zM157 123h1v1h-1zM164 133h1v1h-1zM170 114h1v1h-1zM167 134h1v1h-1zM153 102h1v1h-1zM159 102h1v1h-1zM155 109h1v1h-1zM166 101h1v1h-1zM158 115h1v1h-1zM157 124h1v1h-1zM155 113h1v1h-1zM164 115h1v1h-1zM168 110h1v1h-1zM169 126h1v1h-1zM162 134h1v1h-1zM155 103h1v1h-1zM156 106h1v1h-1zM156 101h1v1h-1zM167 108h1v1h-1zM161 102h1v1h-1zM157 128h1v1h-1zM157 132h1v1h-1zM157 101h1v1h-1zM157 117h1v1h-1zM154 118h1v1h-1zM155 116h1v1h-1zM164 122h1v1h-1zM155 108h1v1h-1zM158 112h1v1h-1zM161 101h1v1h-1zM154 134h1v1h-1zM154 119h1v1h-1zM156 122h1v1h-1zM164 135h1v1h-1zM170 111h1v1h-1zM166 120h1v1h-1zM165 135h1v1h-1zM161 101h1v1h-1z" fill="#000" fill-opacity="0.22"/>
<path d="M157 106h1v1h-1zM161 107h1v1h-1zM163 125h1v1h-1zM164 135h1v1h-1zM164 110h1v1h-1zM165 103h1v1h-1zM155 99h1v1h-1zM168 131h1v1h-1zM173 114h1v1h-1zM164 97h1v1h-1zM169 123h1v1h-1zM163 97h1v1h-1zM165 103h1v1h-1zM164 101h1v1h-1zM160 112h1v1h-1zM172 116h1v1h-1zM171 96h1v1h-1zM173 128h1v1h-1zM167 133h1v1h-1zM171 122h1v1h-1zM174 107h1v1h-1zM167 120h1v1h-1zM157 116h1v1h-1zM172 127h1v1h-1zM171 109h1v1h-1zM166 131h1v1h-1zM153 128h1v1h-1zM155 109h1v1h-1zM159 97h1v1h-1zM170 100h1v1h-1zM168 108h1v1h-1zM165 122h1v1h-1zM163 127h1v1h-1zM157 112h1v1h-1zM168 109h1v1h-1zM156 131h1v1h-1zM169 115h1v1h-1zM168 124h1v1h-1zM159 129h1v1h-1zM166 119h1v1h-1zM160 108h1v1h-1zM161 102h1v1h-1zM159 111h1v1h-1zM156 100h1v1h-1zM164 108h1v1h-1zM165 126h1v1h-1zM174 126h1v1h-1zM172 135h1v1h-1zM156 129h1v1h-1zM156 131h1v1h-1zM161 108h1v1h-1zM154 101h1v1h-1zM157 122h1v1h-1zM165 105h1v1h-1zM165 113h1v1h-1zM166 116h1v1h-1zM166 104h1v1h-1zM173 94h1v1h-1zM160 135h1v1h-1zM166 131h1v1h-1zM171 127h1v1h-1zM169 122h1v1h-1zM168 131h1v1h-1zM153 100h1v1h-1zM170 122h1v1h-1zM168 114h1v1h-1zM159 124h1v1h-1zM164 132h1v1h-1zM157 134h1v1h-1zM166 125h1v1h-1zM160 120h1v1h-1zM161 110h1v1h-1zM153 111h1v1h-1zM165 120h1v1h-1zM159 118h1v1h-1zM163 109h1v1h-1zM169 99h1v1h-1zM172 112h1v1h-1zM171 134h1v1h-1zM165 120h1v1h-1zM156 107h1v1h-1zM156 128h1v1h-1zM174 105h1v1h-1zM158 115h1v1h-1zM171 132h1v1h-1zM169 121h1v1h-1zM161 101h1v1h-1zM172 128h1v1h-1zM155 134h1v1h-1zM167 108h1v1h-1zM161 135h1v1h-1zM172 103h1v1h-1zM154 98h1v1h-1zM159 108h1v1h-1zM171 128h1v1h-1zM173 114h1v1h-1zM162 112h1v1h-1zM172 135h1v1h-1zM167 121h1v1h-1zM169 102h1v1h-1zM154 107h1v1h-1zM157 127h1v1h-1zM162 106h1v1h-1zM163 129h1v1h-1zM169 98h1v1h-1zM166 114h1v1h-1zM162 135h1v1h-1zM171 97h1v1h-1zM168 99h1v1h-1zM163 104h1v1h-1zM157 99h1v1h-1zM156 129h1v1h-1zM165 135h1v1h-1zM155 132h1v1h-1zM174 102h1v1h-1zM156 110h1v1h-1zM163 106h1v1h-1zM172 122h1v1h-1zM156 125h1v1h-1zM174 130h1v1h-1zM159 127h1v1h-1zM170 122h1v1h-1zM156 125h1v1h-1zM164 128h1v1h-1zM156 112h1v1h-1zM164 103h1v1h-1zM171 118h1v1h-1zM173 130h1v1h-1zM161 134h1v1h-1zM162 127h1v1h-1zM171 121h1v1h-1zM160 126h1v1h-1zM153 130h1v1h-1zM173 120h1v1h-1zM155 115h1v1h-1zM169 129h1v1h-1zM161 118h1v1h-1zM167 105h1v1h-1zM170 124h1v1h-1zM161 116h1v1h-1zM155 101h1v1h-1zM168 112h1v1h-1zM163 118h1v1h-1zM153 98h1v1h-1zM159 102h1v1h-1zM157 127h1v1h-1zM164 98h1v1h-1zM164 115h1v1h-1zM155 96h1v1h-1zM153 99h1v1h-1zM156 108h1v1h-1zM167 107h1v1h-1zM165 120h1v1h-1zM172 129h1v1h-1zM159 132h1v1h-1zM160 129h1v1h-1zM170 130h1v1h-1zM171 123h1v1h-1zM162 109h1v1h-1zM157 126h1v1h-1zM168 117h1v1h-1zM171 105h1v1h-1zM154 111h1v1h-1zM155 104h1v1h-1zM171 131h1v1h-1zM166 114h1v1h-1zM164 112h1v1h-1zM163 108h1v1h-1zM159 112h1v1h-1zM168 101h1v1h-1zM162 108h1v1h-1zM173 104h1v1h-1zM160 104h1v1h-1zM159 113h1v1h-1zM166 103h1v1h-1zM156 107h1v1h-1zM164 122h1v1h-1zM172 130h1v1h-1zM157 107h1v1h-1zM171 122h1v1h-1zM168 125h1v1h-1zM166 131h1v1h-1zM166 107h1v1h-1zM170 107h1v1h-1zM174 122h1v1h-1zM164 126h1v1h-1zM161 123h1v1h-1zM154 135h1v1h-1zM159 120h1v1h-1zM154 99h1v1h-1zM173 107h1v1h-1zM168 111h1v1h-1zM157 127h1v1h-1zM162 135h1v1h-1zM154 106h1v1h-1zM172 96h1v1h-1zM160 109h1v1h-1zM155 128h1v1h-1zM161 135h1v1h-1zM160 110h1v1h-1zM154 124h1v1h-1zM159 113h1v1h-1zM173 107h1v1h-1zM173 106h1v1h-1zM167 119h1v1h-1zM163 129h1v1h-1zM162 93h1v1h-1zM154 107h1v1h-1zM155 114h1v1h-1zM171 132h1v1h-1zM167 120h1v1h-1zM167 123h1v1h-1zM174 114h1v1h-1zM158 110h1v1h-1zM161 128h1v1h-1zM174 122h1v1h-1zM168 102h1v1h-1zM173 100h1v1h-1zM169 101h1v1h-1zM164 102h1v1h-1zM164 117h1v1h-1zM174 106h1v1h-1zM158 123h1v1h-1zM162 109h1v1h-1zM170 133h1v1h-1zM157 103h1v1h-1zM153 100h1v1h-1zM156 103h1v1h-1zM165 103h1v1h-1zM156 103h1v1h-1zM162 110h1v1h-1zM159 101h1v1h-1zM155 114h1v1h-1zM158 132h1v1h-1zM160 120h1v1h-1zM173 128h1v1h-1zM168 118h1v1h-1zM174 109h1v1h-1zM159 99h1v1h-1zM173 115h1v1h-1zM158 113h1v1h-1zM168 103h1v1h-1zM154 103h1v1h-1zM173 105h1v1h-1zM158 105h1v1h-1zM168 101h1v1h-1zM157 103h1v1h-1zM169 130h1v1h-1zM173 131h1v1h-1zM161 124h1v1h-1zM165 132h1v1h-1zM158 123h1v1h-1zM173 99h1v1h-1zM170 126h1v1h-1zM165 117h1v1h-1zM161 117h1v1h-1zM154 110h1v1h-1zM160 131h1v1h-1zM173 111h1v1h-1zM164 131h1v1h-1zM156 134h1v1h-1zM162 96h1v1h-1zM160 101h1v1h-1zM158 127h1v1h-1zM167 116h1v1h-1zM172 129h1v1h-1zM157 132h1v1h-1zM166 112h1v1h-1zM161 96h1v1h-1zM165 131h1v1h-1zM171 96h1v1h-1zM171 116h1v1h-1zM166 108h1v1h-1zM165 132h1v1h-1zM165 120h1v1h-1zM177 109h1v1h-1zM176 102h1v1h-1zM176 116h1v1h-1zM176 110h1v1h-1zM177 123h1v1h-1zM171 101h1v1h-1zM172 109h1v1h-1zM172 112h1v1h-1zM181 102h1v1h-1zM172 115h1v1h-1zM174 103h1v1h-1zM174 108h1v1h-1zM170 107h1v1h-1zM176 122h1v1h-1zM175 113h1v1h-1zM181 123h1v1h-1zM174 121h1v1h-1zM170 119h1v1h-1zM174 117h1v1h-1zM175 107h1v1h-1zM173 102h1v1h-1zM174 107h1v1h-1zM175 113h1v1h-1zM172 117h1v1h-1zM177 107h1v1h-1zM176 124h1v1h-1zM175 126h1v1h-1zM171 121h1v1h-1zM171 126h1v1h-1zM178 114h1v1h-1zM177 122h1v1h-1zM177 121h1v1h-1zM175 99h1v1h-1zM174 112h1v1h-1zM177 114h1v1h-1zM177 116h1v1h-1zM173 107h1v1h-1zM175 114h1v1h-1zM175 127h1v1h-1zM171 115h1v1h-1zM176 104h1v1h-1zM175 101h1v1h-1zM179 120h1v1h-1zM175 120h1v1h-1zM171 120h1v1h-1zM169 126h1v1h-1zM176 109h1v1h-1zM171 105h1v1h-1zM175 116h1v1h-1zM175 114h1v1h-1zM172 126h1v1h-1zM178 101h1v1h-1zM173 128h1v1h-1zM174 117h1v1h-1zM174 104h1v1h-1zM172 120h1v1h-1zM177 122h1v1h-1zM171 103h1v1h-1zM177 108h1v1h-1zM176 103h1v1h-1zM178 123h1v1h-1zM178 101h1v1h-1zM169 130h1v1h-1zM173 130h1v1h-1zM171 128h1v1h-1zM172 112h1v1h-1zM175 125h1v1h-1zM177 119h1v1h-1zM176 107h1v1h-1zM175 125h1v1h-1zM177 124h1v1h-1zM177 112h1v1h-1zM175 104h1v1h-1zM176 114h1v1h-1zM179 113h1v1h-1zM171 109h1v1h-1zM169 123h1v1h-1zM178 124h1v1h-1zM176 122h1v1h-1zM177 120h1v1h-1zM175 108h1v1h-1zM175 121h1v1h-1zM163 128h1v1h-1zM164 127h1v1h-1zM166 102h1v1h-1zM166 105h1v1h-1zM162 120h1v1h-1zM158 114h1v1h-1zM158 115h1v1h-1zM168 127h1v1h-1zM172 117h1v1h-1zM159 108h1v1h-1zM155 118h1v1h-1zM158 117h1v1h-1zM155 122h1v1h-1zM163 110h1v1h-1zM165 117h1v1h-1zM162 120h1v1h-1zM163 115h1v1h-1zM167 103h1v1h-1zM160 119h1v1h-1zM164 131h1v1h-1zM160 111h1v1h-1zM155 121h1v1h-1zM156 114h1v1h-1zM155 116h1v1h-1zM156 124h1v1h-1zM159 125h1v1h-1zM158 102h1v1h-1zM154 130h1v1h-1zM163 118h1v1h-1zM159 115h1v1h-1zM157 127h1v1h-1zM162 104h1v1h-1zM157 120h1v1h-1zM164 124h1v1h-1zM163 121h1v1h-1zM161 124h1v1h-1zM161 105h1v1h-1zM157 108h1v1h-1zM164 111h1v1h-1zM166 106h1v1h-1zM165 129h1v1h-1zM168 130h1v1h-1zM155 107h1v1h-1zM155 111h1v1h-1zM159 104h1v1h-1zM156 105h1v1h-1zM170 132h1v1h-1zM157 130h1v1h-1zM162 105h1v1h-1zM162 96h1v1h-1zM160 132h1v1h-1zM154 106h1v1h-1zM161 126h1v1h-1zM158 131h1v1h-1zM158 103h1v1h-1zM159 126h1v1h-1zM157 131h1v1h-1zM164 132h1v1h-1zM159 132h1v1h-1zM165 102h1v1h-1zM161 124h1v1h-1zM159 122h1v1h-1zM167 122h1v1h-1zM155 133h1v1h-1zM154 135h1v1h-1zM158 121h1v1h-1zM161 106h1v1h-1zM164 131h1v1h-1zM164 114h1v1h-1zM162 123h1v1h-1zM160 131h1v1h-1zM155 123h1v1h-1zM160 111h1v1h-1zM155 106h1v1h-1zM165 108h1v1h-1zM157 108h1v1h-1zM155 110h1v1h-1zM169 123h1v1h-1zM162 121h1v1h-1zM160 115h1v1h-1zM170 126h1v1h-1zM159 113h1v1h-1zM157 119h1v1h-1zM159 129h1v1h-1zM158 120h1v1h-1zM159 103h1v1h-1zM170 110h1v1h-1zM161 101h1v1h-1zM163 120h1v1h-1zM172 103h1v1h-1zM164 114h1v1h-1zM159 131h1v1h-1z" fill="#000" fill-opacity="0.22"/>
<path d="M167 102h1v1h-1zM155 107h1v1h-1zM156 99h1v1h-1zM154 105h1v1h-1zM160 117h1v1h-1zM162 117h1v1h-1zM167 130h1v1h-1zM171 123h1v1h-1zM165 119h1v1h-1zM159 111h1v1h-1zM167 93h1v1h-1zM169 100h1v1h-1zM161 101h1v1h-1zM161 101h1v1h-1zM153 128h1v1h-1zM170 127h1v1h-1zM159 109h1v1h-1zM174 118h1v1h-1zM168 122h1v1h-1zM172 114h1v1h-1zM155 121h1v1h-1zM173 131h1v1h-1zM156 112h1v1h-1zM170 135h1v1h-1zM174 111h1v1h-1zM169 105h1v1h-1zM159 114h1v1h-1zM155 126h1v1h-1zM162 112h1v1h-1zM163 124h1v1h-1zM153 120h1v1h-1zM171 125h1v1h-1zM156 103h1v1h-1zM164 116h1v1h-1zM162 108h1v1h-1zM174 115h1v1h-1zM165 133h1v1h-1zM154 103h1v1h-1zM154 134h1v1h-1zM164 132h1v1h-1zM164 135h1v1h-1zM162 97h1v1h-1zM165 113h1v1h-1zM156 133h1v1h-1zM168 134h1v1h-1zM155 129h1v1h-1zM173 112h1v1h-1zM154 124h1v1h-1zM155 119h1v1h-1zM159 103h1v1h-1zM156 111h1v1h-1zM165 100h1v1h-1zM157 105h1v1h-1zM162 101h1v1h-1zM164 122h1v1h-1zM153 116h1v1h-1zM171 101h1v1h-1zM164 116h1v1h-1zM155 105h1v1h-1zM159 108h1v1h-1zM157 109h1v1h-1zM158 106h1v1h-1zM153 108h1v1h-1zM155 119h1v1h-1zM163 107h1v1h-1zM162 116h1v1h-1zM168 135h1v1h-1zM171 124h1v1h-1zM170 101h1v1h-1zM164 105h1v1h-1zM168 121h1v1h-1zM156 117h1v1h-1zM165 102h1v1h-1zM171 114h1v1h-1zM157 101h1v1h-1zM162 110h1v1h-1zM169 113h1v1h-1zM156 125h1v1h-1zM164 114h1v1h-1zM170 131h1v1h-1zM164 116h1v1h-1zM162 117h1v1h-1zM174 110h1v1h-1zM156 122h1v1h-1zM169 123h1v1h-1zM154 98h1v1h-1zM168 124h1v1h-1zM172 128h1v1h-1zM153 102h1v1h-1zM170 125h1v1h-1zM156 109h1v1h-1zM163 107h1v1h-1zM163 103h1v1h-1zM174 121h1v1h-1zM173 131h1v1h-1zM171 101h1v1h-1zM172 110h1v1h-1zM163 124h1v1h-1zM156 129h1v1h-1zM170 93h1v1h-1zM166 108h1v1h-1zM158 131h1v1h-1zM166 120h1v1h-1zM158 129h1v1h-1zM155 123h1v1h-1zM167 121h1v1h-1zM164 104h1v1h-1zM163 101h1v1h-1zM167 108h1v1h-1zM161 126h1v1h-1zM157 103h1v1h-1zM161 102h1v1h-1zM170 133h1v1h-1zM161 124h1v1h-1zM156 132h1v1h-1zM155 104h1v1h-1zM172 129h1v1h-1zM155 132h1v1h-1zM160 117h1v1h-1zM174 128h1v1h-1zM172 112h1v1h-1zM170 116h1v1h-1zM159 108h1v1h-1zM170 132h1v1h-1zM174 129h1v1h-1zM173 106h1v1h-1zM163 116h1v1h-1zM169 121h1v1h-1zM168 122h1v1h-1zM160 130h1v1h-1zM157 119h1v1h-1zM163 123h1v1h-1zM164 134h1v1h-1zM173 127h1v1h-1zM162 114h1v1h-1zM165 120h1v1h-1zM162 133h1v1h-1zM172 113h1v1h-1zM167 125h1v1h-1zM170 96h1v1h-1zM170 118h1v1h-1zM170 99h1v1h-1zM173 116h1v1h-1zM154 126h1v1h-1zM171 110h1v1h-1zM173 100h1v1h-1zM161 108h1v1h-1zM170 118h1v1h-1zM154 104h1v1h-1zM157 103h1v1h-1zM165 135h1v1h-1zM154 102h1v1h-1zM164 111h1v1h-1zM168 131h1v1h-1zM159 106h1v1h-1zM156 134h1v1h-1zM174 111h1v1h-1zM160 117h1v1h-1zM154 122h1v1h-1zM156 110h1v1h-1zM153 109h1v1h-1zM157 124h1v1h-1zM162 130h1v1h-1zM169 119h1v1h-1zM161 128h1v1h-1zM157 107h1v1h-1zM159 125h1v1h-1zM173 109h1v1h-1zM158 122h1v1h-1zM169 129h1v1h-1zM165 118h1v1h-1zM160 130h1v1h-1zM155 132h1v1h-1zM154 104h1v1h-1zM158 104h1v1h-1zM170 100h1v1h-1zM159 131h1v1h-1zM160 96h1v1h-1zM168 118h1v1h-1zM162 105h1v1h-1zM158 120h1v1h-1zM158 116h1v1h-1zM165 121h1v1h-1zM169 104h1v1h-1zM174 97h1v1h-1zM174 134h1v1h-1zM158 116h1v1h-1zM153 134h1v1h-1zM164 121h1v1h-1zM156 105h1v1h-1zM160 106h1v1h-1zM166 102h1v1h-1zM158 117h1v1h-1zM170 127h1v1h-1zM172 131h1v1h-1zM164 108h1v1h-1zM163 98h1v1h-1zM173 122h1v1h-1zM168 113h1v1h-1zM154 130h1v1h-1zM172 108h1v1h-1zM159 104h1v1h-1zM163 129h1v1h-1zM169 98h1v1h-1zM155 111h1v1h-1zM162 119h1v1h-1zM158 115h1v1h-1zM162 99h1v1h-1zM169 103h1v1h-1zM153 97h1v1h-1zM155 111h1v1h-1zM174 126h1v1h-1zM156 126h1v1h-1zM166 106h1v1h-1zM164 103h1v1h-1zM171 120h1v1h-1zM163 134h1v1h-1zM169 132h1v1h-1zM162 106h1v1h-1zM154 122h1v1h-1zM173 125h1v1h-1zM159 123h1v1h-1zM154 102h1v1h-1zM158 121h1v1h-1zM173 102h1v1h-1zM169 112h1v1h-1zM161 109h1v1h-1zM161 129h1v1h-1zM157 132h1v1h-1zM173 102h1v1h-1zM158 117h1v1h-1zM153 133h1v1h-1zM154 98h1v1h-1zM172 113h1v1h-1zM158 113h1v1h-1zM154 120h1v1h-1zM173 110h1v1h-1zM153 125h1v1h-1zM154 124h1v1h-1zM157 104h1v1h-1zM158 105h1v1h-1zM154 103h1v1h-1zM172 96h1v1h-1zM166 128h1v1h-1zM172 124h1v1h-1zM174 108h1v1h-1zM167 135h1v1h-1zM173 116h1v1h-1zM154 115h1v1h-1zM170 120h1v1h-1zM160 135h1v1h-1zM154 96h1v1h-1zM165 108h1v1h-1zM169 106h1v1h-1zM158 126h1v1h-1zM173 129h1v1h-1zM163 119h1v1h-1zM166 119h1v1h-1zM165 135h1v1h-1zM172 131h1v1h-1zM171 127h1v1h-1zM168 133h1v1h-1zM158 114h1v1h-1zM166 103h1v1h-1zM161 101h1v1h-1zM155 128h1v1h-1zM161 130h1v1h-1zM155 106h1v1h-1zM158 128h1v1h-1zM154 128h1v1h-1zM162 99h1v1h-1zM172 114h1v1h-1zM171 105h1v1h-1zM170 114h1v1h-1zM155 131h1v1h-1zM173 111h1v1h-1zM175 114h1v1h-1zM174 98h1v1h-1zM173 126h1v1h-1zM171 117h1v1h-1zM174 107h1v1h-1zM173 111h1v1h-1zM173 130h1v1h-1zM173 102h1v1h-1zM173 122h1v1h-1zM171 133h1v1h-1zM172 118h1v1h-1zM172 111h1v1h-1zM170 131h1v1h-1zM176 118h1v1h-1zM174 119h1v1h-1zM175 105h1v1h-1zM171 117h1v1h-1zM169 105h1v1h-1zM173 112h1v1h-1zM175 102h1v1h-1zM173 125h1v1h-1zM173 108h1v1h-1zM175 119h1v1h-1zM176 116h1v1h-1zM171 103h1v1h-1zM172 117h1v1h-1zM181 107h1v1h-1zM178 104h1v1h-1zM170 110h1v1h-1zM173 116h1v1h-1zM175 116h1v1h-1zM179 105h1v1h-1zM178 112h1v1h-1zM176 129h1v1h-1zM174 102h1v1h-1zM174 129h1v1h-1zM176 113h1v1h-1zM175 109h1v1h-1zM177 111h1v1h-1zM177 109h1v1h-1zM171 113h1v1h-1zM171 123h1v1h-1zM174 125h1v1h-1zM166 120h1v1h-1zM177 113h1v1h-1zM174 101h1v1h-1zM172 112h1v1h-1zM174 107h1v1h-1zM175 118h1v1h-1zM178 102h1v1h-1zM171 121h1v1h-1zM175 125h1v1h-1zM172 127h1v1h-1zM172 102h1v1h-1zM176 107h1v1h-1zM176 117h1v1h-1zM173 107h1v1h-1zM173 96h1v1h-1zM173 116h1v1h-1zM180 120h1v1h-1zM176 107h1v1h-1zM172 112h1v1h-1zM182 106h1v1h-1zM172 117h1v1h-1zM171 130h1v1h-1zM171 105h1v1h-1zM175 107h1v1h-1zM179 104h1v1h-1zM175 121h1v1h-1zM173 123h1v1h-1zM168 116h1v1h-1zM167 130h1v1h-1zM174 124h1v1h-1zM172 104h1v1h-1zM173 126h1v1h-1zM175 114h1v1h-1zM168 126h1v1h-1zM177 106h1v1h-1zM174 113h1v1h-1zM176 112h1v1h-1zM174 125h1v1h-1zM154 115h1v1h-1zM155 121h1v1h-1zM158 101h1v1h-1zM155 116h1v1h-1zM154 120h1v1h-1zM160 122h1v1h-1zM165 117h1v1h-1zM155 113h1v1h-1zM161 135h1v1h-1zM159 133h1v1h-1zM156 106h1v1h-1zM167 107h1v1h-1zM164 115h1v1h-1zM159 109h1v1h-1zM165 103h1v1h-1zM168 115h1v1h-1zM163 110h1v1h-1zM169 118h1v1h-1zM157 133h1v1h-1zM155 132h1v1h-1zM166 104h1v1h-1zM158 103h1v1h-1zM167 103h1v1h-1zM158 132h1v1h-1zM160 110h1v1h-1zM156 124h1v1h-1zM165 125h1v1h-1zM156 132h1v1h-1zM168 114h1v1h-1zM164 132h1v1h-1zM157 123h1v1h-1zM168 110h1v1h-1zM162 130h1v1h-1zM167 112h1v1h-1zM156 118h1v1h-1zM157 130h1v1h-1zM154 125h1v1h-1zM156 122h1v1h-1zM162 124h1v1h-1zM156 120h1v1h-1zM171 122h1v1h-1zM157 123h1v1h-1zM165 105h1v1h-1zM167 126h1v1h-1zM169 115h1v1h-1zM168 112h1v1h-1zM155 101h1v1h-1zM167 117h1v1h-1zM157 107h1v1h-1zM155 110h1v1h-1zM159 116h1v1h-1zM162 134h1v1h-1zM157 108h1v1h-1zM158 115h1v1h-1zM161 128h1v1h-1zM156 109h1v1h-1zM167 107h1v1h-1zM156 133h1v1h-1zM163 105h1v1h-1zM155 110h1v1h-1zM153 127h1v1h-1zM156 134h1v1h-1zM162 134h1v1h-1zM162 124h1v1h-1zM157 112h1v1h-1zM157 131h1v1h-1zM160 102h1v1h-1zM158 107h1v1h-1zM168 126h1v1h-1zM163 110h1v1h-1zM154 115h1v1h-1zM163 126h1v1h-1zM171 131h1v1h-1zM155 124h1v1h-1zM167 117h1v1h-1zM164 106h1v1h-1zM163 131h1v1h-1zM161 102h1v1h-1zM162 122h1v1h-1zM161 106h1v1h-1zM161 112h1v1h-1zM154 113h1v1h-1zM164 109h1v1h-1zM163 122h1v1h-1zM160 131h1v1h-1zM160 135h1v1h-1zM155 111h1v1h-1zM160 132h1v1h-1zM155 103h1v1h-1zM156 111h1v1h-1zM168 103h1v1h-1zM159 107h1v1h-1z" fill="#000" fill-opacity="0.22"/>
<path d="M168 121h1v1h-1zM158 96h1v1h-1zM169 109h1v1h-1zM159 99h1v1h-1zM158 112h1v1h-1zM158 122h1v1h-1zM168 123h1v1h-1zM168 129h1v1h-1zM169 133h1v1h-1zM154 102h1v1h-1zM170 97h1v1h-1zM165 115h1v1h-1zM168 118h1v1h-1zM170 96h1v1h-1zM163 114h1v1h-1zM171 126h1v1h-1zM161 116h1v1h-1zM160 97h1v1h-1zM163 115h1v1h-1zM173 109h1v1h-1zM156 133h1v1h-1zM168 113h1v1h-1zM158 135h1v1h-1zM172 126h1v1h-1zM156 96h1v1h-1zM173 127h1v1h-1zM169 96h1v1h-1zM171 110h1v1h-1zM167 121h1v1h-1zM156 102h1v1h-1zM171 132h1v1h-1zM171 110h1v1h-1zM161 114h1v1h-1zM156 126h1v1h-1zM174 106h1v1h-1zM167 115h1v1h-1zM173 103h1v1h-1zM154 104h1v1h-1zM168 134h1v1h-1zM158 108h1v1h-1zM153 104h1v1h-1zM153 105h1v1h-1zM161 126h1v1h-1zM167 118h1v1h-1zM155 131h1v1h-1zM174 114h1v1h-1zM174 106h1v1h-1zM155 134h1v1h-1zM163 128h1v1h-1zM159 106h1v1h-1zM159 122h1v1h-1zM174 105h1v1h-1zM159 124h1v1h-1zM162 119h1v1h-1zM154 109h1v1h-1zM165 102h1v1h-1zM165 130h1v1h-1zM166 96h1v1h-1zM165 107h1v1h-1zM162 122h1v1h-1zM158 110h1v1h-1zM168 110h1v1h-1zM160 109h1v1h-1zM166 112h1v1h-1zM154 134h1v1h-1zM172 129h1v1h-1zM163 129h1v1h-1zM158 111h1v1h-1zM160 102h1v1h-1zM161 134h1v1h-1zM162 106h1v1h-1zM154 129h1v1h-1zM173 102h1v1h-1zM161 95h1v1h-1zM162 134h1v1h-1zM173 104h1v1h-1zM158 128h1v1h-1zM155 124h1v1h-1zM165 133h1v1h-1zM158 102h1v1h-1zM168 113h1v1h-1zM163 106h1v1h-1zM160 134h1v1h-1zM157 114h1v1h-1zM156 126h1v1h-1zM155 101h1v1h-1zM167 103h1v1h-1zM158 100h1v1h-1zM165 133h1v1h-1zM169 116h1v1h-1zM161 129h1v1h-1zM159 102h1v1h-1zM172 105h1v1h-1zM166 105h1v1h-1zM171 127h1v1h-1zM163 110h1v1h-1zM158 105h1v1h-1zM168 127h1v1h-1zM157 94h1v1h-1zM166 114h1v1h-1zM161 118h1v1h-1zM165 117h1v1h-1zM156 113h1v1h-1zM163 129h1v1h-1zM164 103h1v1h-1zM170 106h1v1h-1zM166 135h1v1h-1zM156 135h1v1h-1zM170 123h1v1h-1zM171 116h1v1h-1zM174 104h1v1h-1zM168 99h1v1h-1zM164 103h1v1h-1zM156 126h1v1h-1zM166 116h1v1h-1zM156 103h1v1h-1zM166 130h1v1h-1zM154 133h1v1h-1zM169 133h1v1h-1zM168 112h1v1h-1zM162 124h1v1h-1zM157 99h1v1h-1zM162 117h1v1h-1zM160 97h1v1h-1zM166 120h1v1h-1zM160 134h1v1h-1zM163 120h1v1h-1zM163 120h1v1h-1zM164 122h1v1h-1zM168 113h1v1h-1zM159 133h1v1h-1zM169 123h1v1h-1zM158 102h1v1h-1zM160 120h1v1h-1zM173 101h1v1h-1zM166 106h1v1h-1zM170 108h1v1h-1zM165 134h1v1h-1zM165 127h1v1h-1zM172 134h1v1h-1zM158 128h1v1h-1zM158 120h1v1h-1zM153 127h1v1h-1zM171 114h1v1h-1zM162 122h1v1h-1zM155 123h1v1h-1zM170 104h1v1h-1zM156 135h1v1h-1zM165 108h1v1h-1zM164 106h1v1h-1zM154 116h1v1h-1zM172 132h1v1h-1zM169 109h1v1h-1zM154 105h1v1h-1zM167 106h1v1h-1zM158 132h1v1h-1zM169 100h1v1h-1zM163 116h1v1h-1zM168 132h1v1h-1zM157 123h1v1h-1zM164 135h1v1h-1zM159 102h1v1h-1zM167 130h1v1h-1zM170 105h1v1h-1zM162 116h1v1h-1zM155 130h1v1h-1zM157 113h1v1h-1zM164 111h1v1h-1zM163 128h1v1h-1zM171 125h1v1h-1zM170 117h1v1h-1zM154 112h1v1h-1zM165 95h1v1h-1zM158 117h1v1h-1zM174 133h1v1h-1zM158 128h1v1h-1zM170 115h1v1h-1zM159 130h1v1h-1zM164 116h1v1h-1zM171 127h1v1h-1zM155 123h1v1h-1zM171 135h1v1h-1zM154 123h1v1h-1zM167 130h1v1h-1zM161 129h1v1h-1zM160 104h1v1h-1zM172 112h1v1h-1zM168 99h1v1h-1zM168 108h1v1h-1zM161 128h1v1h-1zM162 98h1v1h-1zM158 105h1v1h-1zM167 114h1v1h-1zM157 135h1v1h-1zM161 125h1v1h-1zM157 107h1v1h-1zM174 110h1v1h-1zM172 98h1v1h-1zM172 108h1v1h-1zM172 99h1v1h-1zM157 123h1v1h-1zM153 120h1v1h-1zM163 108h1v1h-1zM158 125h1v1h-1zM167 99h1v1h-1zM160 108h1v1h-1zM162 110h1v1h-1zM169 116h1v1h-1zM172 108h1v1h-1zM165 114h1v1h-1zM157 98h1v1h-1zM159 101h1v1h-1zM153 112h1v1h-1zM160 124h1v1h-1zM168 113h1v1h-1zM167 96h1v1h-1zM160 101h1v1h-1zM168 115h1v1h-1zM157 114h1v1h-1zM162 102h1v1h-1zM170 128h1v1h-1zM169 106h1v1h-1zM156 133h1v1h-1zM169 123h1v1h-1zM163 127h1v1h-1zM159 104h1v1h-1zM163 96h1v1h-1zM162 113h1v1h-1zM157 110h1v1h-1zM165 110h1v1h-1zM157 125h1v1h-1zM167 124h1v1h-1zM174 131h1v1h-1zM174 101h1v1h-1zM172 129h1v1h-1zM165 112h1v1h-1zM167 114h1v1h-1zM155 125h1v1h-1zM158 127h1v1h-1zM163 134h1v1h-1zM153 110h1v1h-1zM169 111h1v1h-1zM155 128h1v1h-1zM162 107h1v1h-1zM157 134h1v1h-1zM163 123h1v1h-1zM157 133h1v1h-1zM164 127h1v1h-1zM154 135h1v1h-1zM164 123h1v1h-1zM170 115h1v1h-1zM169 131h1v1h-1zM166 98h1v1h-1zM169 110h1v1h-1zM156 124h1v1h-1zM159 132h1v1h-1zM157 109h1v1h-1zM168 121h1v1h-1zM169 116h1v1h-1zM169 113h1v1h-1zM153 130h1v1h-1zM158 108h1v1h-1zM156 127h1v1h-1zM170 134h1v1h-1zM173 129h1v1h-1zM160 113h1v1h-1zM159 108h1v1h-1zM161 108h1v1h-1zM165 108h1v1h-1zM163 107h1v1h-1zM169 125h1v1h-1zM161 120h1v1h-1zM158 107h1v1h-1zM158 113h1v1h-1zM162 113h1v1h-1zM175 111h1v1h-1zM175 114h1v1h-1zM171 120h1v1h-1zM172 117h1v1h-1zM174 130h1v1h-1zM174 110h1v1h-1zM176 113h1v1h-1zM181 122h1v1h-1zM171 98h1v1h-1zM174 117h1v1h-1zM175 106h1v1h-1zM170 128h1v1h-1zM173 119h1v1h-1zM171 118h1v1h-1zM174 121h1v1h-1zM175 100h1v1h-1zM173 132h1v1h-1zM175 97h1v1h-1zM181 111h1v1h-1zM174 115h1v1h-1zM171 109h1v1h-1zM174 110h1v1h-1zM177 115h1v1h-1zM170 104h1v1h-1zM173 127h1v1h-1zM177 106h1v1h-1zM171 128h1v1h-1zM170 124h1v1h-1zM178 124h1v1h-1zM171 102h1v1h-1zM173 108h1v1h-1zM183 98h1v1h-1zM174 119h1v1h-1zM178 101h1v1h-1zM172 128h1v1h-1zM174 108h1v1h-1zM174 126h1v1h-1zM170 109h1v1h-1zM176 121h1v1h-1zM174 104h1v1h-1zM175 113h1v1h-1zM177 102h1v1h-1zM175 124h1v1h-1zM174 101h1v1h-1zM178 122h1v1h-1zM180 119h1v1h-1zM175 124h1v1h-1zM174 132h1v1h-1zM174 122h1v1h-1zM175 118h1v1h-1zM178 121h1v1h-1zM168 106h1v1h-1zM171 124h1v1h-1zM170 116h1v1h-1zM172 129h1v1h-1zM174 114h1v1h-1zM173 114h1v1h-1zM180 102h1v1h-1zM170 118h1v1h-1zM176 112h1v1h-1zM175 117h1v1h-1zM175 113h1v1h-1zM173 126h1v1h-1zM171 108h1v1h-1zM170 120h1v1h-1zM179 115h1v1h-1zM174 120h1v1h-1zM172 121h1v1h-1zM173 112h1v1h-1zM173 116h1v1h-1zM174 103h1v1h-1zM178 99h1v1h-1zM177 125h1v1h-1zM173 128h1v1h-1zM173 109h1v1h-1zM174 123h1v1h-1zM176 101h1v1h-1zM178 109h1v1h-1zM171 120h1v1h-1zM174 103h1v1h-1zM173 120h1v1h-1zM156 114h1v1h-1zM154 119h1v1h-1zM160 99h1v1h-1zM159 126h1v1h-1zM155 108h1v1h-1zM168 128h1v1h-1zM160 107h1v1h-1zM165 102h1v1h-1zM161 123h1v1h-1zM170 113h1v1h-1zM163 110h1v1h-1zM169 112h1v1h-1zM158 105h1v1h-1zM168 113h1v1h-1zM167 117h1v1h-1zM164 130h1v1h-1zM167 115h1v1h-1zM159 129h1v1h-1zM159 111h1v1h-1zM154 123h1v1h-1zM161 124h1v1h-1zM157 134h1v1h-1zM169 131h1v1h-1zM173 103h1v1h-1zM160 120h1v1h-1zM163 119h1v1h-1zM155 104h1v1h-1zM159 120h1v1h-1zM154 132h1v1h-1zM162 105h1v1h-1zM166 115h1v1h-1zM153 105h1v1h-1zM160 107h1v1h-1zM165 127h1v1h-1zM159 122h1v1h-1zM167 114h1v1h-1zM160 126h1v1h-1zM161 130h1v1h-1zM158 109h1v1h-1zM178 108h1v1h-1zM153 115h1v1h-1zM162 101h1v1h-1zM163 118h1v1h-1zM165 121h1v1h-1zM164 103h1v1h-1zM165 104h1v1h-1zM160 103h1v1h-1zM163 106h1v1h-1zM158 123h1v1h-1zM158 106h1v1h-1zM158 115h1v1h-1zM164 117h1v1h-1zM160 121h1v1h-1zM157 118h1v1h-1zM161 107h1v1h-1zM156 133h1v1h-1zM154 129h1v1h-1zM156 121h1v1h-1zM162 102h1v1h-1zM171 116h1v1h-1zM161 119h1v1h-1zM168 130h1v1h-1zM156 116h1v1h-1zM159 123h1v1h-1zM158 105h1v1h-1zM166 104h1v1h-1zM156 115h1v1h-1zM161 105h1v1h-1zM164 135h1v1h-1zM155 127h1v1h-1zM156 108h1v1h-1zM158 126h1v1h-1zM164 122h1v1h-1zM159 96h1v1h-1zM163 113h1v1h-1zM154 109h1v1h-1zM160 134h1v1h-1zM156 133h1v1h-1zM161 130h1v1h-1zM165 114h1v1h-1zM158 111h1v1h-1zM169 120h1v1h-1zM153 126h1v1h-1zM159 121h1v1h-1zM161 135h1v1h-1zM157 118h1v1h-1zM158 101h1v1h-1zM158 131h1v1h-1zM160 129h1v1h-1zM157 126h1v1h-1zM163 109h1v1h-1zM155 130h1v1h-1zM155 133h1v1h-1z" fill="#000" fill-opacity="0.22"/>
<path d="M162 118h1v1h-1zM174 105h1v1h-1zM170 108h1v1h-1zM156 125h1v1h-1zM161 103h1v1h-1zM157 118h1v1h-1zM174 116h1v1h-1zM157 125h1v1h-1zM166 100h1v1h-1zM160 133h1v1h-1zM172 114h1v1h-1zM162 101h1v1h-1zM161 105h1v1h-1zM158 134h1v1h-1zM158 102h1v1h-1zM168 103h1v1h-1zM170 106h1v1h-1zM159 113h1v1h-1zM169 107h1v1h-1zM172 110h1v1h-1zM155 107h1v1h-1zM164 108h1v1h-1zM166 135h1v1h-1zM169 134h1v1h-1zM163 132h1v1h-1zM155 107h1v1h-1zM161 123h1v1h-1zM172 121h1v1h-1zM166 105h1v1h-1zM156 121h1v1h-1zM159 103h1v1h-1zM167 108h1v1h-1zM164 106h1v1h-1zM172 100h1v1h-1zM156 112h1v1h-1zM164 118h1v1h-1zM167 103h1v1h-1zM155 102h1v1h-1zM160 132h1v1h-1zM161 103h1v1h-1zM155 128h1v1h-1zM159 105h1v1h-1zM160 134h1v1h-1zM164 134h1v1h-1zM162 101h1v1h-1zM166 132h1v1h-1zM155 114h1v1h-1zM161 117h1v1h-1zM170 96h1v1h-1zM169 109h1v1h-1zM156 131h1v1h-1zM165 101h1v1h-1zM158 111h1v1h-1zM160 123h1v1h-1zM158 110h1v1h-1zM174 124h1v1h-1zM161 120h1v1h-1zM157 96h1v1h-1zM162 105h1v1h-1zM160 128h1v1h-1zM159 129h1v1h-1zM170 121h1v1h-1zM154 122h1v1h-1zM156 100h1v1h-1zM166 123h1v1h-1zM170 103h1v1h-1zM167 135h1v1h-1zM156 110h1v1h-1zM166 106h1v1h-1zM168 118h1v1h-1zM168 133h1v1h-1zM162 113h1v1h-1zM155 135h1v1h-1zM154 114h1v1h-1zM171 121h1v1h-1zM157 102h1v1h-1zM167 101h1v1h-1zM169 121h1v1h-1zM153 104h1v1h-1zM165 110h1v1h-1zM160 108h1v1h-1zM162 103h1v1h-1zM164 112h1v1h-1zM174 98h1v1h-1zM173 101h1v1h-1zM165 98h1v1h-1zM156 129h1v1h-1zM169 107h1v1h-1zM170 100h1v1h-1zM154 105h1v1h-1zM155 116h1v1h-1zM167 101h1v1h-1zM156 106h1v1h-1zM155 108h1v1h-1zM174 102h1v1h-1zM155 128h1v1h-1zM161 135h1v1h-1zM166 101h1v1h-1zM160 133h1v1h-1zM167 120h1v1h-1zM171 127h1v1h-1zM167 123h1v1h-1zM171 112h1v1h-1zM169 111h1v1h-1zM154 104h1v1h-1zM153 120h1v1h-1zM166 104h1v1h-1zM164 106h1v1h-1zM174 99h1v1h-1zM170 110h1v1h-1zM165 104h1v1h-1zM160 131h1v1h-1zM167 127h1v1h-1zM156 128h1v1h-1zM161 103h1v1h-1zM171 112h1v1h-1zM171 107h1v1h-1zM154 125h1v1h-1zM162 126h1v1h-1zM160 104h1v1h-1zM165 123h1v1h-1zM172 112h1v1h-1zM163 105h1v1h-1zM171 128h1v1h-1zM155 130h1v1h-1zM171 108h1v1h-1zM155 133h1v1h-1zM155 109h1v1h-1zM156 103h1v1h-1zM168 118h1v1h-1zM171 120h1v1h-1zM164 122h1v1h-1zM162 103h1v1h-1zM161 101h1v1h-1zM159 112h1v1h-1zM174 113h1v1h-1zM172 104h1v1h-1zM164 134h1v1h-1zM163 97h1v1h-1zM165 123h1v1h-1zM153 109h1v1h-1zM154 101h1v1h-1zM158 108h1v1h-1zM160 132h1v1h-1zM171 122h1v1h-1zM169 121h1v1h-1zM168 94h1v1h-1zM160 133h1v1h-1zM163 113h1v1h-1zM170 109h1v1h-1zM163 105h1v1h-1zM174 102h1v1h-1zM161 122h1v1h-1zM161 126h1v1h-1zM163 123h1v1h-1zM166 98h1v1h-1zM165 130h1v1h-1zM166 104h1v1h-1zM168 112h1v1h-1zM174 116h1v1h-1zM164 105h1v1h-1zM164 112h1v1h-1zM163 126h1v1h-1zM154 134h1v1h-1zM164 105h1v1h-1zM173 102h1v1h-1zM155 105h1v1h-1zM169 132h1v1h-1zM161 128h1v1h-1zM169 102h1v1h-1zM164 135h1v1h-1zM159 105h1v1h-1zM169 114h1v1h-1zM173 108h1v1h-1zM169 119h1v1h-1zM162 129h1v1h-1zM159 112h1v1h-1zM167 114h1v1h-1zM163 108h1v1h-1zM169 105h1v1h-1zM173 108h1v1h-1zM170 135h1v1h-1zM162 115h1v1h-1zM173 107h1v1h-1zM158 129h1v1h-1zM159 105h1v1h-1zM156 122h1v1h-1zM170 102h1v1h-1zM172 96h1v1h-1zM174 129h1v1h-1zM164 135h1v1h-1zM171 110h1v1h-1zM170 131h1v1h-1zM161 106h1v1h-1zM172 125h1v1h-1zM169 114h1v1h-1zM173 100h1v1h-1zM169 100h1v1h-1zM166 118h1v1h-1zM158 116h1v1h-1zM173 119h1v1h-1zM161 111h1v1h-1zM164 114h1v1h-1zM168 121h1v1h-1zM162 114h1v1h-1zM172 96h1v1h-1zM163 95h1v1h-1zM154 128h1v1h-1zM174 126h1v1h-1zM155 119h1v1h-1zM153 102h1v1h-1zM161 109h1v1h-1zM173 121h1v1h-1zM170 131h1v1h-1zM169 98h1v1h-1zM174 127h1v1h-1zM160 110h1v1h-1zM170 134h1v1h-1zM174 130h1v1h-1zM172 131h1v1h-1zM171 124h1v1h-1zM166 102h1v1h-1zM165 99h1v1h-1zM174 125h1v1h-1zM158 113h1v1h-1zM158 124h1v1h-1zM173 102h1v1h-1zM159 116h1v1h-1zM163 110h1v1h-1zM157 130h1v1h-1zM168 129h1v1h-1zM163 110h1v1h-1zM171 121h1v1h-1zM155 106h1v1h-1zM172 119h1v1h-1zM159 122h1v1h-1zM160 116h1v1h-1zM162 130h1v1h-1zM160 107h1v1h-1zM170 113h1v1h-1zM153 104h1v1h-1zM164 107h1v1h-1zM155 112h1v1h-1zM160 98h1v1h-1zM169 115h1v1h-1zM165 105h1v1h-1zM162 118h1v1h-1zM167 107h1v1h-1zM159 130h1v1h-1zM154 132h1v1h-1zM167 108h1v1h-1zM169 104h1v1h-1zM163 101h1v1h-1zM159 107h1v1h-1zM161 103h1v1h-1zM162 118h1v1h-1zM155 127h1v1h-1zM156 97h1v1h-1zM172 102h1v1h-1zM161 101h1v1h-1zM154 118h1v1h-1zM164 126h1v1h-1zM166 133h1v1h-1zM162 122h1v1h-1zM173 117h1v1h-1zM171 98h1v1h-1zM172 111h1v1h-1zM159 125h1v1h-1zM174 122h1v1h-1zM164 120h1v1h-1zM154 129h1v1h-1zM169 102h1v1h-1zM173 103h1v1h-1zM171 132h1v1h-1zM170 124h1v1h-1zM174 113h1v1h-1zM174 128h1v1h-1zM177 98h1v1h-1zM174 100h1v1h-1zM173 113h1v1h-1zM175 113h1v1h-1zM171 123h1v1h-1zM176 109h1v1h-1zM178 119h1v1h-1zM173 116h1v1h-1zM174 119h1v1h-1zM172 123h1v1h-1zM176 99h1v1h-1zM175 114h1v1h-1zM175 113h1v1h-1zM174 113h1v1h-1zM176 118h1v1h-1zM173 130h1v1h-1zM176 100h1v1h-1zM173 124h1v1h-1zM171 121h1v1h-1zM170 106h1v1h-1zM172 108h1v1h-1zM176 117h1v1h-1zM175 128h1v1h-1zM175 111h1v1h-1zM175 112h1v1h-1zM173 111h1v1h-1zM171 133h1v1h-1zM170 133h1v1h-1zM172 115h1v1h-1zM175 115h1v1h-1zM178 122h1v1h-1zM175 111h1v1h-1zM175 116h1v1h-1zM175 130h1v1h-1zM172 123h1v1h-1zM173 113h1v1h-1zM173 110h1v1h-1zM173 126h1v1h-1zM173 128h1v1h-1zM176 130h1v1h-1zM176 128h1v1h-1zM173 105h1v1h-1zM173 130h1v1h-1zM180 102h1v1h-1zM179 104h1v1h-1zM173 113h1v1h-1zM176 127h1v1h-1zM177 103h1v1h-1zM175 116h1v1h-1zM171 129h1v1h-1zM170 103h1v1h-1zM175 114h1v1h-1zM171 127h1v1h-1zM175 127h1v1h-1zM177 123h1v1h-1zM174 118h1v1h-1zM173 118h1v1h-1zM178 102h1v1h-1zM175 121h1v1h-1zM174 126h1v1h-1zM172 102h1v1h-1zM179 114h1v1h-1zM180 113h1v1h-1zM171 105h1v1h-1zM172 132h1v1h-1zM173 117h1v1h-1zM172 123h1v1h-1zM175 113h1v1h-1zM172 116h1v1h-1zM179 107h1v1h-1zM174 117h1v1h-1zM178 111h1v1h-1zM175 120h1v1h-1zM171 122h1v1h-1zM180 124h1v1h-1zM178 97h1v1h-1zM173 108h1v1h-1zM174 114h1v1h-1zM172 107h1v1h-1zM156 108h1v1h-1zM161 102h1v1h-1zM165 130h1v1h-1zM164 122h1v1h-1zM168 115h1v1h-1zM157 122h1v1h-1zM156 114h1v1h-1zM158 126h1v1h-1zM165 102h1v1h-1zM157 111h1v1h-1zM154 115h1v1h-1zM167 123h1v1h-1zM162 132h1v1h-1zM162 110h1v1h-1zM166 118h1v1h-1zM159 130h1v1h-1zM168 118h1v1h-1zM160 118h1v1h-1zM162 110h1v1h-1zM159 125h1v1h-1zM162 101h1v1h-1zM159 111h1v1h-1zM161 105h1v1h-1zM160 123h1v1h-1zM160 121h1v1h-1zM164 116h1v1h-1zM156 122h1v1h-1zM168 130h1v1h-1zM162 108h1v1h-1zM172 120h1v1h-1zM167 97h1v1h-1zM156 111h1v1h-1zM166 116h1v1h-1zM161 125h1v1h-1zM161 106h1v1h-1zM155 108h1v1h-1zM163 108h1v1h-1zM167 101h1v1h-1zM158 101h1v1h-1zM167 108h1v1h-1zM167 116h1v1h-1zM166 114h1v1h-1zM160 121h1v1h-1zM159 109h1v1h-1zM158 131h1v1h-1zM158 115h1v1h-1zM161 102h1v1h-1zM170 118h1v1h-1zM158 102h1v1h-1zM160 119h1v1h-1zM160 107h1v1h-1zM154 110h1v1h-1zM153 131h1v1h-1zM163 117h1v1h-1zM164 132h1v1h-1zM159 135h1v1h-1zM161 114h1v1h-1zM157 106h1v1h-1zM165 122h1v1h-1zM155 131h1v1h-1zM154 126h1v1h-1zM159 131h1v1h-1zM163 107h1v1h-1zM154 108h1v1h-1zM161 104h1v1h-1zM166 104h1v1h-1zM161 115h1v1h-1zM158 123h1v1h-1zM160 111h1v1h-1zM156 121h1v1h-1zM159 111h1v1h-1zM155 126h1v1h-1zM164 129h1v1h-1zM156 110h1v1h-1zM162 113h1v1h-1zM166 102h1v1h-1zM156 122h1v1h-1zM154 109h1v1h-1zM156 113h1v1h-1zM156 105h1v1h-1zM164 114h1v1h-1zM159 122h1v1h-1zM157 101h1v1h-1zM161 131h1v1h-1zM156 114h1v1h-1zM154 122h1v1h-1zM154 121h1v1h-1zM153 114h1v1h-1zM155 103h1v1h-1zM170 104h1v1h-1zM166 112h1v1h-1zM154 104h1v1h-1zM160 129h1v1h-1z" fill="#000" fill-opacity="0.22"/>
<path d="M168 99h1v1h-1zM156 135h1v1h-1zM173 114h1v1h-1zM174 121h1v1h-1zM156 133h1v1h-1zM163 134h1v1h-1zM158 121h1v1h-1zM173 104h1v1h-1zM158 124h1v1h-1zM160 103h1v1h-1zM173 109h1v1h-1zM171 113h1v1h-1zM160 120h1v1h-1zM173 132h1v1h-1zM169 135h1v1h-1zM162 133h1v1h-1zM162 117h1v1h-1zM173 111h1v1h-1zM162 99h1v1h-1zM154 110h1v1h-1zM155 134h1v1h-1zM162 108h1v1h-1zM160 123h1v1h-1zM157 115h1v1h-1zM170 129h1v1h-1zM174 103h1v1h-1zM164 93h1v1h-1zM168 109h1v1h-1zM153 107h1v1h-1zM169 128h1v1h-1zM159 129h1v1h-1zM160 112h1v1h-1zM172 107h1v1h-1zM156 98h1v1h-1zM168 107h1v1h-1zM159 128h1v1h-1zM153 128h1v1h-1zM154 111h1v1h-1zM159 98h1v1h-1zM174 103h1v1h-1zM162 118h1v1h-1zM156 123h1v1h-1zM159 101h1v1h-1zM165 110h1v1h-1zM158 106h1v1h-1zM158 104h1v1h-1zM154 131h1v1h-1zM165 110h1v1h-1zM163 127h1v1h-1zM155 102h1v1h-1zM163 117h1v1h-1zM156 104h1v1h-1zM168 105h1v1h-1zM167 121h1v1h-1zM155 104h1v1h-1zM164 125h1v1h-1zM168 123h1v1h-1zM159 133h1v1h-1zM159 124h1v1h-1zM154 105h1v1h-1zM171 133h1v1h-1zM159 102h1v1h-1zM172 109h1v1h-1zM157 128h1v1h-1zM165 126h1v1h-1zM168 121h1v1h-1zM158 109h1v1h-1zM159 122h1v1h-1zM170 109h1v1h-1zM168 124h1v1h-1zM172 119h1v1h-1zM166 122h1v1h-1zM153 134h1v1h-1zM153 128h1v1h-1zM155 128h1v1h-1zM156 103h1v1h-1zM156 102h1v1h-1zM161 116h1v1h-1zM165 125h1v1h-1zM165 131h1v1h-1zM173 101h1v1h-1zM173 102h1v1h-1zM159 109h1v1h-1zM159 126h1v1h-1zM154 117h1v1h-1zM157 117h1v1h-1zM169 99h1v1h-1zM153 111h1v1h-1zM172 126h1v1h-1zM160 120h1v1h-1zM162 109h1v1h-1zM169 99h1v1h-1zM170 109h1v1h-1zM154 116h1v1h-1zM167 103h1v1h-1zM161 112h1v1h-1zM157 124h1v1h-1zM162 102h1v1h-1zM172 108h1v1h-1zM163 108h1v1h-1zM164 118h1v1h-1zM156 106h1v1h-1zM173 96h1v1h-1zM168 129h1v1h-1zM161 133h1v1h-1zM162 104h1v1h-1zM159 109h1v1h-1zM173 116h1v1h-1zM153 127h1v1h-1zM156 105h1v1h-1zM157 134h1v1h-1zM165 120h1v1h-1zM171 129h1v1h-1zM168 110h1v1h-1zM155 112h1v1h-1zM168 103h1v1h-1zM159 127h1v1h-1zM153 95h1v1h-1zM167 135h1v1h-1zM165 132h1v1h-1zM170 131h1v1h-1zM163 119h1v1h-1zM160 98h1v1h-1zM174 104h1v1h-1zM155 131h1v1h-1zM167 107h1v1h-1zM166 120h1v1h-1zM155 114h1v1h-1zM172 96h1v1h-1zM174 127h1v1h-1zM160 135h1v1h-1zM172 99h1v1h-1zM165 133h1v1h-1zM161 124h1v1h-1zM158 99h1v1h-1zM173 120h1v1h-1zM164 132h1v1h-1zM170 112h1v1h-1zM162 96h1v1h-1zM172 120h1v1h-1zM165 134h1v1h-1zM153 116h1v1h-1zM173 119h1v1h-1zM174 119h1v1h-1zM160 125h1v1h-1zM158 100h1v1h-1zM170 108h1v1h-1zM168 105h1v1h-1zM164 117h1v1h-1zM159 111h1v1h-1zM171 103h1v1h-1zM162 108h1v1h-1zM164 125h1v1h-1zM155 110h1v1h-1zM157 109h1v1h-1zM170 116h1v1h-1zM170 108h1v1h-1zM173 107h1v1h-1zM160 108h1v1h-1zM155 118h1v1h-1zM161 134h1v1h-1zM161 98h1v1h-1zM156 114h1v1h-1zM154 103h1v1h-1zM153 97h1v1h-1zM173 124h1v1h-1zM167 109h1v1h-1zM158 133h1v1h-1zM168 102h1v1h-1zM171 123h1v1h-1zM154 130h1v1h-1zM168 108h1v1h-1zM161 114h1v1h-1zM165 122h1v1h-1zM172 95h1v1h-1zM171 131h1v1h-1zM172 118h1v1h-1zM158 120h1v1h-1zM170 122h1v1h-1zM170 125h1v1h-1zM157 104h1v1h-1zM160 110h1v1h-1zM160 116h1v1h-1zM173 121h1v1h-1zM166 118h1v1h-1zM155 102h1v1h-1zM154 127h1v1h-1zM160 117h1v1h-1zM168 106h1v1h-1zM171 134h1v1h-1zM156 132h1v1h-1zM169 117h1v1h-1zM171 130h1v1h-1zM173 102h1v1h-1zM157 112h1v1h-1zM166 125h1v1h-1zM169 128h1v1h-1zM153 110h1v1h-1zM153 126h1v1h-1zM155 108h1v1h-1zM154 121h1v1h-1zM158 98h1v1h-1zM162 127h1v1h-1zM158 130h1v1h-1zM167 126h1v1h-1zM173 110h1v1h-1zM166 114h1v1h-1zM169 130h1v1h-1zM154 124h1v1h-1zM161 101h1v1h-1zM162 104h1v1h-1zM161 119h1v1h-1zM167 124h1v1h-1zM157 120h1v1h-1zM162 124h1v1h-1zM157 97h1v1h-1zM157 117h1v1h-1zM167 103h1v1h-1zM156 116h1v1h-1zM172 130h1v1h-1zM155 128h1v1h-1zM156 103h1v1h-1zM162 99h1v1h-1zM166 114h1v1h-1zM170 97h1v1h-1zM169 107h1v1h-1zM168 101h1v1h-1zM164 101h1v1h-1zM166 128h1v1h-1zM165 134h1v1h-1zM155 110h1v1h-1zM174 132h1v1h-1zM157 132h1v1h-1zM161 109h1v1h-1zM167 96h1v1h-1zM155 135h1v1h-1zM172 123h1v1h-1zM166 108h1v1h-1zM160 102h1v1h-1zM165 111h1v1h-1zM163 103h1v1h-1zM164 126h1v1h-1zM156 126h1v1h-1zM153 130h1v1h-1zM160 105h1v1h-1zM171 104h1v1h-1zM154 106h1v1h-1zM154 120h1v1h-1zM157 103h1v1h-1zM170 135h1v1h-1zM167 111h1v1h-1zM155 130h1v1h-1zM169 127h1v1h-1zM170 127h1v1h-1zM162 128h1v1h-1zM155 135h1v1h-1zM167 106h1v1h-1zM163 123h1v1h-1zM163 122h1v1h-1zM170 109h1v1h-1zM173 115h1v1h-1zM164 130h1v1h-1zM164 107h1v1h-1zM155 108h1v1h-1zM153 96h1v1h-1zM171 113h1v1h-1zM169 134h1v1h-1zM159 95h1v1h-1zM165 106h1v1h-1zM159 118h1v1h-1zM157 105h1v1h-1zM157 121h1v1h-1zM171 100h1v1h-1zM165 129h1v1h-1zM169 101h1v1h-1zM169 114h1v1h-1zM171 127h1v1h-1zM171 110h1v1h-1zM172 100h1v1h-1zM170 113h1v1h-1zM172 98h1v1h-1zM174 105h1v1h-1zM176 118h1v1h-1zM178 113h1v1h-1zM169 123h1v1h-1zM179 123h1v1h-1zM173 100h1v1h-1zM181 102h1v1h-1zM172 114h1v1h-1zM173 110h1v1h-1zM177 111h1v1h-1zM175 102h1v1h-1zM174 114h1v1h-1zM177 125h1v1h-1zM174 108h1v1h-1zM174 127h1v1h-1zM173 107h1v1h-1zM178 100h1v1h-1zM175 125h1v1h-1zM177 105h1v1h-1zM173 108h1v1h-1zM171 127h1v1h-1zM177 107h1v1h-1zM174 121h1v1h-1zM176 106h1v1h-1zM178 101h1v1h-1zM171 116h1v1h-1zM179 112h1v1h-1zM176 103h1v1h-1zM175 126h1v1h-1zM172 123h1v1h-1zM178 109h1v1h-1zM174 122h1v1h-1zM175 127h1v1h-1zM170 109h1v1h-1zM179 107h1v1h-1zM173 128h1v1h-1zM178 121h1v1h-1zM176 114h1v1h-1zM177 112h1v1h-1zM173 116h1v1h-1zM176 113h1v1h-1zM176 98h1v1h-1zM174 117h1v1h-1zM176 119h1v1h-1zM180 100h1v1h-1zM174 105h1v1h-1zM175 128h1v1h-1zM178 123h1v1h-1zM169 115h1v1h-1zM174 116h1v1h-1zM173 133h1v1h-1zM175 123h1v1h-1zM168 102h1v1h-1zM177 114h1v1h-1zM174 127h1v1h-1zM178 111h1v1h-1zM169 128h1v1h-1zM173 120h1v1h-1zM172 114h1v1h-1zM174 117h1v1h-1zM177 120h1v1h-1zM175 122h1v1h-1zM177 102h1v1h-1zM172 108h1v1h-1zM172 103h1v1h-1zM176 101h1v1h-1zM175 125h1v1h-1zM172 102h1v1h-1zM174 117h1v1h-1zM178 107h1v1h-1zM172 116h1v1h-1zM175 101h1v1h-1zM171 110h1v1h-1zM171 124h1v1h-1zM176 123h1v1h-1zM154 135h1v1h-1zM160 101h1v1h-1zM165 111h1v1h-1zM165 123h1v1h-1zM163 105h1v1h-1zM163 119h1v1h-1zM169 106h1v1h-1zM168 110h1v1h-1zM158 129h1v1h-1zM160 116h1v1h-1zM155 119h1v1h-1zM157 129h1v1h-1zM162 103h1v1h-1zM157 134h1v1h-1zM154 116h1v1h-1zM154 114h1v1h-1zM164 101h1v1h-1zM168 117h1v1h-1zM164 113h1v1h-1zM162 131h1v1h-1zM162 121h1v1h-1zM167 111h1v1h-1zM160 129h1v1h-1zM160 104h1v1h-1zM159 131h1v1h-1zM164 135h1v1h-1zM160 108h1v1h-1zM167 110h1v1h-1zM167 132h1v1h-1zM166 102h1v1h-1zM156 108h1v1h-1zM154 103h1v1h-1zM171 134h1v1h-1zM173 103h1v1h-1zM166 135h1v1h-1zM168 118h1v1h-1zM174 126h1v1h-1zM156 102h1v1h-1zM156 125h1v1h-1zM154 115h1v1h-1zM155 117h1v1h-1zM158 117h1v1h-1zM161 109h1v1h-1zM160 106h1v1h-1zM167 133h1v1h-1zM163 135h1v1h-1zM157 119h1v1h-1zM160 112h1v1h-1zM165 125h1v1h-1zM162 109h1v1h-1zM157 106h1v1h-1zM172 126h1v1h-1zM154 122h1v1h-1zM167 102h1v1h-1zM166 103h1v1h-1zM162 101h1v1h-1zM157 127h1v1h-1zM162 97h1v1h-1zM169 118h1v1h-1zM159 98h1v1h-1zM157 110h1v1h-1zM155 115h1v1h-1zM158 114h1v1h-1zM162 130h1v1h-1zM155 130h1v1h-1zM167 123h1v1h-1zM166 121h1v1h-1zM164 128h1v1h-1zM153 110h1v1h-1zM169 101h1v1h-1zM158 130h1v1h-1zM160 119h1v1h-1zM159 120h1v1h-1zM156 132h1v1h-1zM163 121h1v1h-1zM163 135h1v1h-1zM158 120h1v1h-1zM158 101h1v1h-1zM163 105h1v1h-1zM162 107h1v1h-1zM158 110h1v1h-1zM162 120h1v1h-1zM163 130h1v1h-1zM164 109h1v1h-1zM156 110h1v1h-1zM167 103h1v1h-1zM160 120h1v1h-1zM161 107h1v1h-1zM155 129h1v1h-1zM155 114h1v1h-1zM160 114h1v1h-1zM160 122h1v1h-1zM165 135h1v1h-1z" fill="#000" fill-opacity="0.22"/>
<path d="M184 100h1v1h-1zM173 100h1v1h-1zM210 99h1v1h-1zM169 102h1v1h-1zM169 96h1v1h-1zM184 95h1v1h-1zM174 96h1v1h-1zM193 105h1v1h-1zM178 95h1v1h-1zM178 99h1v1h-1zM176 99h1v1h-1zM168 100h1v1h-1zM191 96h1v1h-1zM191 95h1v1h-1zM169 99h1v1h-1zM187 101h1v1h-1zM175 94h1v1h-1zM191 102h1v1h-1zM211 102h1v1h-1zM181 102h1v1h-1zM169 100h1v1h-1zM182 103h1v1h-1zM171 103h1v1h-1zM177 98h1v1h-1zM210 100h1v1h-1zM204 100h1v1h-1zM170 99h1v1h-1zM169 95h1v1h-1zM189 103h1v1h-1zM191 102h1v1h-1zM198 105h1v1h-1zM184 98h1v1h-1zM188 96h1v1h-1zM169 104h1v1h-1zM184 98h1v1h-1zM168 97h1v1h-1zM176 97h1v1h-1zM190 100h1v1h-1zM185 107h1v1h-1zM177 98h1v1h-1zM176 100h1v1h-1zM188 102h1v1h-1zM208 102h1v1h-1zM198 104h1v1h-1zM170 102h1v1h-1zM181 102h1v1h-1zM172 97h1v1h-1zM179 104h1v1h-1zM210 101h1v1h-1zM189 100h1v1h-1zM194 100h1v1h-1zM210 101h1v1h-1zM172 98h1v1h-1zM168 96h1v1h-1zM170 97h1v1h-1zM182 95h1v1h-1zM170 99h1v1h-1zM181 96h1v1h-1zM181 104h1v1h-1zM171 100h1v1h-1zM170 95h1v1h-1zM203 95h1v1h-1zM172 105h1v1h-1z" fill="#111" fill-opacity="0.25"/>
<path d="M208 102h1v1h-1zM177 99h1v1h-1zM187 99h1v1h-1zM183 101h1v1h-1zM172 99h1v1h-1zM189 101h1v1h-1zM199 98h1v1h-1zM171 103h1v1h-1zM172 97h1v1h-1zM194 102h1v1h-1zM171 103h1v1h-1zM208 97h1v1h-1zM180 96h1v1h-1zM169 100h1v1h-1zM170 97h1v1h-1zM171 104h1v1h-1zM195 99h1v1h-1zM171 102h1v1h-1zM172 96h1v1h-1zM174 101h1v1h-1zM177 101h1v1h-1zM168 103h1v1h-1zM177 98h1v1h-1zM187 96h1v1h-1zM176 101h1v1h-1zM181 101h1v1h-1zM181 98h1v1h-1zM170 101h1v1h-1zM171 96h1v1h-1zM193 102h1v1h-1zM201 103h1v1h-1zM175 103h1v1h-1zM208 99h1v1h-1zM171 103h1v1h-1zM170 99h1v1h-1zM182 102h1v1h-1zM202 102h1v1h-1zM170 98h1v1h-1zM187 97h1v1h-1zM184 105h1v1h-1zM178 95h1v1h-1zM172 96h1v1h-1zM194 100h1v1h-1zM172 97h1v1h-1zM175 99h1v1h-1zM181 96h1v1h-1zM206 102h1v1h-1zM174 100h1v1h-1zM173 101h1v1h-1zM185 93h1v1h-1zM172 98h1v1h-1zM172 102h1v1h-1zM172 104h1v1h-1zM170 100h1v1h-1zM175 92h1v1h-1zM203 103h1v1h-1zM203 95h1v1h-1zM175 98h1v1h-1zM179 97h1v1h-1zM176 103h1v1h-1zM209 99h1v1h-1zM180 96h1v1h-1zM168 103h1v1h-1z" fill="#111" fill-opacity="0.25"/>
<path d="M174 102h1v1h-1zM207 99h1v1h-1zM192 97h1v1h-1zM176 100h1v1h-1zM188 102h1v1h-1zM181 100h1v1h-1zM178 96h1v1h-1zM197 98h1v1h-1zM171 102h1v1h-1zM172 96h1v1h-1zM169 107h1v1h-1zM171 102h1v1h-1zM174 99h1v1h-1zM188 100h1v1h-1zM172 95h1v1h-1zM194 95h1v1h-1zM171 101h1v1h-1zM183 101h1v1h-1zM197 98h1v1h-1zM207 99h1v1h-1zM185 99h1v1h-1zM197 100h1v1h-1zM206 103h1v1h-1zM181 100h1v1h-1zM170 99h1v1h-1zM179 100h1v1h-1zM168 100h1v1h-1zM170 99h1v1h-1zM174 97h1v1h-1zM169 103h1v1h-1zM192 97h1v1h-1zM181 100h1v1h-1zM168 102h1v1h-1zM189 101h1v1h-1zM170 95h1v1h-1zM177 95h1v1h-1zM173 99h1v1h-1zM171 98h1v1h-1zM172 96h1v1h-1zM190 103h1v1h-1zM178 96h1v1h-1zM191 101h1v1h-1zM178 97h1v1h-1zM184 102h1v1h-1zM187 95h1v1h-1zM171 100h1v1h-1zM184 105h1v1h-1zM170 103h1v1h-1zM198 105h1v1h-1zM171 100h1v1h-1zM181 101h1v1h-1zM199 98h1v1h-1zM181 98h1v1h-1zM176 100h1v1h-1zM169 98h1v1h-1zM174 101h1v1h-1zM169 103h1v1h-1zM171 104h1v1h-1zM186 98h1v1h-1zM185 101h1v1h-1zM171 99h1v1h-1zM183 95h1v1h-1z" fill="#111" fill-opacity="0.25"/>
<path d="M170 100h1v1h-1zM186 97h1v1h-1zM183 97h1v1h-1zM179 97h1v1h-1zM175 99h1v1h-1zM175 97h1v1h-1zM168 103h1v1h-1zM170 104h1v1h-1zM179 99h1v1h-1zM168 97h1v1h-1zM187 99h1v1h-1zM180 99h1v1h-1zM198 96h1v1h-1zM186 95h1v1h-1zM174 100h1v1h-1zM204 104h1v1h-1zM171 100h1v1h-1zM205 103h1v1h-1zM168 99h1v1h-1zM178 103h1v1h-1zM179 97h1v1h-1zM172 96h1v1h-1zM173 98h1v1h-1zM174 98h1v1h-1zM168 108h1v1h-1zM194 102h1v1h-1zM169 94h1v1h-1zM192 103h1v1h-1zM184 100h1v1h-1zM188 109h1v1h-1zM175 103h1v1h-1zM202 100h1v1h-1zM172 99h1v1h-1zM168 104h1v1h-1zM179 98h1v1h-1zM175 100h1v1h-1zM176 101h1v1h-1zM183 100h1v1h-1zM185 96h1v1h-1zM169 96h1v1h-1zM194 103h1v1h-1zM171 96h1v1h-1zM177 102h1v1h-1zM211 100h1v1h-1zM179 104h1v1h-1zM207 99h1v1h-1zM201 99h1v1h-1zM208 100h1v1h-1zM208 99h1v1h-1zM174 102h1v1h-1zM168 101h1v1h-1zM177 99h1v1h-1zM181 98h1v1h-1zM177 104h1v1h-1zM177 103h1v1h-1zM168 100h1v1h-1zM186 99h1v1h-1zM198 100h1v1h-1zM169 103h1v1h-1zM190 98h1v1h-1zM172 101h1v1h-1zM185 97h1v1h-1z" fill="#111" fill-opacity="0.25"/>
<path d="M206 97h1v1h-1zM170 108h1v1h-1zM168 100h1v1h-1zM168 100h1v1h-1zM173 99h1v1h-1zM208 100h1v1h-1zM182 98h1v1h-1zM205 99h1v1h-1zM171 97h1v1h-1zM178 100h1v1h-1zM177 103h1v1h-1zM185 100h1v1h-1zM205 101h1v1h-1zM180 94h1v1h-1zM171 97h1v1h-1zM188 101h1v1h-1zM179 95h1v1h-1zM183 98h1v1h-1zM196 99h1v1h-1zM202 98h1v1h-1zM190 99h1v1h-1zM169 105h1v1h-1zM174 98h1v1h-1zM190 97h1v1h-1zM211 101h1v1h-1zM174 94h1v1h-1zM179 95h1v1h-1zM187 98h1v1h-1zM174 102h1v1h-1zM180 103h1v1h-1zM186 104h1v1h-1zM169 100h1v1h-1zM193 102h1v1h-1zM172 102h1v1h-1zM189 103h1v1h-1zM169 101h1v1h-1zM182 102h1v1h-1zM170 97h1v1h-1zM203 99h1v1h-1zM184 100h1v1h-1zM168 98h1v1h-1zM177 96h1v1h-1zM190 100h1v1h-1zM175 98h1v1h-1zM171 99h1v1h-1zM173 104h1v1h-1zM168 96h1v1h-1zM173 99h1v1h-1zM184 96h1v1h-1zM170 100h1v1h-1zM172 97h1v1h-1zM195 101h1v1h-1zM180 97h1v1h-1zM175 96h1v1h-1zM170 97h1v1h-1zM185 101h1v1h-1zM170 104h1v1h-1zM172 103h1v1h-1zM175 101h1v1h-1zM185 98h1v1h-1zM170 96h1v1h-1zM194 105h1v1h-1z" fill="#111" fill-opacity="0.25"/>
<path d="M201 97h1v1h-1zM191 98h1v1h-1zM184 98h1v1h-1zM196 100h1v1h-1zM204 96h1v1h-1zM179 98h1v1h-1zM197 100h1v1h-1zM179 95h1v1h-1zM192 101h1v1h-1zM195 96h1v1h-1zM195 104h1v1h-1zM180 104h1v1h-1zM190 104h1v1h-1zM195 101h1v1h-1zM182 100h1v1h-1zM175 107h1v1h-1zM168 103h1v1h-1zM175 99h1v1h-1zM169 101h1v1h-1zM183 101h1v1h-1zM197 106h1v1h-1zM171 93h1v1h-1zM171 104h1v1h-1zM168 99h1v1h-1zM194 104h1v1h-1zM176 99h1v1h-1zM170 98h1v1h-1zM181 104h1v1h-1zM195 99h1v1h-1zM203 97h1v1h-1zM194 97h1v1h-1zM176 101h1v1h-1zM184 98h1v1h-1zM187 101h1v1h-1zM181 99h1v1h-1zM182 99h1v1h-1zM195 100h1v1h-1zM171 102h1v1h-1zM176 102h1v1h-1zM179 101h1v1h-1zM183 98h1v1h-1zM171 101h1v1h-1zM183 108h1v1h-1zM169 104h1v1h-1zM170 101h1v1h-1zM178 101h1v1h-1zM182 102h1v1h-1zM203 101h1v1h-1zM183 103h1v1h-1zM178 99h1v1h-1zM172 98h1v1h-1zM169 99h1v1h-1zM188 101h1v1h-1zM168 98h1v1h-1zM168 101h1v1h-1zM168 105h1v1h-1zM188 102h1v1h-1zM179 104h1v1h-1zM177 98h1v1h-1zM205 100h1v1h-1zM175 97h1v1h-1zM189 103h1v1h-1z" fill="#111" fill-opacity="0.25"/>
<path d="M187 98h1v1h-1zM193 97h1v1h-1zM188 102h1v1h-1zM210 95h1v1h-1zM203 102h1v1h-1zM177 99h1v1h-1zM194 96h1v1h-1zM175 101h1v1h-1zM179 108h1v1h-1zM173 101h1v1h-1zM211 101h1v1h-1zM180 102h1v1h-1zM189 101h1v1h-1zM172 102h1v1h-1zM184 103h1v1h-1zM186 98h1v1h-1zM173 101h1v1h-1zM168 107h1v1h-1zM191 94h1v1h-1zM205 98h1v1h-1zM188 102h1v1h-1zM168 103h1v1h-1zM192 93h1v1h-1zM196 99h1v1h-1zM174 104h1v1h-1zM177 101h1v1h-1zM182 102h1v1h-1zM184 93h1v1h-1zM175 99h1v1h-1zM171 104h1v1h-1zM172 101h1v1h-1zM174 103h1v1h-1zM172 102h1v1h-1zM168 100h1v1h-1zM184 100h1v1h-1zM174 102h1v1h-1zM185 100h1v1h-1zM171 98h1v1h-1zM196 103h1v1h-1zM199 100h1v1h-1zM176 96h1v1h-1zM188 103h1v1h-1zM202 96h1v1h-1zM205 98h1v1h-1zM173 100h1v1h-1zM168 101h1v1h-1zM184 103h1v1h-1zM172 100h1v1h-1zM187 102h1v1h-1zM189 106h1v1h-1zM168 99h1v1h-1zM169 101h1v1h-1zM182 105h1v1h-1zM174 103h1v1h-1zM173 99h1v1h-1zM211 99h1v1h-1zM172 104h1v1h-1zM169 97h1v1h-1zM188 102h1v1h-1zM176 96h1v1h-1zM189 102h1v1h-1zM168 100h1v1h-1z" fill="#111" fill-opacity="0.25"/>
<path d="M200 103h1v1h-1zM185 98h1v1h-1zM178 107h1v1h-1zM170 101h1v1h-1zM182 99h1v1h-1zM169 101h1v1h-1zM211 102h1v1h-1zM191 101h1v1h-1zM177 97h1v1h-1zM172 99h1v1h-1zM188 102h1v1h-1zM198 97h1v1h-1zM177 100h1v1h-1zM178 97h1v1h-1zM205 106h1v1h-1zM180 102h1v1h-1zM181 98h1v1h-1zM184 100h1v1h-1zM169 104h1v1h-1zM170 97h1v1h-1zM188 95h1v1h-1zM204 103h1v1h-1zM179 95h1v1h-1zM174 100h1v1h-1zM180 100h1v1h-1zM187 97h1v1h-1zM168 96h1v1h-1zM182 99h1v1h-1zM176 100h1v1h-1zM192 96h1v1h-1zM195 103h1v1h-1zM180 101h1v1h-1zM182 98h1v1h-1zM186 101h1v1h-1zM177 101h1v1h-1zM191 103h1v1h-1zM196 101h1v1h-1zM171 103h1v1h-1zM207 103h1v1h-1zM170 105h1v1h-1zM203 100h1v1h-1zM179 106h1v1h-1zM185 104h1v1h-1zM170 98h1v1h-1zM188 101h1v1h-1zM202 102h1v1h-1zM206 97h1v1h-1zM173 102h1v1h-1zM190 101h1v1h-1zM182 103h1v1h-1zM170 95h1v1h-1zM170 103h1v1h-1zM177 103h1v1h-1zM180 98h1v1h-1zM172 101h1v1h-1zM170 104h1v1h-1zM179 100h1v1h-1zM193 98h1v1h-1zM175 95h1v1h-1zM172 97h1v1h-1zM175 98h1v1h-1zM176 97h1v1h-1z" fill="#111" fill-opacity="0.25"/>
<path d="M172 100h1v1h-1zM174 102h1v1h-1zM181 99h1v1h-1zM172 106h1v1h-1zM201 102h1v1h-1zM188 97h1v1h-1zM180 100h1v1h-1zM185 98h1v1h-1zM197 98h1v1h-1zM181 101h1v1h-1zM183 103h1v1h-1zM195 100h1v1h-1zM191 103h1v1h-1zM184 95h1v1h-1zM170 106h1v1h-1zM202 98h1v1h-1zM180 100h1v1h-1zM199 100h1v1h-1zM174 100h1v1h-1zM184 108h1v1h-1zM185 98h1v1h-1zM173 103h1v1h-1zM175 93h1v1h-1zM172 103h1v1h-1zM169 98h1v1h-1zM176 101h1v1h-1zM193 101h1v1h-1zM176 97h1v1h-1zM176 99h1v1h-1zM181 95h1v1h-1zM180 101h1v1h-1zM176 97h1v1h-1zM178 96h1v1h-1zM175 101h1v1h-1zM179 100h1v1h-1zM171 97h1v1h-1zM169 97h1v1h-1zM179 97h1v1h-1zM173 101h1v1h-1zM190 102h1v1h-1zM186 99h1v1h-1zM169 104h1v1h-1zM169 101h1v1h-1zM173 101h1v1h-1zM205 101h1v1h-1zM179 99h1v1h-1zM190 102h1v1h-1zM203 100h1v1h-1zM199 100h1v1h-1zM187 105h1v1h-1zM201 99h1v1h-1zM169 99h1v1h-1zM189 101h1v1h-1zM189 101h1v1h-1zM189 102h1v1h-1zM172 107h1v1h-1zM208 102h1v1h-1zM204 101h1v1h-1zM176 99h1v1h-1zM186 97h1v1h-1zM193 103h1v1h-1zM190 101h1v1h-1z" fill="#111" fill-opacity="0.25"/>
<path d="M174 99h1v1h-1zM179 101h1v1h-1zM187 103h1v1h-1zM175 101h1v1h-1zM169 96h1v1h-1zM206 101h1v1h-1zM169 100h1v1h-1zM175 100h1v1h-1zM196 103h1v1h-1zM170 98h1v1h-1zM176 99h1v1h-1zM192 107h1v1h-1zM180 95h1v1h-1zM169 103h1v1h-1zM182 99h1v1h-1zM195 97h1v1h-1zM182 97h1v1h-1zM173 101h1v1h-1zM210 103h1v1h-1zM171 98h1v1h-1zM184 98h1v1h-1zM168 99h1v1h-1zM187 101h1v1h-1zM182 99h1v1h-1zM181 100h1v1h-1zM168 105h1v1h-1zM202 99h1v1h-1zM206 98h1v1h-1zM200 100h1v1h-1zM173 107h1v1h-1zM175 98h1v1h-1zM186 99h1v1h-1zM174 95h1v1h-1zM170 99h1v1h-1zM170 101h1v1h-1zM173 98h1v1h-1zM188 98h1v1h-1zM175 102h1v1h-1zM195 92h1v1h-1zM197 102h1v1h-1zM181 101h1v1h-1zM169 103h1v1h-1zM193 104h1v1h-1zM170 104h1v1h-1zM205 96h1v1h-1zM169 105h1v1h-1zM168 104h1v1h-1zM180 99h1v1h-1zM187 101h1v1h-1zM168 99h1v1h-1zM196 108h1v1h-1zM181 100h1v1h-1zM168 101h1v1h-1zM209 99h1v1h-1zM185 95h1v1h-1zM186 97h1v1h-1zM171 106h1v1h-1zM168 97h1v1h-1zM185 102h1v1h-1zM182 94h1v1h-1zM205 99h1v1h-1zM180 93h1v1h-1z" fill="#111" fill-opacity="0.25"/>
<path d="M172 112h1v1h-1zM173 133h1v1h-1zM170 134h1v1h-1zM181 121h1v1h-1zM172 128h1v1h-1zM174 112h1v1h-1zM172 125h1v1h-1zM180 116h1v1h-1zM170 126h1v1h-1zM191 113h1v1h-1zM170 104h1v1h-1zM170 122h1v1h-1zM191 128h1v1h-1zM179 127h1v1h-1zM179 116h1v1h-1zM170 122h1v1h-1zM178 132h1v1h-1zM182 129h1v1h-1zM178 119h1v1h-1zM172 105h1v1h-1zM194 104h1v1h-1zM184 113h1v1h-1zM173 116h1v1h-1zM174 134h1v1h-1zM187 128h1v1h-1zM172 108h1v1h-1zM204 105h1v1h-1zM189 121h1v1h-1zM186 107h1v1h-1zM174 114h1v1h-1zM179 126h1v1h-1zM208 110h1v1h-1zM174 103h1v1h-1zM185 134h1v1h-1zM170 132h1v1h-1zM174 126h1v1h-1zM184 102h1v1h-1zM175 108h1v1h-1zM188 108h1v1h-1zM185 123h1v1h-1zM190 109h1v1h-1zM190 124h1v1h-1zM214 120h1v1h-1z" fill="#000" fill-opacity="0.14"/>
<path d="M183 124h1v1h-1zM187 125h1v1h-1zM188 129h1v1h-1zM175 119h1v1h-1zM179 116h1v1h-1zM173 118h1v1h-1zM179 112h1v1h-1zM172 118h1v1h-1zM172 135h1v1h-1zM177 133h1v1h-1zM170 118h1v1h-1zM170 107h1v1h-1zM185 124h1v1h-1zM175 111h1v1h-1zM172 133h1v1h-1zM175 107h1v1h-1zM196 109h1v1h-1zM212 128h1v1h-1zM172 105h1v1h-1zM174 121h1v1h-1zM198 110h1v1h-1zM176 102h1v1h-1zM170 117h1v1h-1zM192 104h1v1h-1zM185 109h1v1h-1zM186 119h1v1h-1zM174 124h1v1h-1zM171 111h1v1h-1zM188 133h1v1h-1zM208 120h1v1h-1zM170 115h1v1h-1zM173 132h1v1h-1zM172 108h1v1h-1zM184 126h1v1h-1zM187 109h1v1h-1zM171 116h1v1h-1zM173 119h1v1h-1zM208 125h1v1h-1zM175 110h1v1h-1zM171 133h1v1h-1zM173 124h1v1h-1zM171 104h1v1h-1z" fill="#000" fill-opacity="0.14"/>
<path d="M182 112h1v1h-1zM200 107h1v1h-1zM180 126h1v1h-1zM182 134h1v1h-1zM187 110h1v1h-1zM180 126h1v1h-1zM179 129h1v1h-1zM183 113h1v1h-1zM173 120h1v1h-1zM176 117h1v1h-1zM175 128h1v1h-1zM180 127h1v1h-1zM176 131h1v1h-1zM186 110h1v1h-1zM172 107h1v1h-1zM173 120h1v1h-1zM170 105h1v1h-1zM204 117h1v1h-1zM180 133h1v1h-1zM183 112h1v1h-1zM181 130h1v1h-1zM190 119h1v1h-1zM175 102h1v1h-1zM188 102h1v1h-1zM206 112h1v1h-1zM171 114h1v1h-1zM170 112h1v1h-1zM175 123h1v1h-1zM180 118h1v1h-1zM209 132h1v1h-1zM206 126h1v1h-1zM176 129h1v1h-1zM180 110h1v1h-1zM170 111h1v1h-1zM170 134h1v1h-1zM197 104h1v1h-1zM183 122h1v1h-1zM171 131h1v1h-1zM174 110h1v1h-1zM196 125h1v1h-1zM182 121h1v1h-1zM180 118h1v1h-1z" fill="#000" fill-opacity="0.14"/>
<rect x="153" y="63.5" width="77" height="73.5" fill="none" stroke="#222" stroke-width="1.2"/>
<path d="M153.0 137.5v2.2M158.8 137.5v1.3M162.2 137.5v1.3M164.6 137.5v1.3M166.5 137.5v1.3M168.0 137.5v1.3M169.3 137.5v1.3M170.4 137.5v1.3M171.4 137.5v1.3M172.2 137.5v2.2M178.0 137.5v1.3M181.4 137.5v1.3M183.8 137.5v1.3M185.7 137.5v1.3M187.2 137.5v1.3M188.5 137.5v1.3M189.6 137.5v1.3M190.6 137.5v1.3M191.5 137.5v2.2M197.3 137.5v1.3M200.7 137.5v1.3M203.1 137.5v1.3M205.0 137.5v1.3M206.5 137.5v1.3M207.8 137.5v1.3M208.9 137.5v1.3M209.9 137.5v1.3M210.8 137.5v2.2M216.5 137.5v1.3M219.9 137.5v1.3M222.3 137.5v1.3M224.2 137.5v1.3M225.7 137.5v1.3M227.0 137.5v1.3M228.1 137.5v1.3M229.1 137.5v1.3M152.5 137.0h-2.2M152.5 131.5h-1.3M152.5 128.2h-1.3M152.5 125.9h-1.3M152.5 124.2h-1.3M152.5 122.7h-1.3M152.5 121.5h-1.3M152.5 120.4h-1.3M152.5 119.5h-1.3M152.5 118.6h-2.2M152.5 113.1h-1.3M152.5 109.9h-1.3M152.5 107.6h-1.3M152.5 105.8h-1.3M152.5 104.3h-1.3M152.5 103.1h-1.3M152.5 102.0h-1.3M152.5 101.1h-1.3M152.5 100.2h-2.2M152.5 94.7h-1.3M152.5 91.5h-1.3M152.5 89.2h-1.3M152.5 87.4h-1.3M152.5 86.0h-1.3M152.5 84.7h-1.3M152.5 83.7h-1.3M152.5 82.7h-1.3M152.5 81.9h-2.2M152.5 76.3h-1.3M152.5 73.1h-1.3M152.5 70.8h-1.3M152.5 69.0h-1.3M152.5 67.6h-1.3M152.5 66.3h-1.3M152.5 65.3h-1.3M152.5 64.3h-1.3" stroke="#444" stroke-width="0.7" fill="none"/>
<rect x="178.3" y="88.5" width="34.2" height="18.6" fill="none" stroke="#222" stroke-width="1"/>
<text x="211" y="87.2" font-size="7.9" font-weight="bold" text-anchor="end">4.1</text>
<text x="159.3" y="76.2" font-size="8.1" font-weight="bold" font-style="italic">MxCre tg Gfi1b<tspan font-size="0.62em" dy="-0.45em">fl/fl</tspan></text>
<text x="31.5" y="147.3" font-size="9.8" stroke="#000" stroke-width="0.28">Sca-1</text>
<text x="33.1" y="136.3" font-size="10" transform="rotate(-90 33.1 136.3)" stroke="#000" stroke-width="0.28">c-kit</text>
<line x1="80.4" y1="107.3" x2="80.4" y2="165" stroke="#444" stroke-width="1"/>
<path d="M76.7 158.2 L80.4 165 L84.10000000000001 158.2" fill="none" stroke="#222" stroke-width="1"/>
<line x1="199" y1="107.2" x2="199" y2="164" stroke="#444" stroke-width="1"/>
<path d="M195.3 157.2 L199 164 L202.7 157.2" fill="none" stroke="#222" stroke-width="1"/>
<g stroke-linejoin="round">
<ellipse cx="68.5" cy="213" rx="1.4" ry="2.2" transform="rotate(-15 68.5 213)" fill="#999"/>
<ellipse cx="72.2" cy="216.2" rx="1.4" ry="2.1" transform="rotate(-10 72.2 216.2)" fill="#999"/>
<ellipse cx="74.1" cy="225.2" rx="1.9" ry="0.9" transform="rotate(-40 74.1 225.2)" fill="#999"/>
<ellipse cx="69" cy="227.6" rx="0.9" ry="0.7" transform="rotate(0 69 227.6)" fill="#888"/>
<ellipse cx="65.9" cy="229.8" rx="0.8" ry="0.7" transform="rotate(0 65.9 229.8)" fill="#999"/>
<ellipse cx="66.4" cy="245.4" rx="1.3" ry="3.3" transform="rotate(-20 66.4 245.4)" fill="#999"/>
<ellipse cx="70.9" cy="210.4" rx="0.4" ry="0.5" transform="rotate(0 70.9 210.4)" fill="#888"/>
<ellipse cx="76.7" cy="230" rx="0.5" ry="0.5" transform="rotate(0 76.7 230)" fill="#777"/>
<ellipse cx="68.7" cy="240.1" rx="0.6" ry="0.5" transform="rotate(0 68.7 240.1)" fill="#777"/>
<ellipse cx="72.5" cy="241.2" rx="0.5" ry="0.5" transform="rotate(0 72.5 241.2)" fill="#999"/>
<ellipse cx="90" cy="206" rx="0.4" ry="1.1" transform="rotate(0 90 206)" fill="#555"/>
<path d="M88 209.5 C89 207.8 92.5 207.8 94.5 209.8 C96 211.5 95 213.3 92.8 212.8 C90.8 212.5 88.5 211.8 88 209.5 Z" fill="#8a8a8a"/>
<path d="M92 210.5 C93.5 210 95 211 94.8 212.3 C94 213.2 92.5 212.8 92 211.8 Z" fill="#333"/>
<path d="M74 233.5 C72.8 236.5 73 240 74.8 242.3 C77 244.8 80 246.2 83 246.8 L83.5 244.5 C80.5 243.8 78.3 242.5 77 240.5 C75.8 238.5 75.8 236 76.3 233.8 Z" fill="#8a8a8a" stroke="#222" stroke-width="0.8"/>
<path d="M80.8 251 C80.2 246 80.2 240 80.8 236.5 C81.2 233.5 82 231 82.5 228.5 C83 226 85.5 225.2 88 225.4 C91.5 225.6 93.6 227.5 93.6 230 C94.8 232.5 96.2 236 96.4 240 C96.6 244 96.4 247.5 96 251 Z" fill="#8c8c8c" stroke="#111" stroke-width="1.4"/>
<ellipse cx="89" cy="242.3" rx="6.3" ry="7.4" fill="#b8b8b8" stroke="#111" stroke-width="1.2"/>
<ellipse cx="89.2" cy="242.6" rx="4.4" ry="5" fill="#cfcfcf" stroke="#111" stroke-width="1.1"/>
<ellipse cx="89.4" cy="243.1" rx="2.5" ry="2.7" fill="#aaa" stroke="#111" stroke-width="1"/>
<circle cx="89.5" cy="243.3" r="1" fill="#eee"/>
<path d="M82.2 239 L86.8 234.6" stroke="#111" stroke-width="1"/>
<path d="M83.2 229.5 C83.2 227.4 85.2 226.4 88 226.5 C91 226.7 92.7 228.2 92.5 230.3 C92.3 232 89.8 232.8 87.2 232.6 C84.6 232.4 83.2 231.3 83.2 229.5 Z" fill="#5a5a5a" stroke="#111" stroke-width="1.1"/>
<ellipse cx="87.3" cy="229.5" rx="2.3" ry="1.4" fill="#bbb" stroke="#222" stroke-width="0.6"/>
<path d="M84.8 215.5 C87.5 214.3 91.5 215 92.9 218.3 C94 221.2 91.8 224 88.5 224.2 C86.2 224.3 84.8 223.3 84.7 221 C84.6 219 84.5 217 84.8 215.5 Z" fill="#333" stroke="#111" stroke-width="1.2"/>
<path d="M86.9 217.6 C88.8 217.2 90.8 218.3 91 220 C91.1 221.8 89.5 222.6 88 222.6 C87 222.5 86.8 221.5 86.8 220.3 Z" fill="#bbb"/>
<path d="M88.3 219.2 L90 220.3 L88.5 221.2 Z" fill="#222"/>
</g>
<rect x="38.3" y="177.6" width="76.9" height="73.9" fill="none" stroke="#222" stroke-width="1.2"/>
<path d="M38.3 252.0v2.2M44.1 252.0v1.3M47.5 252.0v1.3M49.9 252.0v1.3M51.7 252.0v1.3M53.3 252.0v1.3M54.5 252.0v1.3M55.7 252.0v1.3M56.6 252.0v1.3M57.5 252.0v2.2M63.3 252.0v1.3M66.7 252.0v1.3M69.1 252.0v1.3M71.0 252.0v1.3M72.5 252.0v1.3M73.8 252.0v1.3M74.9 252.0v1.3M75.9 252.0v1.3M76.8 252.0v2.2M82.5 252.0v1.3M85.9 252.0v1.3M88.3 252.0v1.3M90.2 252.0v1.3M91.7 252.0v1.3M93.0 252.0v1.3M94.1 252.0v1.3M95.1 252.0v1.3M96.0 252.0v2.2M101.8 252.0v1.3M105.1 252.0v1.3M107.5 252.0v1.3M109.4 252.0v1.3M110.9 252.0v1.3M112.2 252.0v1.3M113.3 252.0v1.3M114.3 252.0v1.3M37.8 251.5h-2.2M37.8 245.9h-1.3M37.8 242.7h-1.3M37.8 240.4h-1.3M37.8 238.6h-1.3M37.8 237.1h-1.3M37.8 235.9h-1.3M37.8 234.8h-1.3M37.8 233.9h-1.3M37.8 233.0h-2.2M37.8 227.5h-1.3M37.8 224.2h-1.3M37.8 221.9h-1.3M37.8 220.1h-1.3M37.8 218.6h-1.3M37.8 217.4h-1.3M37.8 216.3h-1.3M37.8 215.4h-1.3M37.8 214.6h-2.2M37.8 209.0h-1.3M37.8 205.7h-1.3M37.8 203.4h-1.3M37.8 201.6h-1.3M37.8 200.2h-1.3M37.8 198.9h-1.3M37.8 197.9h-1.3M37.8 196.9h-1.3M37.8 196.1h-2.2M37.8 190.5h-1.3M37.8 187.3h-1.3M37.8 185.0h-1.3M37.8 183.2h-1.3M37.8 181.7h-1.3M37.8 180.5h-1.3M37.8 179.4h-1.3M37.8 178.4h-1.3" stroke="#444" stroke-width="0.7" fill="none"/>
<line x1="82.9" y1="177.6" x2="82.9" y2="251.5" stroke="#777" stroke-width="1.2"/>
<line x1="38.3" y1="232.3" x2="115.2" y2="232.3" stroke="#777" stroke-width="1.2"/>
<text x="43.2" y="189.2" font-size="8" font-weight="bold">7</text>
<text x="108.6" y="190" font-size="8" font-weight="bold" text-anchor="end">19</text>
<text x="42" y="249.2" font-size="8" font-weight="bold">15</text>
<text x="112.5" y="248.6" font-size="8" font-weight="bold" text-anchor="end">58</text>
<text x="33.4" y="250.5" font-size="9.8" transform="rotate(-90 33.4 250.5)" stroke="#000" stroke-width="0.28">CD150</text>
<text x="38.3" y="267.6" font-size="9.8" stroke="#000" stroke-width="0.28">CD48</text>
<defs><linearGradient id="cg" x1="0" y1="0" x2="1" y2="1"><stop offset="0" stop-color="#b4b4b4"/><stop offset="1" stop-color="#8a8a8a"/></linearGradient></defs>
<g stroke-linejoin="round">
<path d="M171.6 207 L174.3 205.3 L177.6 204 L181.6 203 L185.6 202 L189.5 201.3 L192.6 201.5 L199.3 202.1 L204.6 202.9 L208.6 204.2 L211.2 205.4 L213 205.2 L215.4 206.2 L214.5 207.8 L211.5 207.8 L210.6 212.3 L210.2 216.3 L210.6 220.9 L211.2 225.5 L212 230 L213.2 234 L214 240.4 L214.2 251.3 L183.4 251.3 L184.2 248.8 L187.2 247.3 L189.5 245.8 L190.3 243.5 L186.5 242.3 L182.6 241.2 L181.1 239.2 L183.4 237.3 L186.5 235 L185.6 232.8 L186.3 230.5 L189.4 229 L191.5 227.4 L191 226.9 L188.9 225.2 L186.2 224.9 L183.6 225.5 L180.9 226.2 L178.9 223.6 L177.6 220.9 L175.3 220.2 L175 222.9 L173.9 220.9 L172 218.9 L170 217.6 L169.6 215.6 L171 213 Z" fill="url(#cg)" stroke="#111" stroke-width="1.3"/>
<path d="M162.3 211.3 L163 210.3 L165 210 L166.6 209 L168.3 208.3 L170.3 208 L171.6 209 L171.6 211 L170.3 212.3 L168.3 213 L165.6 213.3 L163.3 212.6 Z" fill="#555" stroke="#111" stroke-width="1.1"/>
<circle cx="169" cy="210.3" r="1.1" fill="#ddd"/>
<path d="M175.3 209 L176.9 207.3 L180.2 206.3 L184.2 205.3 L188.2 204.6 L192.6 204.1 L199.3 204.3 L205.2 205 L208.4 207 L209.4 210.3 L209 214.3 L208.7 218.2 L209 222.2 L209.7 226.9 L210.5 232 L211.4 240 L211.5 250.8 L195 250.8 L194 246 L194.3 238 L196.3 232.5 L197.8 228 L197.8 222 L197.4 218.5 L191 216.9 L186.9 217.2 L182.9 216.6 L179.6 214.9 L176.9 212.3 Z" fill="#7e7e7e" stroke="#111" stroke-width="1.1"/>
<path d="M186.5 233.6 L188.5 231.6 L191.5 231 L193.5 232.5 L192.5 236 L191 239.8 L188 240.3 L185 239.3 L184.8 237.5 L187 236 Z" fill="#a5a5a5" stroke="#333" stroke-width="0.8"/>
<path d="M178.3 210.3 L180.9 209 L184.9 208.3 L188.9 207.6 L193 207.8 L195.8 208.8 L196 211 L194.5 213.8 L191 214.6 L187.5 214.9 L182.9 213.9 L179.6 212.3 Z" fill="#909090" stroke="#111" stroke-width="1.1"/>
<ellipse cx="193.3" cy="211.3" rx="1.9" ry="2" fill="#e8e8e8"/>
<ellipse cx="184.9" cy="211.5" rx="2.8" ry="1.4" transform="rotate(8 184.9 211.5)" fill="#777" stroke="#111" stroke-width="0.9"/>
<circle cx="184.3" cy="211.3" r="0.8" fill="#111"/>
<path d="M197.3 207 L205.9 206.6 L207.2 209 L205.9 213.6 L204.6 218.2 L203.9 222.2 L202.6 225.5 L199.9 225.5 L198.6 222.2 L197.9 217.6 L197.5 212 Z" fill="#a8a8a8" stroke="#111" stroke-width="1.1"/>
<path d="M198.6 208.9 L205.2 209 L201.3 215.8 Z" fill="#111" stroke="#111" stroke-width="1"/>
<path d="M201.3 215.8 L200.3 224 M201.3 215.8 L202.4 224" stroke="#333" stroke-width="0.7" fill="none"/>
<ellipse cx="204.2" cy="240.5" rx="8.4" ry="7.6" fill="#8a8a8a" stroke="#111" stroke-width="1.1"/>
<ellipse cx="204.2" cy="240.4" rx="5.8" ry="5.3" fill="#b0b0b0" stroke="#111" stroke-width="1"/>
<ellipse cx="204" cy="240.2" rx="3.7" ry="3.4" fill="#8a8a8a" stroke="#111" stroke-width="0.9"/>
<ellipse cx="203.5" cy="239.9" rx="2.1" ry="1.7" fill="#222"/>
<circle cx="205.2" cy="239.6" r="0.9" fill="#eee"/>
<ellipse cx="214.3" cy="206.4" rx="1.4" ry="1.2" fill="#111"/>
<path d="M184.5 250.5 L187.2 247 L189 250.5 Z" fill="#222"/>
<path d="M175.3 220.2 L177 221 L176.5 223.5 L175 222.9 Z" fill="#222"/>
</g>
<rect x="153" y="175.5" width="78.4" height="76.19999999999999" fill="none" stroke="#222" stroke-width="1.2"/>
<path d="M153.0 252.2v2.2M158.9 252.2v1.3M162.4 252.2v1.3M164.8 252.2v1.3M166.7 252.2v1.3M168.3 252.2v1.3M169.6 252.2v1.3M170.7 252.2v1.3M171.7 252.2v1.3M172.6 252.2v2.2M178.5 252.2v1.3M182.0 252.2v1.3M184.4 252.2v1.3M186.3 252.2v1.3M187.9 252.2v1.3M189.2 252.2v1.3M190.3 252.2v1.3M191.3 252.2v1.3M192.2 252.2v2.2M198.1 252.2v1.3M201.6 252.2v1.3M204.0 252.2v1.3M205.9 252.2v1.3M207.5 252.2v1.3M208.8 252.2v1.3M209.9 252.2v1.3M210.9 252.2v1.3M211.8 252.2v2.2M217.7 252.2v1.3M221.2 252.2v1.3M223.6 252.2v1.3M225.5 252.2v1.3M227.1 252.2v1.3M228.4 252.2v1.3M229.5 252.2v1.3M230.5 252.2v1.3M152.5 251.7h-2.2M152.5 246.0h-1.3M152.5 242.6h-1.3M152.5 240.2h-1.3M152.5 238.4h-1.3M152.5 236.9h-1.3M152.5 235.6h-1.3M152.5 234.5h-1.3M152.5 233.5h-1.3M152.5 232.6h-2.2M152.5 226.9h-1.3M152.5 223.6h-1.3M152.5 221.2h-1.3M152.5 219.3h-1.3M152.5 217.8h-1.3M152.5 216.6h-1.3M152.5 215.4h-1.3M152.5 214.5h-1.3M152.5 213.6h-2.2M152.5 207.9h-1.3M152.5 204.5h-1.3M152.5 202.1h-1.3M152.5 200.3h-1.3M152.5 198.8h-1.3M152.5 197.5h-1.3M152.5 196.4h-1.3M152.5 195.4h-1.3M152.5 194.6h-2.2M152.5 188.8h-1.3M152.5 185.5h-1.3M152.5 183.1h-1.3M152.5 181.2h-1.3M152.5 179.7h-1.3M152.5 178.5h-1.3M152.5 177.3h-1.3M152.5 176.4h-1.3" stroke="#444" stroke-width="0.7" fill="none"/>
<line x1="198.2" y1="175.5" x2="198.2" y2="251.7" stroke="#777" stroke-width="1.2"/>
<line x1="153" y1="232.4" x2="231.4" y2="232.4" stroke="#555" stroke-width="1.2"/>
<text x="155" y="188.2" font-size="8" font-weight="bold">37</text>
<text x="228.6" y="189.6" font-size="8" font-weight="bold" text-anchor="end">35</text>
<text x="155.8" y="249.4" font-size="8" font-weight="bold">5</text>
<text x="230.4" y="247.8" font-size="8" font-weight="bold" text-anchor="end">22</text>
<rect x="291.3" y="135.1" width="19.599999999999966" height="1.700000000000017" fill="#fff" stroke="#111" stroke-width="1"/>
<line x1="330.85" y1="86.7" x2="330.85" y2="75.8" stroke="#111" stroke-width="1.2"/>
<line x1="326.25" y1="75.8" x2="335.45000000000005" y2="75.8" stroke="#111" stroke-width="1.3"/>
<rect x="321.0" y="87.3" width="19.700000000000035" height="49.50000000000001" fill="#1a1a1a" stroke="#0a0a0a" stroke-width="1.3"/>
<line x1="286.1" y1="46.199999999999996" x2="286.1" y2="137.4" stroke="#222" stroke-width="1.3"/>
<line x1="285.5" y1="136.8" x2="346" y2="136.8" stroke="#222" stroke-width="1.3"/>
<line x1="283.1" y1="46.8" x2="286.1" y2="46.8" stroke="#222" stroke-width="1.1"/>
<text x="281.90000000000003" y="49.428" font-size="7.3" font-weight="bold" text-anchor="end">0.15</text>
<line x1="283.1" y1="76.8" x2="286.1" y2="76.8" stroke="#222" stroke-width="1.1"/>
<text x="281.90000000000003" y="79.428" font-size="7.3" font-weight="bold" text-anchor="end">0.10</text>
<line x1="283.1" y1="106.8" x2="286.1" y2="106.8" stroke="#222" stroke-width="1.1"/>
<text x="281.90000000000003" y="109.428" font-size="7.3" font-weight="bold" text-anchor="end">0.05</text>
<line x1="283.1" y1="136.8" x2="286.1" y2="136.8" stroke="#222" stroke-width="1.1"/>
<text x="281.90000000000003" y="139.428" font-size="7.3" font-weight="bold" text-anchor="end">0.00</text>
<line x1="301" y1="136.8" x2="301" y2="139.20000000000002" stroke="#222" stroke-width="1.1"/>
<line x1="331" y1="136.8" x2="331" y2="139.20000000000002" stroke="#222" stroke-width="1.1"/>
<text x="287" y="28" font-size="10" font-weight="bold">Bone marrow</text>
<text x="262.5" y="102.5" font-size="7.9" font-weight="bold" text-anchor="middle" transform="rotate(-90 262.5 102.5)">% HSCs</text>
<text x="288" y="127.7" font-size="7.7" fill="#222" stroke="#222" stroke-width="0.28">p&#8804;0.01</text>
<text x="302.8" y="150.4" font-size="7.9" font-weight="bold" font-style="italic" text-anchor="middle">Gfi1b<tspan font-size="0.62em" dy="-0.45em">fl/fl</tspan></text>
<text x="338.5" y="151" font-size="7.9" font-weight="bold" font-style="italic" text-anchor="middle">MxCre tg</text>
<text x="337.5" y="159.2" font-size="7.9" font-weight="bold" font-style="italic" text-anchor="middle">Gfi1b<tspan font-size="0.62em" dy="-0.45em">fl/fl</tspan></text>
<line x1="405.95000000000005" y1="136.2" x2="405.95000000000005" y2="135.5" stroke="#111" stroke-width="1.2"/>
<line x1="401.35" y1="135.5" x2="410.55000000000007" y2="135.5" stroke="#111" stroke-width="1.3"/>
<rect x="395.8" y="136.2" width="20.30000000000001" height="2.4000000000000057" fill="#fff" stroke="#111" stroke-width="1"/>
<line x1="437.9" y1="136.2" x2="437.9" y2="134.7" stroke="#111" stroke-width="1.2"/>
<line x1="433.29999999999995" y1="134.7" x2="442.5" y2="134.7" stroke="#111" stroke-width="1.3"/>
<rect x="427.5" y="136.2" width="20.80000000000001" height="2.4000000000000057" fill="#fff" stroke="#111" stroke-width="1"/>
<line x1="469.25" y1="73.8" x2="469.25" y2="61" stroke="#111" stroke-width="1.2"/>
<line x1="464.65" y1="61" x2="473.85" y2="61" stroke="#111" stroke-width="1.3"/>
<rect x="458.8" y="74.39999999999999" width="20.900000000000023" height="64.2" fill="#1a1a1a" stroke="#0a0a0a" stroke-width="1.3"/>
<line x1="500.7" y1="76.2" x2="500.7" y2="74.6" stroke="#111" stroke-width="1.2"/>
<line x1="496.09999999999997" y1="74.6" x2="505.3" y2="74.6" stroke="#111" stroke-width="1.3"/>
<rect x="490.3" y="76.8" width="20.8" height="61.79999999999999" fill="#1a1a1a" stroke="#0a0a0a" stroke-width="1.3"/>
<line x1="390.3" y1="54.0" x2="390.3" y2="139.2" stroke="#222" stroke-width="1.3"/>
<line x1="389.7" y1="138.6" x2="512" y2="138.6" stroke="#222" stroke-width="1.3"/>
<line x1="387.3" y1="54.6" x2="390.3" y2="54.6" stroke="#222" stroke-width="1.1"/>
<text x="386.7" y="57.552" font-size="8.2" font-weight="bold" text-anchor="end">0.06</text>
<line x1="387.3" y1="82.6" x2="390.3" y2="82.6" stroke="#222" stroke-width="1.1"/>
<text x="386.7" y="85.55199999999999" font-size="8.2" font-weight="bold" text-anchor="end">0.04</text>
<line x1="387.3" y1="110.6" x2="390.3" y2="110.6" stroke="#222" stroke-width="1.1"/>
<text x="386.7" y="113.55199999999999" font-size="8.2" font-weight="bold" text-anchor="end">0.02</text>
<line x1="387.3" y1="138.6" x2="390.3" y2="138.6" stroke="#222" stroke-width="1.1"/>
<text x="386.7" y="141.552" font-size="8.2" font-weight="bold" text-anchor="end">0.00</text>
<line x1="406.2" y1="138.6" x2="406.2" y2="141.0" stroke="#222" stroke-width="1.1"/>
<line x1="437.3" y1="138.6" x2="437.3" y2="141.0" stroke="#222" stroke-width="1.1"/>
<line x1="469.2" y1="138.6" x2="469.2" y2="141.0" stroke="#222" stroke-width="1.1"/>
<line x1="500.7" y1="138.6" x2="500.7" y2="141.0" stroke="#222" stroke-width="1.1"/>
<text x="389" y="28" font-size="10" font-weight="bold">HSC (LSK, CD150<tspan font-size="5.80" dy="-3.30">+</tspan><tspan dy="3.30">CD48</tspan><tspan font-size="5.80" dy="-3.30">-</tspan><tspan dy="3.30">)</tspan></text>
<text x="366.8" y="97.9" font-size="8.2" font-weight="bold" text-anchor="middle" transform="rotate(-90 366.8 97.9)">%&#160;&#160;of all BM cells</text>
<path d="M403.9 49.1 L403.9 46.5 L467.5 46.5 L467.5 49.1" fill="none" stroke="#111" stroke-width="1.3"/>
<path d="M400.7 48.800000000000004 L407.09999999999997 48.800000000000004 L403.9 54.6 Z" fill="#111"/>
<path d="M464.3 48.800000000000004 L470.7 48.800000000000004 L467.5 54.6 Z" fill="#111"/>
<path d="M435.6 59.5 L435.6 56.9 L499.2 56.9 L499.2 59.5" fill="none" stroke="#111" stroke-width="1.3"/>
<path d="M432.40000000000003 59.2 L438.8 59.2 L435.6 65 Z" fill="#111"/>
<path d="M496.0 59.2 L502.4 59.2 L499.2 65 Z" fill="#111"/>
<text x="405.3" y="90" font-size="10" font-weight="bold" text-anchor="middle">**</text>
<text x="440" y="90" font-size="10" font-weight="bold" text-anchor="middle">**</text>
<text x="405" y="150" font-size="8" text-anchor="middle" stroke="#000" stroke-width="0.28">CD34<tspan font-size="4.64" dy="-2.64">+</tspan></text>
<text x="436.9" y="150" font-size="8" text-anchor="middle" stroke="#000" stroke-width="0.28">CD34<tspan font-size="4.64" dy="-2.64">-</tspan></text>
<text x="468.2" y="150" font-size="8" text-anchor="middle" stroke="#000" stroke-width="0.28">CD34<tspan font-size="4.64" dy="-2.64">+</tspan></text>
<text x="499.7" y="150" font-size="8" text-anchor="middle" stroke="#000" stroke-width="0.28">CD34<tspan font-size="4.64" dy="-2.64">-</tspan></text>
<text x="431.5" y="161" font-size="7.9" font-weight="bold" font-style="italic" text-anchor="middle">Gfi1b<tspan font-size="0.62em" dy="-0.45em">fl/fl</tspan></text>
<text x="480.8" y="160.7" font-size="7.9" font-weight="bold" font-style="italic" text-anchor="middle">MxCre tg</text>
<text x="480.5" y="170.8" font-size="7.9" font-weight="bold" font-style="italic" text-anchor="middle">Gfi1b<tspan font-size="0.62em" dy="-0.45em">fl/fl</tspan></text>
<rect x="290.8" y="275.7" width="20.69999999999999" height="0.6999999999999886" fill="#fff" stroke="#111" stroke-width="1"/>
<line x1="331.5" y1="212.7" x2="331.5" y2="198.1" stroke="#111" stroke-width="1.2"/>
<line x1="326.9" y1="198.1" x2="336.1" y2="198.1" stroke="#111" stroke-width="1.3"/>
<rect x="321.6" y="213.29999999999998" width="19.8" height="63.09999999999999" fill="#1a1a1a" stroke="#0a0a0a" stroke-width="1.3"/>
<line x1="286.4" y1="185.8" x2="286.4" y2="277.0" stroke="#222" stroke-width="1.3"/>
<line x1="285.79999999999995" y1="276.4" x2="346" y2="276.4" stroke="#222" stroke-width="1.3"/>
<line x1="283.4" y1="186.4" x2="286.4" y2="186.4" stroke="#222" stroke-width="1.1"/>
<text x="282.7" y="189.46" font-size="8.5" font-weight="bold" text-anchor="end">0.08</text>
<line x1="283.4" y1="208.9" x2="286.4" y2="208.9" stroke="#222" stroke-width="1.1"/>
<text x="282.7" y="211.96" font-size="8.5" font-weight="bold" text-anchor="end">0.06</text>
<line x1="283.4" y1="231.4" x2="286.4" y2="231.4" stroke="#222" stroke-width="1.1"/>
<text x="282.7" y="234.46" font-size="8.5" font-weight="bold" text-anchor="end">0.04</text>
<line x1="283.4" y1="253.9" x2="286.4" y2="253.9" stroke="#222" stroke-width="1.1"/>
<text x="282.7" y="256.96" font-size="8.5" font-weight="bold" text-anchor="end">0.02</text>
<line x1="283.4" y1="276.4" x2="286.4" y2="276.4" stroke="#222" stroke-width="1.1"/>
<text x="282.7" y="279.46" font-size="8.5" font-weight="bold" text-anchor="end">0.00</text>
<line x1="300.6" y1="276.4" x2="300.6" y2="278.79999999999995" stroke="#222" stroke-width="1.1"/>
<line x1="331.5" y1="276.4" x2="331.5" y2="278.79999999999995" stroke="#222" stroke-width="1.1"/>
<text x="286.5" y="176.8" font-size="10" font-weight="bold">Spleen</text>
<text x="261.2" y="230.4" font-size="8.0" font-weight="bold" text-anchor="middle" transform="rotate(-90 261.2 230.4)">% HSCs of all cells</text>
<text x="289.7" y="265.3" font-size="8.25" fill="#222" stroke="#222" stroke-width="0.28">p&#8804;0.01</text>
<text x="302.5" y="286.8" font-size="7.9" font-weight="bold" font-style="italic" text-anchor="middle">Gfi1b<tspan font-size="0.62em" dy="-0.45em">fl/fl</tspan></text>
<text x="339" y="287.2" font-size="7.9" font-weight="bold" font-style="italic" text-anchor="middle">MxCre tg</text>
<text x="337.5" y="295.4" font-size="7.9" font-weight="bold" font-style="italic" text-anchor="middle">Gfi1b<tspan font-size="0.62em" dy="-0.45em">fl/fl</tspan></text>
<rect x="395.3" y="275.4" width="20.19999999999999" height="0.6000000000000227" fill="#fff" stroke="#111" stroke-width="1"/>
<line x1="435.65" y1="209.5" x2="435.65" y2="197.8" stroke="#111" stroke-width="1.2"/>
<line x1="431.04999999999995" y1="197.8" x2="440.25" y2="197.8" stroke="#111" stroke-width="1.3"/>
<rect x="425.90000000000003" y="210.1" width="19.49999999999999" height="65.9" fill="#1a1a1a" stroke="#0a0a0a" stroke-width="1.3"/>
<line x1="390.2" y1="185.0" x2="390.2" y2="276.6" stroke="#222" stroke-width="1.3"/>
<line x1="389.59999999999997" y1="276" x2="451" y2="276" stroke="#222" stroke-width="1.3"/>
<line x1="387.2" y1="185.6" x2="390.2" y2="185.6" stroke="#222" stroke-width="1.1"/>
<text x="386.09999999999997" y="188.33599999999998" font-size="7.6" font-weight="bold" text-anchor="end">0.025</text>
<line x1="387.2" y1="203.7" x2="390.2" y2="203.7" stroke="#222" stroke-width="1.1"/>
<text x="386.09999999999997" y="206.43599999999998" font-size="7.6" font-weight="bold" text-anchor="end">0.020</text>
<line x1="387.2" y1="221.8" x2="390.2" y2="221.8" stroke="#222" stroke-width="1.1"/>
<text x="386.09999999999997" y="224.536" font-size="7.6" font-weight="bold" text-anchor="end">0.015</text>
<line x1="387.2" y1="239.8" x2="390.2" y2="239.8" stroke="#222" stroke-width="1.1"/>
<text x="386.09999999999997" y="242.536" font-size="7.6" font-weight="bold" text-anchor="end">0.010</text>
<line x1="387.2" y1="257.9" x2="390.2" y2="257.9" stroke="#222" stroke-width="1.1"/>
<text x="386.09999999999997" y="260.63599999999997" font-size="7.6" font-weight="bold" text-anchor="end">0.005</text>
<line x1="387.2" y1="276" x2="390.2" y2="276" stroke="#222" stroke-width="1.1"/>
<text x="386.09999999999997" y="278.736" font-size="7.6" font-weight="bold" text-anchor="end">0.000</text>
<line x1="405" y1="276" x2="405" y2="278.4" stroke="#222" stroke-width="1.1"/>
<line x1="435.6" y1="276" x2="435.6" y2="278.4" stroke="#222" stroke-width="1.1"/>
<text x="391.7" y="177.5" font-size="10" font-weight="bold">Blood</text>
<defs><clipPath id="cle"><rect x="359" y="150" width="20" height="140"/></clipPath></defs><g clip-path="url(#cle)">
<text x="365.2" y="227.6" font-size="8.0" font-weight="bold" text-anchor="middle" transform="rotate(-90 365.2 227.6)">%&#160;&#160;HSCs of all cells</text>
</g>
<text x="394.7" y="266.1" font-size="8.25" fill="#222" stroke="#222" stroke-width="0.28">p&#8804;0.01</text>
<text x="406.5" y="286.8" font-size="7.9" font-weight="bold" font-style="italic" text-anchor="middle">Gfi1b<tspan font-size="0.62em" dy="-0.45em">fl/fl</tspan></text>
<text x="444" y="287.2" font-size="7.9" font-weight="bold" font-style="italic" text-anchor="middle">MxCre tg</text>
<text x="442.5" y="295.6" font-size="7.9" font-weight="bold" font-style="italic" text-anchor="middle">Gfi1b<tspan font-size="0.62em" dy="-0.45em">fl/fl</tspan></text>
<line x1="51.8" y1="350.8" x2="51.8" y2="342.9" stroke="#111" stroke-width="1.2"/>
<line x1="47.199999999999996" y1="342.9" x2="56.4" y2="342.9" stroke="#111" stroke-width="1.3"/>
<rect x="41.5" y="351.40000000000003" width="20.600000000000005" height="73.29999999999998" fill="#fff" stroke="#0a0a0a" stroke-width="1.3"/>
<line x1="83.6" y1="419.5" x2="83.6" y2="417.4" stroke="#111" stroke-width="1.2"/>
<line x1="79.0" y1="417.4" x2="88.19999999999999" y2="417.4" stroke="#111" stroke-width="1.3"/>
<rect x="73.3" y="420.1" width="20.599999999999998" height="4.599999999999989" fill="#1a1a1a" stroke="#0a0a0a" stroke-width="1.3"/>
<line x1="36" y1="326.9" x2="36" y2="425.3" stroke="#222" stroke-width="1.3"/>
<line x1="35.4" y1="424.7" x2="100" y2="424.7" stroke="#222" stroke-width="1.3"/>
<line x1="33" y1="327.5" x2="36" y2="327.5" stroke="#222" stroke-width="1.1"/>
<text x="31.9" y="330.146" font-size="7.35" font-weight="bold" text-anchor="end">1500</text>
<line x1="33" y1="359.9" x2="36" y2="359.9" stroke="#222" stroke-width="1.1"/>
<text x="31.9" y="362.546" font-size="7.35" font-weight="bold" text-anchor="end">1000</text>
<line x1="33" y1="392.3" x2="36" y2="392.3" stroke="#222" stroke-width="1.1"/>
<text x="31.9" y="394.946" font-size="7.35" font-weight="bold" text-anchor="end">500</text>
<line x1="33" y1="424.7" x2="36" y2="424.7" stroke="#222" stroke-width="1.1"/>
<text x="31.9" y="427.346" font-size="7.35" font-weight="bold" text-anchor="end">0</text>
<line x1="51.6" y1="424.7" x2="51.6" y2="427.09999999999997" stroke="#222" stroke-width="1.1"/>
<line x1="83.6" y1="424.7" x2="83.6" y2="427.09999999999997" stroke="#222" stroke-width="1.1"/>
<text x="38.4" y="323.2" font-size="10" font-weight="bold">Platelets</text>
<text x="10.3" y="376.2" font-size="8.2" font-weight="bold" text-anchor="middle" transform="rotate(-90 10.3 376.2)">Platelets x 10<tspan font-size="4.76" dy="-2.71">9</tspan><tspan dy="2.71"> / l</tspan></text>
<text x="70.1" y="394.3" font-size="8.7" fill="#222" stroke="#222" stroke-width="0.28">p&#8804;0.01</text>
<text x="57.5" y="438.4" font-size="8" font-weight="bold" font-style="italic" text-anchor="middle">Gfi1b<tspan font-size="0.62em" dy="-0.45em">fl/fl</tspan></text>
<text x="93.2" y="438.4" font-size="8" font-weight="bold" font-style="italic" text-anchor="middle">MxCre tg</text>
<text x="91.7" y="447.8" font-size="8" font-weight="bold" font-style="italic" text-anchor="middle">Gfi1b<tspan font-size="0.62em" dy="-0.45em">fl/fl</tspan></text>
<line x1="161.2" y1="366.5" x2="161.2" y2="363.5" stroke="#111" stroke-width="1.2"/>
<line x1="156.6" y1="363.5" x2="165.79999999999998" y2="363.5" stroke="#111" stroke-width="1.3"/>
<rect x="150.9" y="367.1" width="20.599999999999984" height="59.09999999999999" fill="#fff" stroke="#0a0a0a" stroke-width="1.3"/>
<line x1="192.10000000000002" y1="381" x2="192.10000000000002" y2="377.1" stroke="#111" stroke-width="1.2"/>
<line x1="187.50000000000003" y1="377.1" x2="196.70000000000002" y2="377.1" stroke="#111" stroke-width="1.3"/>
<rect x="182.4" y="381.6" width="19.399999999999995" height="44.59999999999999" fill="#1a1a1a" stroke="#0a0a0a" stroke-width="1.3"/>
<line x1="144.9" y1="330.2" x2="144.9" y2="426.8" stroke="#222" stroke-width="1.3"/>
<line x1="144.3" y1="426.2" x2="210" y2="426.2" stroke="#222" stroke-width="1.3"/>
<line x1="141.9" y1="330.8" x2="144.9" y2="330.8" stroke="#222" stroke-width="1.1"/>
<text x="141.3" y="333.428" font-size="7.3" font-weight="bold" text-anchor="end">15</text>
<line x1="141.9" y1="362.6" x2="144.9" y2="362.6" stroke="#222" stroke-width="1.1"/>
<text x="141.3" y="365.228" font-size="7.3" font-weight="bold" text-anchor="end">10</text>
<line x1="141.9" y1="394.4" x2="144.9" y2="394.4" stroke="#222" stroke-width="1.1"/>
<text x="141.3" y="397.02799999999996" font-size="7.3" font-weight="bold" text-anchor="end">5</text>
<line x1="141.9" y1="426.2" x2="144.9" y2="426.2" stroke="#222" stroke-width="1.1"/>
<text x="141.3" y="428.828" font-size="7.3" font-weight="bold" text-anchor="end">0</text>
<line x1="161.2" y1="426.2" x2="161.2" y2="428.59999999999997" stroke="#222" stroke-width="1.1"/>
<line x1="192.1" y1="426.2" x2="192.1" y2="428.59999999999997" stroke="#222" stroke-width="1.1"/>
<text x="143.7" y="323" font-size="10" font-weight="bold">Red blood cells</text>
<text x="128.6" y="384.7" font-size="8.3" font-weight="bold" text-anchor="middle" transform="rotate(-90 128.6 384.7)">RBC x 10<tspan font-size="4.81" dy="-2.74">12</tspan><tspan dy="2.74"> / l</tspan></text>
<text x="181.1" y="367.4" font-size="8" fill="#222" stroke="#222" stroke-width="0.28">p&#8804;0.01</text>
<text x="162.4" y="437.6" font-size="8" font-weight="bold" font-style="italic" text-anchor="middle">Gfi1b<tspan font-size="0.62em" dy="-0.45em">fl/fl</tspan></text>
<text x="198.5" y="437.6" font-size="8" font-weight="bold" font-style="italic" text-anchor="middle">MxCre tg</text>
<text x="196.8" y="447.3" font-size="8" font-weight="bold" font-style="italic" text-anchor="middle">Gfi1b<tspan font-size="0.62em" dy="-0.45em">fl/fl</tspan></text>
<line x1="276.20000000000005" y1="378.6" x2="276.20000000000005" y2="370.2" stroke="#111" stroke-width="1.2"/>
<line x1="271.6" y1="370.2" x2="280.80000000000007" y2="370.2" stroke="#111" stroke-width="1.3"/>
<rect x="265.90000000000003" y="379.20000000000005" width="20.600000000000012" height="46.999999999999964" fill="#fff" stroke="#0a0a0a" stroke-width="1.3"/>
<line x1="307.70000000000005" y1="365" x2="307.70000000000005" y2="353.5" stroke="#111" stroke-width="1.2"/>
<line x1="303.1" y1="353.5" x2="312.30000000000007" y2="353.5" stroke="#111" stroke-width="1.3"/>
<rect x="297.70000000000005" y="365.6" width="19.99999999999999" height="60.59999999999999" fill="#1a1a1a" stroke="#0a0a0a" stroke-width="1.3"/>
<line x1="260" y1="330.2" x2="260" y2="426.8" stroke="#222" stroke-width="1.3"/>
<line x1="259.4" y1="426.2" x2="325" y2="426.2" stroke="#222" stroke-width="1.3"/>
<line x1="257" y1="330.8" x2="260" y2="330.8" stroke="#222" stroke-width="1.1"/>
<text x="256.4" y="333.428" font-size="7.3" font-weight="bold" text-anchor="end">15</text>
<line x1="257" y1="362.6" x2="260" y2="362.6" stroke="#222" stroke-width="1.1"/>
<text x="256.4" y="365.228" font-size="7.3" font-weight="bold" text-anchor="end">10</text>
<line x1="257" y1="394.4" x2="260" y2="394.4" stroke="#222" stroke-width="1.1"/>
<text x="256.4" y="397.02799999999996" font-size="7.3" font-weight="bold" text-anchor="end">5</text>
<line x1="257" y1="426.2" x2="260" y2="426.2" stroke="#222" stroke-width="1.1"/>
<text x="256.4" y="428.828" font-size="7.3" font-weight="bold" text-anchor="end">0</text>
<line x1="276.2" y1="426.2" x2="276.2" y2="428.59999999999997" stroke="#222" stroke-width="1.1"/>
<line x1="307.7" y1="426.2" x2="307.7" y2="428.59999999999997" stroke="#222" stroke-width="1.1"/>
<text x="260.5" y="323.5" font-size="10" font-weight="bold">Leukocytes</text>
<text x="245" y="374" font-size="8.6" font-weight="bold" text-anchor="middle" transform="rotate(-90 245 374)">Leukocytes x 10<tspan font-size="4.99" dy="-2.84">9</tspan><tspan dy="2.84"> / l</tspan></text>
<text x="277" y="360.5" font-size="7.7" text-anchor="middle" fill="#333" stroke="#333" stroke-width="0.28">n.s.</text>
<text x="275" y="437.9" font-size="8" font-weight="bold" font-style="italic" text-anchor="middle">Gfi1b<tspan font-size="0.62em" dy="-0.45em">fl/fl</tspan></text>
<text x="310.8" y="437.9" font-size="8" font-weight="bold" font-style="italic" text-anchor="middle">MxCre tg</text>
<text x="309" y="447.5" font-size="8" font-weight="bold" font-style="italic" text-anchor="middle">Gfi1b<tspan font-size="0.62em" dy="-0.45em">fl/fl</tspan></text>
<defs><filter id="bl" x="-30%" y="-200%" width="160%" height="500%"><feGaussianBlur stdDeviation="1.0 0.8"/></filter><filter id="bl2" x="-30%" y="-200%" width="160%" height="500%"><feGaussianBlur stdDeviation="1.6 1.6"/></filter><filter id="bl3" x="-30%" y="-30%" width="160%" height="160%"><feGaussianBlur stdDeviation="2"/></filter></defs>
<rect x="358.8" y="337" width="100.2" height="52.7" fill="#171717"/>
<g filter="url(#bl3)">
<rect x="362" y="342" width="24" height="46" fill="#1e1e1e"/>
<rect x="388" y="342" width="22" height="46" fill="#1b1b1b"/>
<rect x="412" y="342" width="24" height="46" fill="#242424"/>
<rect x="439" y="342" width="19" height="46" fill="#262626"/>
</g>
<g filter="url(#bl2)">
<rect x="414" y="347" width="19.69999999999999" height="8" fill="#fff" fill-opacity="0.55"/>
<rect x="439" y="348.5" width="18.600000000000023" height="9.0" fill="#fff" fill-opacity="0.55"/>
<rect x="364" y="346.5" width="19.600000000000023" height="5.0" fill="#fff" fill-opacity="0.25"/>
</g>
<g filter="url(#bl)">
<rect x="364.5" y="347" width="18.69999999999999" height="4.199999999999989" rx="1.5" fill="#d0d0d0"/>
<rect x="389.5" y="347.4" width="19.0" height="3.400000000000034" rx="1.5" fill="#8a8a8a"/>
<rect x="414" y="348.2" width="19.69999999999999" height="5.600000000000023" rx="1.5" fill="#ffffff"/>
<rect x="439" y="349.6" width="18.600000000000023" height="6.599999999999966" rx="1.5" fill="#ffffff"/>
<rect x="414.5" y="379.2" width="19.0" height="4.0" rx="1.5" fill="#b0b0b0"/>
<rect x="439.8" y="380.9" width="17.599999999999966" height="4.2000000000000455" rx="1.5" fill="#b0b0b0"/>
</g>
<text x="461.6" y="359.7" font-size="8" font-weight="bold">KO allele</text>
<text x="461.6" y="386.4" font-size="8" font-weight="bold">Floxed allele</text>
<text x="372.4" y="401.9" font-size="8" font-weight="bold" text-anchor="middle">HSC</text>
<text x="396.5" y="401.9" font-size="8" font-weight="bold" text-anchor="middle">HSC</text>
<text x="425" y="401.9" font-size="8" font-weight="bold" text-anchor="middle">BM</text>
<text x="448.9" y="401.9" font-size="8" font-weight="bold" text-anchor="middle">BM</text>
</svg></body></html>
